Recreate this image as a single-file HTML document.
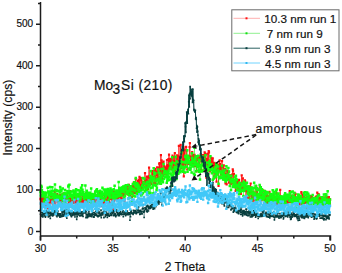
<!DOCTYPE html>
<html><head><meta charset="utf-8"><style>
html,body{margin:0;padding:0;background:#fff;}
svg{display:block;font-family:"Liberation Sans",sans-serif;}
text{stroke:#111;stroke-width:0.18px;}
</style></head><body>
<svg width="342" height="273" viewBox="0 0 342 273">
<rect width="342" height="273" fill="#fff"/>
<polyline fill="none" stroke="#ff1010" stroke-width="0.8" points="40.5,199.2 40.8,198.1 41.1,200.2 41.4,202.4 41.7,200.9 41.9,202.8 42.2,199.0 42.5,194.3 42.8,201.0 43.1,201.5 43.4,197.4 43.7,197.9 44.0,198.8 44.3,202.6 44.6,199.3 44.8,196.7 45.1,204.1 45.4,200.9 45.7,206.2 46.0,203.9 46.3,205.9 46.6,200.1 46.9,203.9 47.2,198.2 47.4,198.6 47.7,199.9 48.0,208.4 48.3,201.2 48.6,199.4 48.9,198.8 49.2,204.8 49.5,201.0 49.8,202.8 50.1,202.2 50.3,195.4 50.6,202.2 50.9,199.4 51.2,196.0 51.5,201.4 51.8,199.6 52.1,198.8 52.4,199.0 52.7,203.7 52.9,199.0 53.2,194.3 53.5,204.9 53.8,196.1 54.1,198.8 54.4,201.6 54.7,191.9 55.0,196.5 55.3,203.6 55.6,199.0 55.8,197.2 56.1,200.0 56.4,196.8 56.7,199.5 57.0,196.8 57.3,194.0 57.6,201.7 57.9,198.5 58.2,201.0 58.4,198.8 58.7,203.6 59.0,201.4 59.3,200.0 59.6,196.0 59.9,195.1 60.2,204.1 60.5,202.2 60.8,196.9 61.1,206.6 61.3,201.0 61.6,199.6 61.9,194.7 62.2,196.8 62.5,200.5 62.8,200.6 63.1,200.2 63.4,193.7 63.7,200.8 63.9,200.4 64.2,198.0 64.5,199.7 64.8,200.0 65.1,203.4 65.4,199.3 65.7,200.9 66.0,195.0 66.3,196.9 66.6,199.4 66.8,196.8 67.1,200.5 67.4,195.4 67.7,199.3 68.0,197.2 68.3,204.0 68.6,198.0 68.9,205.5 69.2,206.7 69.4,200.4 69.7,202.6 70.0,198.7 70.3,191.1 70.6,202.3 70.9,201.6 71.2,198.5 71.5,197.5 71.8,199.9 72.1,200.0 72.3,196.7 72.6,197.4 72.9,203.1 73.2,199.6 73.5,199.2 73.8,203.1 74.1,198.3 74.4,202.4 74.7,195.7 75.0,198.6 75.2,198.9 75.5,201.4 75.8,199.7 76.1,206.6 76.4,203.4 76.7,197.9 77.0,207.0 77.3,196.2 77.6,205.6 77.8,196.5 78.1,202.3 78.4,196.4 78.7,198.8 79.0,204.9 79.3,194.7 79.6,194.0 79.9,199.5 80.2,200.2 80.5,199.8 80.7,202.8 81.0,195.2 81.3,201.2 81.6,199.4 81.9,202.1 82.2,201.5 82.5,203.9 82.8,194.6 83.1,199.7 83.3,195.6 83.6,199.1 83.9,201.7 84.2,200.4 84.5,201.2 84.8,199.1 85.1,200.5 85.4,200.2 85.7,204.2 86.0,202.1 86.2,193.0 86.5,201.6 86.8,203.0 87.1,197.9 87.4,193.9 87.7,204.4 88.0,199.8 88.3,201.4 88.6,205.5 88.8,196.3 89.1,199.1 89.4,198.8 89.7,201.8 90.0,197.3 90.3,201.0 90.6,199.5 90.9,203.0 91.2,203.4 91.5,194.0 91.7,200.8 92.0,197.8 92.3,199.0 92.6,200.5 92.9,200.8 93.2,196.5 93.5,200.0 93.8,199.4 94.1,198.7 94.3,194.5 94.6,196.3 94.9,197.4 95.2,200.8 95.5,203.9 95.8,195.2 96.1,195.1 96.4,199.2 96.7,196.7 97.0,195.7 97.2,195.5 97.5,195.2 97.8,200.3 98.1,192.9 98.4,203.2 98.7,195.3 99.0,196.7 99.3,195.2 99.6,191.5 99.8,192.9 100.1,202.7 100.4,204.7 100.7,195.3 101.0,202.1 101.3,198.3 101.6,195.1 101.9,204.4 102.2,206.1 102.5,197.2 102.7,198.0 103.0,199.1 103.3,198.0 103.6,201.3 103.9,203.7 104.2,198.6 104.5,201.6 104.8,204.1 105.1,196.0 105.3,198.1 105.6,196.3 105.9,201.5 106.2,200.2 106.5,201.5 106.8,201.0 107.1,196.9 107.4,200.6 107.7,196.2 108.0,196.2 108.2,189.8 108.5,202.7 108.8,194.0 109.1,197.7 109.4,197.3 109.7,202.8 110.0,199.0 110.3,194.3 110.6,197.4 110.8,196.7 111.1,198.1 111.4,192.5 111.7,197.0 112.0,205.3 112.3,199.4 112.6,204.3 112.9,209.2 113.2,198.7 113.5,191.4 113.7,196.3 114.0,201.0 114.3,200.0 114.6,191.9 114.9,195.6 115.2,196.0 115.5,196.3 115.8,195.9 116.1,192.8 116.3,193.7 116.6,195.0 116.9,199.9 117.2,193.7 117.5,198.3 117.8,191.2 118.1,200.5 118.4,195.9 118.7,195.3 119.0,200.5 119.2,188.3 119.5,189.2 119.8,196.8 120.1,191.8 120.4,193.3 120.7,205.2 121.0,193.6 121.3,194.8 121.6,194.1 121.8,198.7 122.1,195.3 122.4,194.9 122.7,189.2 123.0,192.6 123.3,193.9 123.6,187.5 123.9,195.9 124.2,195.2 124.5,200.9 124.7,186.9 125.0,189.3 125.3,189.3 125.6,190.3 125.9,192.5 126.2,191.9 126.5,193.7 126.8,193.4 127.1,192.2 127.3,186.0 127.6,189.9 127.9,192.3 128.2,194.4 128.5,194.5 128.8,184.9 129.1,189.4 129.4,191.2 129.7,192.8 130.0,196.0 130.2,191.4 130.5,187.2 130.8,192.5 131.1,191.7 131.4,191.5 131.7,189.9 132.0,197.2 132.3,191.1 132.6,193.7 132.9,185.9 133.1,193.1 133.4,187.0 133.7,182.6 134.0,190.6 134.3,191.7 134.6,188.1 134.9,188.8 135.2,193.0 135.5,186.4 135.7,179.2 136.0,189.3 136.3,188.9 136.6,192.5 136.9,186.2 137.2,193.1 137.5,192.3 137.8,181.2 138.1,191.1 138.4,181.8 138.6,179.5 138.9,185.2 139.2,183.6 139.5,176.9 139.8,186.8 140.1,188.5 140.4,191.9 140.7,185.1 141.0,178.1 141.2,180.4 141.5,189.3 141.8,188.7 142.1,186.8 142.4,182.8 142.7,185.0 143.0,182.7 143.3,182.1 143.6,184.9 143.9,183.4 144.1,182.0 144.4,183.2 144.7,180.1 145.0,173.1 145.3,179.2 145.6,181.7 145.9,190.2 146.2,179.6 146.5,191.2 146.7,188.3 147.0,176.6 147.3,177.1 147.6,181.3 147.9,189.0 148.2,182.0 148.5,183.4 148.8,176.4 149.1,167.7 149.4,178.1 149.6,183.1 149.9,184.9 150.2,178.8 150.5,179.3 150.8,184.2 151.1,177.3 151.4,183.8 151.7,171.5 152.0,171.5 152.2,171.2 152.5,179.3 152.8,173.8 153.1,177.0 153.4,178.2 153.7,177.7 154.0,182.7 154.3,183.3 154.6,170.8 154.9,176.0 155.1,173.5 155.4,168.9 155.7,183.9 156.0,178.4 156.3,172.8 156.6,171.4 156.9,175.5 157.2,167.3 157.5,171.7 157.7,179.6 158.0,177.7 158.3,167.6 158.6,169.3 158.9,182.7 159.2,163.7 159.5,167.8 159.8,163.2 160.1,173.1 160.4,172.3 160.6,177.0 160.9,155.2 161.2,170.9 161.5,160.3 161.8,173.3 162.1,168.2 162.4,179.0 162.7,171.1 163.0,162.6 163.2,175.9 163.5,161.6 163.8,165.8 164.1,174.0 164.4,170.5 164.7,170.0 165.0,167.3 165.3,170.1 165.6,171.7 165.9,168.3 166.1,172.5 166.4,174.0 166.7,166.0 167.0,160.0 167.3,174.9 167.6,165.1 167.9,169.0 168.2,170.9 168.5,159.1 168.7,167.6 169.0,154.6 169.3,168.9 169.6,161.3 169.9,165.0 170.2,168.2 170.5,159.4 170.8,164.0 171.1,158.9 171.4,162.9 171.6,169.5 171.9,162.9 172.2,161.7 172.5,155.6 172.8,167.6 173.1,161.8 173.4,172.7 173.7,156.9 174.0,168.2 174.2,172.8 174.5,161.1 174.8,153.2 175.1,170.5 175.4,167.5 175.7,165.0 176.0,167.5 176.3,157.2 176.6,165.1 176.9,164.3 177.1,155.4 177.4,164.3 177.7,156.2 178.0,165.5 178.3,167.0 178.6,171.1 178.9,145.9 179.2,160.6 179.5,156.7 179.7,158.4 180.0,157.0 180.3,157.7 180.6,144.8 180.9,164.9 181.2,168.4 181.5,164.5 181.8,166.7 182.1,152.3 182.4,151.7 182.6,163.9 182.9,166.7 183.2,159.5 183.5,147.4 183.8,176.4 184.1,153.2 184.4,164.2 184.7,149.5 185.0,164.1 185.2,158.6 185.5,167.0 185.8,163.3 186.1,146.8 186.4,150.7 186.7,159.2 187.0,162.4 187.3,169.5 187.6,159.0 187.9,156.4 188.1,156.8 188.4,156.8 188.7,164.0 189.0,156.6 189.3,156.4 189.6,147.1 189.9,143.1 190.2,157.1 190.5,161.5 190.8,156.6 191.0,160.4 191.3,161.3 191.6,156.6 191.9,163.5 192.2,152.0 192.5,157.0 192.8,154.5 193.1,157.6 193.4,161.4 193.6,163.0 193.9,158.1 194.2,160.3 194.5,154.9 194.8,156.6 195.1,166.1 195.4,156.2 195.7,166.0 196.0,161.1 196.3,158.9 196.5,171.3 196.8,156.4 197.1,156.0 197.4,158.2 197.7,160.2 198.0,159.9 198.3,164.1 198.6,159.4 198.9,161.4 199.1,157.1 199.4,166.1 199.7,156.3 200.0,157.0 200.3,159.1 200.6,161.2 200.9,154.6 201.2,169.8 201.5,155.5 201.8,157.1 202.0,156.9 202.3,156.4 202.6,163.5 202.9,161.0 203.2,155.1 203.5,156.6 203.8,158.3 204.1,169.9 204.4,156.3 204.6,152.3 204.9,153.5 205.2,158.8 205.5,170.9 205.8,154.5 206.1,161.9 206.4,177.8 206.7,158.7 207.0,171.2 207.3,170.1 207.5,165.9 207.8,153.6 208.1,164.5 208.4,160.5 208.7,151.1 209.0,152.3 209.3,163.5 209.6,164.6 209.9,171.3 210.1,167.8 210.4,160.8 210.7,161.2 211.0,163.3 211.3,157.8 211.6,169.3 211.9,164.9 212.2,160.1 212.5,161.3 212.8,158.4 213.0,162.9 213.3,167.5 213.6,163.5 213.9,172.3 214.2,176.4 214.5,162.8 214.8,167.0 215.1,165.0 215.4,177.5 215.6,169.5 215.9,171.2 216.2,173.0 216.5,181.7 216.8,170.2 217.1,163.0 217.4,166.3 217.7,172.5 218.0,169.2 218.3,164.8 218.5,186.0 218.8,170.5 219.1,166.8 219.4,166.2 219.7,160.5 220.0,164.0 220.3,169.1 220.6,169.4 220.9,166.8 221.1,174.7 221.4,172.1 221.7,166.9 222.0,161.1 222.3,173.5 222.6,173.1 222.9,171.9 223.2,165.6 223.5,173.7 223.8,165.4 224.0,179.4 224.3,175.2 224.6,175.5 224.9,170.3 225.2,169.1 225.5,183.5 225.8,180.4 226.1,173.7 226.4,179.4 226.6,184.3 226.9,170.6 227.2,173.8 227.5,174.1 227.8,179.5 228.1,171.7 228.4,178.7 228.7,171.8 229.0,182.7 229.3,182.6 229.5,177.3 229.8,182.3 230.1,175.2 230.4,177.6 230.7,184.0 231.0,179.1 231.3,181.5 231.6,175.2 231.9,183.4 232.1,182.6 232.4,174.4 232.7,169.4 233.0,170.8 233.3,180.9 233.6,180.3 233.9,173.9 234.2,182.5 234.5,186.9 234.8,181.7 235.0,180.2 235.3,186.8 235.6,191.0 235.9,190.2 236.2,180.1 236.5,187.2 236.8,184.4 237.1,182.9 237.4,181.1 237.6,185.9 237.9,182.1 238.2,189.0 238.5,186.6 238.8,190.0 239.1,179.9 239.4,185.6 239.7,189.2 240.0,187.5 240.3,187.1 240.5,183.0 240.8,193.9 241.1,191.4 241.4,188.6 241.7,175.3 242.0,182.8 242.3,187.9 242.6,184.3 242.9,178.3 243.1,188.9 243.4,189.7 243.7,182.7 244.0,186.2 244.3,185.5 244.6,191.0 244.9,180.3 245.2,181.4 245.5,186.7 245.8,186.3 246.0,198.5 246.3,186.9 246.6,190.7 246.9,188.1 247.2,187.2 247.5,191.8 247.8,197.8 248.1,189.0 248.4,194.0 248.7,192.3 248.9,193.7 249.2,192.7 249.5,201.2 249.8,186.3 250.1,190.5 250.4,187.0 250.7,183.5 251.0,191.9 251.3,199.8 251.5,196.1 251.8,197.5 252.1,194.7 252.4,192.4 252.7,201.2 253.0,191.5 253.3,199.3 253.6,191.9 253.9,193.8 254.2,194.7 254.4,193.8 254.7,195.9 255.0,196.3 255.3,200.8 255.6,194.1 255.9,186.6 256.2,186.2 256.5,189.0 256.8,191.6 257.0,197.3 257.3,188.8 257.6,195.0 257.9,195.1 258.2,196.1 258.5,194.7 258.8,196.9 259.1,195.6 259.4,199.6 259.7,196.9 259.9,186.5 260.2,195.9 260.5,196.6 260.8,193.7 261.1,193.1 261.4,200.3 261.7,196.8 262.0,192.5 262.3,195.1 262.5,195.8 262.8,190.3 263.1,199.1 263.4,196.2 263.7,198.6 264.0,190.9 264.3,204.3 264.6,199.4 264.9,198.9 265.2,194.4 265.4,194.7 265.7,191.7 266.0,203.2 266.3,194.4 266.6,198.4 266.9,199.9 267.2,195.4 267.5,201.0 267.8,205.5 268.0,199.0 268.3,203.4 268.6,200.2 268.9,196.4 269.2,196.7 269.5,191.9 269.8,198.7 270.1,203.8 270.4,200.9 270.7,201.6 270.9,202.8 271.2,196.6 271.5,200.7 271.8,205.7 272.1,195.7 272.4,198.8 272.7,197.1 273.0,198.1 273.3,196.2 273.5,198.4 273.8,194.0 274.1,197.1 274.4,197.3 274.7,197.2 275.0,204.2 275.3,199.4 275.6,199.8 275.9,198.1 276.2,204.0 276.4,192.9 276.7,198.6 277.0,203.5 277.3,205.4 277.6,200.2 277.9,199.5 278.2,201.8 278.5,198.9 278.8,201.6 279.0,197.3 279.3,202.0 279.6,199.5 279.9,195.8 280.2,190.0 280.5,203.1 280.8,201.2 281.1,202.6 281.4,196.6 281.7,203.7 281.9,201.3 282.2,199.7 282.5,203.2 282.8,203.1 283.1,201.4 283.4,207.4 283.7,205.0 284.0,201.2 284.3,199.2 284.5,200.5 284.8,206.3 285.1,201.5 285.4,196.9 285.7,197.8 286.0,200.2 286.3,203.1 286.6,197.6 286.9,202.0 287.2,204.2 287.4,202.9 287.7,194.7 288.0,199.2 288.3,195.8 288.6,201.8 288.9,196.7 289.2,202.3 289.5,200.7 289.8,191.1 290.0,197.3 290.3,201.9 290.6,200.5 290.9,199.0 291.2,195.8 291.5,202.0 291.8,206.5 292.1,201.2 292.4,200.2 292.7,199.8 292.9,195.5 293.2,199.1 293.5,197.3 293.8,204.3 294.1,197.2 294.4,192.8 294.7,197.5 295.0,199.4 295.3,199.8 295.5,193.9 295.8,203.7 296.1,200.8 296.4,198.7 296.7,197.7 297.0,202.0 297.3,199.3 297.6,201.4 297.9,200.0 298.2,200.9 298.4,204.5 298.7,200.5 299.0,197.3 299.3,203.9 299.6,201.3 299.9,198.1 300.2,204.3 300.5,199.8 300.8,204.3 301.0,196.4 301.3,192.2 301.6,193.3 301.9,201.3 302.2,197.9 302.5,200.1 302.8,200.2 303.1,195.0 303.4,205.3 303.7,196.8 303.9,200.7 304.2,195.5 304.5,199.9 304.8,203.0 305.1,199.6 305.4,198.0 305.7,200.5 306.0,198.9 306.3,202.5 306.6,208.2 306.8,197.4 307.1,198.1 307.4,200.1 307.7,200.4 308.0,196.9 308.3,202.3 308.6,203.2 308.9,201.3 309.2,196.4 309.4,205.6 309.7,196.4 310.0,202.9 310.3,204.6 310.6,196.2 310.9,201.0 311.2,205.3 311.5,202.0 311.8,197.4 312.1,196.4 312.3,202.2 312.6,199.2 312.9,198.1 313.2,203.0 313.5,199.4 313.8,200.8 314.1,202.6 314.4,202.5 314.7,200.5 314.9,200.6 315.2,202.7 315.5,202.2 315.8,196.7 316.1,200.0 316.4,197.6 316.7,196.4 317.0,198.6 317.3,192.6 317.6,203.7 317.8,197.9 318.1,201.9 318.4,194.1 318.7,194.7 319.0,207.7 319.3,204.2 319.6,198.4 319.9,197.9 320.2,198.1 320.4,201.0 320.7,199.1 321.0,198.4 321.3,201.1 321.6,197.1 321.9,208.8 322.2,198.5 322.5,204.5 322.8,197.4 323.1,201.6 323.3,204.0 323.6,199.5 323.9,204.0 324.2,204.1 324.5,206.4 324.8,200.9 325.1,199.0 325.4,197.2 325.7,201.3 325.9,197.1 326.2,200.7 326.5,201.1 326.8,198.8 327.1,197.0 327.4,202.0 327.7,201.7 328.0,201.4 328.3,200.5 328.6,204.0 328.8,197.2 329.1,202.3 329.4,199.2 329.7,203.8 330.0,199.6"/><path fill="#ff1010" d="M39.40 198.08h2.2v2.2h-2.2zM39.69 196.99h2.2v2.2h-2.2zM39.98 199.09h2.2v2.2h-2.2zM40.27 201.35h2.2v2.2h-2.2zM40.56 199.75h2.2v2.2h-2.2zM40.85 201.72h2.2v2.2h-2.2zM41.14 197.87h2.2v2.2h-2.2zM41.43 193.19h2.2v2.2h-2.2zM41.72 199.90h2.2v2.2h-2.2zM42.01 200.37h2.2v2.2h-2.2zM42.29 196.31h2.2v2.2h-2.2zM42.58 196.79h2.2v2.2h-2.2zM42.87 197.72h2.2v2.2h-2.2zM43.16 201.51h2.2v2.2h-2.2zM43.45 198.21h2.2v2.2h-2.2zM43.74 195.56h2.2v2.2h-2.2zM44.03 203.02h2.2v2.2h-2.2zM44.32 199.78h2.2v2.2h-2.2zM44.61 205.06h2.2v2.2h-2.2zM44.90 202.83h2.2v2.2h-2.2zM45.19 204.85h2.2v2.2h-2.2zM45.48 198.98h2.2v2.2h-2.2zM45.77 202.75h2.2v2.2h-2.2zM46.06 197.13h2.2v2.2h-2.2zM46.35 197.55h2.2v2.2h-2.2zM46.64 198.81h2.2v2.2h-2.2zM46.93 207.33h2.2v2.2h-2.2zM47.22 200.09h2.2v2.2h-2.2zM47.51 198.30h2.2v2.2h-2.2zM47.80 197.71h2.2v2.2h-2.2zM48.08 203.72h2.2v2.2h-2.2zM48.37 199.88h2.2v2.2h-2.2zM48.66 201.71h2.2v2.2h-2.2zM48.95 201.09h2.2v2.2h-2.2zM49.24 194.26h2.2v2.2h-2.2zM49.53 201.09h2.2v2.2h-2.2zM49.82 198.26h2.2v2.2h-2.2zM50.11 194.91h2.2v2.2h-2.2zM50.40 200.27h2.2v2.2h-2.2zM50.69 198.55h2.2v2.2h-2.2zM50.98 197.74h2.2v2.2h-2.2zM51.27 197.91h2.2v2.2h-2.2zM51.56 202.62h2.2v2.2h-2.2zM51.85 197.87h2.2v2.2h-2.2zM52.14 193.18h2.2v2.2h-2.2zM52.43 203.81h2.2v2.2h-2.2zM52.72 195.01h2.2v2.2h-2.2zM53.01 197.72h2.2v2.2h-2.2zM53.30 200.50h2.2v2.2h-2.2zM53.59 190.84h2.2v2.2h-2.2zM53.87 195.37h2.2v2.2h-2.2zM54.16 202.54h2.2v2.2h-2.2zM54.45 197.89h2.2v2.2h-2.2zM54.74 196.05h2.2v2.2h-2.2zM55.03 198.85h2.2v2.2h-2.2zM55.32 195.67h2.2v2.2h-2.2zM55.61 198.41h2.2v2.2h-2.2zM55.90 195.73h2.2v2.2h-2.2zM56.19 192.91h2.2v2.2h-2.2zM56.48 200.64h2.2v2.2h-2.2zM56.77 197.43h2.2v2.2h-2.2zM57.06 199.86h2.2v2.2h-2.2zM57.35 197.71h2.2v2.2h-2.2zM57.64 202.51h2.2v2.2h-2.2zM57.93 200.29h2.2v2.2h-2.2zM58.22 198.89h2.2v2.2h-2.2zM58.51 194.89h2.2v2.2h-2.2zM58.80 193.99h2.2v2.2h-2.2zM59.09 203.01h2.2v2.2h-2.2zM59.38 201.08h2.2v2.2h-2.2zM59.66 195.81h2.2v2.2h-2.2zM59.95 205.46h2.2v2.2h-2.2zM60.24 199.87h2.2v2.2h-2.2zM60.53 198.54h2.2v2.2h-2.2zM60.82 193.59h2.2v2.2h-2.2zM61.11 195.66h2.2v2.2h-2.2zM61.40 199.38h2.2v2.2h-2.2zM61.69 199.53h2.2v2.2h-2.2zM61.98 199.10h2.2v2.2h-2.2zM62.27 192.62h2.2v2.2h-2.2zM62.56 199.75h2.2v2.2h-2.2zM62.85 199.30h2.2v2.2h-2.2zM63.14 196.90h2.2v2.2h-2.2zM63.43 198.63h2.2v2.2h-2.2zM63.72 198.91h2.2v2.2h-2.2zM64.01 202.26h2.2v2.2h-2.2zM64.30 198.23h2.2v2.2h-2.2zM64.59 199.81h2.2v2.2h-2.2zM64.88 193.93h2.2v2.2h-2.2zM65.17 195.80h2.2v2.2h-2.2zM65.45 198.28h2.2v2.2h-2.2zM65.74 195.75h2.2v2.2h-2.2zM66.03 199.43h2.2v2.2h-2.2zM66.32 194.35h2.2v2.2h-2.2zM66.61 198.21h2.2v2.2h-2.2zM66.90 196.06h2.2v2.2h-2.2zM67.19 202.91h2.2v2.2h-2.2zM67.48 196.92h2.2v2.2h-2.2zM67.77 204.36h2.2v2.2h-2.2zM68.06 205.63h2.2v2.2h-2.2zM68.35 199.30h2.2v2.2h-2.2zM68.64 201.48h2.2v2.2h-2.2zM68.93 197.59h2.2v2.2h-2.2zM69.22 189.99h2.2v2.2h-2.2zM69.51 201.23h2.2v2.2h-2.2zM69.80 200.47h2.2v2.2h-2.2zM70.09 197.44h2.2v2.2h-2.2zM70.38 196.38h2.2v2.2h-2.2zM70.67 198.83h2.2v2.2h-2.2zM70.96 198.94h2.2v2.2h-2.2zM71.24 195.62h2.2v2.2h-2.2zM71.53 196.28h2.2v2.2h-2.2zM71.82 201.96h2.2v2.2h-2.2zM72.11 198.47h2.2v2.2h-2.2zM72.40 198.05h2.2v2.2h-2.2zM72.69 202.03h2.2v2.2h-2.2zM72.98 197.23h2.2v2.2h-2.2zM73.27 201.31h2.2v2.2h-2.2zM73.56 194.62h2.2v2.2h-2.2zM73.85 197.47h2.2v2.2h-2.2zM74.14 197.85h2.2v2.2h-2.2zM74.43 200.33h2.2v2.2h-2.2zM74.72 198.60h2.2v2.2h-2.2zM75.01 205.47h2.2v2.2h-2.2zM75.30 202.30h2.2v2.2h-2.2zM75.59 196.83h2.2v2.2h-2.2zM75.88 205.95h2.2v2.2h-2.2zM76.17 195.06h2.2v2.2h-2.2zM76.46 204.54h2.2v2.2h-2.2zM76.75 195.38h2.2v2.2h-2.2zM77.03 201.24h2.2v2.2h-2.2zM77.32 195.30h2.2v2.2h-2.2zM77.61 197.66h2.2v2.2h-2.2zM77.90 203.76h2.2v2.2h-2.2zM78.19 193.57h2.2v2.2h-2.2zM78.48 192.86h2.2v2.2h-2.2zM78.77 198.37h2.2v2.2h-2.2zM79.06 199.13h2.2v2.2h-2.2zM79.35 198.71h2.2v2.2h-2.2zM79.64 201.69h2.2v2.2h-2.2zM79.93 194.09h2.2v2.2h-2.2zM80.22 200.10h2.2v2.2h-2.2zM80.51 198.29h2.2v2.2h-2.2zM80.80 201.01h2.2v2.2h-2.2zM81.09 200.39h2.2v2.2h-2.2zM81.38 202.77h2.2v2.2h-2.2zM81.67 193.48h2.2v2.2h-2.2zM81.96 198.65h2.2v2.2h-2.2zM82.25 194.54h2.2v2.2h-2.2zM82.54 198.02h2.2v2.2h-2.2zM82.82 200.61h2.2v2.2h-2.2zM83.11 199.26h2.2v2.2h-2.2zM83.40 200.11h2.2v2.2h-2.2zM83.69 198.02h2.2v2.2h-2.2zM83.98 199.42h2.2v2.2h-2.2zM84.27 199.14h2.2v2.2h-2.2zM84.56 203.09h2.2v2.2h-2.2zM84.85 200.98h2.2v2.2h-2.2zM85.14 191.94h2.2v2.2h-2.2zM85.43 200.47h2.2v2.2h-2.2zM85.72 201.87h2.2v2.2h-2.2zM86.01 196.75h2.2v2.2h-2.2zM86.30 192.82h2.2v2.2h-2.2zM86.59 203.32h2.2v2.2h-2.2zM86.88 198.73h2.2v2.2h-2.2zM87.17 200.28h2.2v2.2h-2.2zM87.46 204.42h2.2v2.2h-2.2zM87.75 195.24h2.2v2.2h-2.2zM88.04 198.02h2.2v2.2h-2.2zM88.33 197.66h2.2v2.2h-2.2zM88.61 200.68h2.2v2.2h-2.2zM88.90 196.23h2.2v2.2h-2.2zM89.19 199.87h2.2v2.2h-2.2zM89.48 198.40h2.2v2.2h-2.2zM89.77 201.95h2.2v2.2h-2.2zM90.06 202.33h2.2v2.2h-2.2zM90.35 192.92h2.2v2.2h-2.2zM90.64 199.70h2.2v2.2h-2.2zM90.93 196.74h2.2v2.2h-2.2zM91.22 197.93h2.2v2.2h-2.2zM91.51 199.42h2.2v2.2h-2.2zM91.80 199.65h2.2v2.2h-2.2zM92.09 195.44h2.2v2.2h-2.2zM92.38 198.86h2.2v2.2h-2.2zM92.67 198.29h2.2v2.2h-2.2zM92.96 197.64h2.2v2.2h-2.2zM93.25 193.36h2.2v2.2h-2.2zM93.54 195.17h2.2v2.2h-2.2zM93.83 196.26h2.2v2.2h-2.2zM94.12 199.74h2.2v2.2h-2.2zM94.40 202.75h2.2v2.2h-2.2zM94.69 194.11h2.2v2.2h-2.2zM94.98 194.02h2.2v2.2h-2.2zM95.27 198.11h2.2v2.2h-2.2zM95.56 195.56h2.2v2.2h-2.2zM95.85 194.65h2.2v2.2h-2.2zM96.14 194.44h2.2v2.2h-2.2zM96.43 194.09h2.2v2.2h-2.2zM96.72 199.18h2.2v2.2h-2.2zM97.01 191.84h2.2v2.2h-2.2zM97.30 202.08h2.2v2.2h-2.2zM97.59 194.22h2.2v2.2h-2.2zM97.88 195.56h2.2v2.2h-2.2zM98.17 194.13h2.2v2.2h-2.2zM98.46 190.36h2.2v2.2h-2.2zM98.75 191.80h2.2v2.2h-2.2zM99.04 201.57h2.2v2.2h-2.2zM99.33 203.58h2.2v2.2h-2.2zM99.62 194.21h2.2v2.2h-2.2zM99.91 201.02h2.2v2.2h-2.2zM100.19 197.25h2.2v2.2h-2.2zM100.48 194.04h2.2v2.2h-2.2zM100.77 203.29h2.2v2.2h-2.2zM101.06 205.01h2.2v2.2h-2.2zM101.35 196.12h2.2v2.2h-2.2zM101.64 196.89h2.2v2.2h-2.2zM101.93 197.95h2.2v2.2h-2.2zM102.22 196.85h2.2v2.2h-2.2zM102.51 200.20h2.2v2.2h-2.2zM102.80 202.62h2.2v2.2h-2.2zM103.09 197.53h2.2v2.2h-2.2zM103.38 200.52h2.2v2.2h-2.2zM103.67 203.02h2.2v2.2h-2.2zM103.96 194.90h2.2v2.2h-2.2zM104.25 197.00h2.2v2.2h-2.2zM104.54 195.19h2.2v2.2h-2.2zM104.83 200.43h2.2v2.2h-2.2zM105.12 199.14h2.2v2.2h-2.2zM105.41 200.39h2.2v2.2h-2.2zM105.70 199.93h2.2v2.2h-2.2zM105.98 195.80h2.2v2.2h-2.2zM106.27 199.46h2.2v2.2h-2.2zM106.56 195.10h2.2v2.2h-2.2zM106.85 195.12h2.2v2.2h-2.2zM107.14 188.67h2.2v2.2h-2.2zM107.43 201.62h2.2v2.2h-2.2zM107.72 192.90h2.2v2.2h-2.2zM108.01 196.58h2.2v2.2h-2.2zM108.30 196.24h2.2v2.2h-2.2zM108.59 201.68h2.2v2.2h-2.2zM108.88 197.85h2.2v2.2h-2.2zM109.17 193.20h2.2v2.2h-2.2zM109.46 196.31h2.2v2.2h-2.2zM109.75 195.63h2.2v2.2h-2.2zM110.04 197.01h2.2v2.2h-2.2zM110.33 191.41h2.2v2.2h-2.2zM110.62 195.87h2.2v2.2h-2.2zM110.91 204.20h2.2v2.2h-2.2zM111.20 198.34h2.2v2.2h-2.2zM111.49 203.22h2.2v2.2h-2.2zM111.77 208.12h2.2v2.2h-2.2zM112.06 197.56h2.2v2.2h-2.2zM112.35 190.28h2.2v2.2h-2.2zM112.64 195.20h2.2v2.2h-2.2zM112.93 199.88h2.2v2.2h-2.2zM113.22 198.92h2.2v2.2h-2.2zM113.51 190.80h2.2v2.2h-2.2zM113.80 194.52h2.2v2.2h-2.2zM114.09 194.88h2.2v2.2h-2.2zM114.38 195.21h2.2v2.2h-2.2zM114.67 194.79h2.2v2.2h-2.2zM114.96 191.71h2.2v2.2h-2.2zM115.25 192.63h2.2v2.2h-2.2zM115.54 193.88h2.2v2.2h-2.2zM115.83 198.76h2.2v2.2h-2.2zM116.12 192.57h2.2v2.2h-2.2zM116.41 197.21h2.2v2.2h-2.2zM116.70 190.11h2.2v2.2h-2.2zM116.99 199.38h2.2v2.2h-2.2zM117.28 194.82h2.2v2.2h-2.2zM117.56 194.23h2.2v2.2h-2.2zM117.85 199.38h2.2v2.2h-2.2zM118.14 187.18h2.2v2.2h-2.2zM118.43 188.13h2.2v2.2h-2.2zM118.72 195.72h2.2v2.2h-2.2zM119.01 190.70h2.2v2.2h-2.2zM119.30 192.18h2.2v2.2h-2.2zM119.59 204.10h2.2v2.2h-2.2zM119.88 192.52h2.2v2.2h-2.2zM120.17 193.68h2.2v2.2h-2.2zM120.46 193.01h2.2v2.2h-2.2zM120.75 197.60h2.2v2.2h-2.2zM121.04 194.25h2.2v2.2h-2.2zM121.33 193.78h2.2v2.2h-2.2zM121.62 188.14h2.2v2.2h-2.2zM121.91 191.51h2.2v2.2h-2.2zM122.20 192.79h2.2v2.2h-2.2zM122.49 186.42h2.2v2.2h-2.2zM122.78 194.84h2.2v2.2h-2.2zM123.07 194.06h2.2v2.2h-2.2zM123.35 199.83h2.2v2.2h-2.2zM123.64 185.79h2.2v2.2h-2.2zM123.93 188.17h2.2v2.2h-2.2zM124.22 188.25h2.2v2.2h-2.2zM124.51 189.16h2.2v2.2h-2.2zM124.80 191.36h2.2v2.2h-2.2zM125.09 190.81h2.2v2.2h-2.2zM125.38 192.64h2.2v2.2h-2.2zM125.67 192.32h2.2v2.2h-2.2zM125.96 191.13h2.2v2.2h-2.2zM126.25 184.89h2.2v2.2h-2.2zM126.54 188.78h2.2v2.2h-2.2zM126.83 191.24h2.2v2.2h-2.2zM127.12 193.32h2.2v2.2h-2.2zM127.41 193.44h2.2v2.2h-2.2zM127.70 183.82h2.2v2.2h-2.2zM127.99 188.34h2.2v2.2h-2.2zM128.28 190.08h2.2v2.2h-2.2zM128.57 191.72h2.2v2.2h-2.2zM128.86 194.86h2.2v2.2h-2.2zM129.14 190.26h2.2v2.2h-2.2zM129.43 186.08h2.2v2.2h-2.2zM129.72 191.40h2.2v2.2h-2.2zM130.01 190.55h2.2v2.2h-2.2zM130.30 190.39h2.2v2.2h-2.2zM130.59 188.81h2.2v2.2h-2.2zM130.88 196.09h2.2v2.2h-2.2zM131.17 190.03h2.2v2.2h-2.2zM131.46 192.60h2.2v2.2h-2.2zM131.75 184.83h2.2v2.2h-2.2zM132.04 191.96h2.2v2.2h-2.2zM132.33 185.87h2.2v2.2h-2.2zM132.62 181.52h2.2v2.2h-2.2zM132.91 189.50h2.2v2.2h-2.2zM133.20 190.64h2.2v2.2h-2.2zM133.49 186.95h2.2v2.2h-2.2zM133.78 187.66h2.2v2.2h-2.2zM134.07 191.94h2.2v2.2h-2.2zM134.36 185.26h2.2v2.2h-2.2zM134.65 178.08h2.2v2.2h-2.2zM134.93 188.17h2.2v2.2h-2.2zM135.22 187.76h2.2v2.2h-2.2zM135.51 191.43h2.2v2.2h-2.2zM135.80 185.06h2.2v2.2h-2.2zM136.09 192.04h2.2v2.2h-2.2zM136.38 191.25h2.2v2.2h-2.2zM136.67 180.12h2.2v2.2h-2.2zM136.96 190.00h2.2v2.2h-2.2zM137.25 180.66h2.2v2.2h-2.2zM137.54 178.41h2.2v2.2h-2.2zM137.83 184.10h2.2v2.2h-2.2zM138.12 182.54h2.2v2.2h-2.2zM138.41 175.81h2.2v2.2h-2.2zM138.70 185.69h2.2v2.2h-2.2zM138.99 187.37h2.2v2.2h-2.2zM139.28 190.79h2.2v2.2h-2.2zM139.57 184.02h2.2v2.2h-2.2zM139.86 177.00h2.2v2.2h-2.2zM140.15 179.27h2.2v2.2h-2.2zM140.44 188.15h2.2v2.2h-2.2zM140.72 187.56h2.2v2.2h-2.2zM141.01 185.69h2.2v2.2h-2.2zM141.30 181.67h2.2v2.2h-2.2zM141.59 183.88h2.2v2.2h-2.2zM141.88 181.65h2.2v2.2h-2.2zM142.17 181.05h2.2v2.2h-2.2zM142.46 183.75h2.2v2.2h-2.2zM142.75 182.29h2.2v2.2h-2.2zM143.04 180.88h2.2v2.2h-2.2zM143.33 182.11h2.2v2.2h-2.2zM143.62 179.00h2.2v2.2h-2.2zM143.91 172.01h2.2v2.2h-2.2zM144.20 178.14h2.2v2.2h-2.2zM144.49 180.60h2.2v2.2h-2.2zM144.78 189.11h2.2v2.2h-2.2zM145.07 178.51h2.2v2.2h-2.2zM145.36 190.06h2.2v2.2h-2.2zM145.65 187.16h2.2v2.2h-2.2zM145.94 175.50h2.2v2.2h-2.2zM146.23 176.03h2.2v2.2h-2.2zM146.51 180.17h2.2v2.2h-2.2zM146.80 187.94h2.2v2.2h-2.2zM147.09 180.88h2.2v2.2h-2.2zM147.38 182.26h2.2v2.2h-2.2zM147.67 175.25h2.2v2.2h-2.2zM147.96 166.62h2.2v2.2h-2.2zM148.25 176.98h2.2v2.2h-2.2zM148.54 181.95h2.2v2.2h-2.2zM148.83 183.80h2.2v2.2h-2.2zM149.12 177.74h2.2v2.2h-2.2zM149.41 178.16h2.2v2.2h-2.2zM149.70 183.09h2.2v2.2h-2.2zM149.99 176.16h2.2v2.2h-2.2zM150.28 182.68h2.2v2.2h-2.2zM150.57 170.40h2.2v2.2h-2.2zM150.86 170.42h2.2v2.2h-2.2zM151.15 170.06h2.2v2.2h-2.2zM151.44 178.21h2.2v2.2h-2.2zM151.73 172.65h2.2v2.2h-2.2zM152.02 175.92h2.2v2.2h-2.2zM152.30 177.09h2.2v2.2h-2.2zM152.59 176.60h2.2v2.2h-2.2zM152.88 181.64h2.2v2.2h-2.2zM153.17 182.22h2.2v2.2h-2.2zM153.46 169.69h2.2v2.2h-2.2zM153.75 174.89h2.2v2.2h-2.2zM154.04 172.41h2.2v2.2h-2.2zM154.33 167.81h2.2v2.2h-2.2zM154.62 182.82h2.2v2.2h-2.2zM154.91 177.31h2.2v2.2h-2.2zM155.20 171.71h2.2v2.2h-2.2zM155.49 170.25h2.2v2.2h-2.2zM155.78 174.36h2.2v2.2h-2.2zM156.07 166.17h2.2v2.2h-2.2zM156.36 170.57h2.2v2.2h-2.2zM156.65 178.46h2.2v2.2h-2.2zM156.94 176.64h2.2v2.2h-2.2zM157.23 166.46h2.2v2.2h-2.2zM157.52 168.18h2.2v2.2h-2.2zM157.81 181.59h2.2v2.2h-2.2zM158.09 162.59h2.2v2.2h-2.2zM158.38 166.69h2.2v2.2h-2.2zM158.67 162.11h2.2v2.2h-2.2zM158.96 171.95h2.2v2.2h-2.2zM159.25 171.21h2.2v2.2h-2.2zM159.54 175.88h2.2v2.2h-2.2zM159.83 154.07h2.2v2.2h-2.2zM160.12 169.84h2.2v2.2h-2.2zM160.41 159.16h2.2v2.2h-2.2zM160.70 172.20h2.2v2.2h-2.2zM160.99 167.15h2.2v2.2h-2.2zM161.28 177.90h2.2v2.2h-2.2zM161.57 169.97h2.2v2.2h-2.2zM161.86 161.53h2.2v2.2h-2.2zM162.15 174.79h2.2v2.2h-2.2zM162.44 160.52h2.2v2.2h-2.2zM162.73 164.74h2.2v2.2h-2.2zM163.02 172.92h2.2v2.2h-2.2zM163.31 169.41h2.2v2.2h-2.2zM163.60 168.94h2.2v2.2h-2.2zM163.88 166.22h2.2v2.2h-2.2zM164.17 169.00h2.2v2.2h-2.2zM164.46 170.59h2.2v2.2h-2.2zM164.75 167.16h2.2v2.2h-2.2zM165.04 171.43h2.2v2.2h-2.2zM165.33 172.87h2.2v2.2h-2.2zM165.62 164.94h2.2v2.2h-2.2zM165.91 158.92h2.2v2.2h-2.2zM166.20 173.81h2.2v2.2h-2.2zM166.49 164.00h2.2v2.2h-2.2zM166.78 167.91h2.2v2.2h-2.2zM167.07 169.79h2.2v2.2h-2.2zM167.36 158.01h2.2v2.2h-2.2zM167.65 166.50h2.2v2.2h-2.2zM167.94 153.49h2.2v2.2h-2.2zM168.23 167.79h2.2v2.2h-2.2zM168.52 160.16h2.2v2.2h-2.2zM168.81 163.89h2.2v2.2h-2.2zM169.10 167.08h2.2v2.2h-2.2zM169.39 158.27h2.2v2.2h-2.2zM169.67 162.86h2.2v2.2h-2.2zM169.96 157.78h2.2v2.2h-2.2zM170.25 161.80h2.2v2.2h-2.2zM170.54 168.36h2.2v2.2h-2.2zM170.83 161.79h2.2v2.2h-2.2zM171.12 160.61h2.2v2.2h-2.2zM171.41 154.51h2.2v2.2h-2.2zM171.70 166.54h2.2v2.2h-2.2zM171.99 160.69h2.2v2.2h-2.2zM172.28 171.58h2.2v2.2h-2.2zM172.57 155.80h2.2v2.2h-2.2zM172.86 167.06h2.2v2.2h-2.2zM173.15 171.71h2.2v2.2h-2.2zM173.44 159.99h2.2v2.2h-2.2zM173.73 152.10h2.2v2.2h-2.2zM174.02 169.42h2.2v2.2h-2.2zM174.31 166.38h2.2v2.2h-2.2zM174.60 163.94h2.2v2.2h-2.2zM174.89 166.38h2.2v2.2h-2.2zM175.18 156.14h2.2v2.2h-2.2zM175.46 163.96h2.2v2.2h-2.2zM175.75 163.25h2.2v2.2h-2.2zM176.04 154.33h2.2v2.2h-2.2zM176.33 163.21h2.2v2.2h-2.2zM176.62 155.06h2.2v2.2h-2.2zM176.91 164.42h2.2v2.2h-2.2zM177.20 165.94h2.2v2.2h-2.2zM177.49 170.05h2.2v2.2h-2.2zM177.78 144.84h2.2v2.2h-2.2zM178.07 159.53h2.2v2.2h-2.2zM178.36 155.58h2.2v2.2h-2.2zM178.65 157.33h2.2v2.2h-2.2zM178.94 155.92h2.2v2.2h-2.2zM179.23 156.56h2.2v2.2h-2.2zM179.52 143.73h2.2v2.2h-2.2zM179.81 163.81h2.2v2.2h-2.2zM180.10 167.28h2.2v2.2h-2.2zM180.39 163.44h2.2v2.2h-2.2zM180.68 165.58h2.2v2.2h-2.2zM180.97 151.17h2.2v2.2h-2.2zM181.25 150.57h2.2v2.2h-2.2zM181.54 162.76h2.2v2.2h-2.2zM181.83 165.65h2.2v2.2h-2.2zM182.12 158.42h2.2v2.2h-2.2zM182.41 146.27h2.2v2.2h-2.2zM182.70 175.34h2.2v2.2h-2.2zM182.99 152.10h2.2v2.2h-2.2zM183.28 163.14h2.2v2.2h-2.2zM183.57 148.40h2.2v2.2h-2.2zM183.86 163.04h2.2v2.2h-2.2zM184.15 157.49h2.2v2.2h-2.2zM184.44 165.92h2.2v2.2h-2.2zM184.73 162.19h2.2v2.2h-2.2zM185.02 145.71h2.2v2.2h-2.2zM185.31 149.59h2.2v2.2h-2.2zM185.60 158.06h2.2v2.2h-2.2zM185.89 161.29h2.2v2.2h-2.2zM186.18 168.39h2.2v2.2h-2.2zM186.47 157.91h2.2v2.2h-2.2zM186.76 155.35h2.2v2.2h-2.2zM187.04 155.69h2.2v2.2h-2.2zM187.33 155.74h2.2v2.2h-2.2zM187.62 162.90h2.2v2.2h-2.2zM187.91 155.52h2.2v2.2h-2.2zM188.20 155.31h2.2v2.2h-2.2zM188.49 146.02h2.2v2.2h-2.2zM188.78 141.99h2.2v2.2h-2.2zM189.07 155.98h2.2v2.2h-2.2zM189.36 160.38h2.2v2.2h-2.2zM189.65 155.49h2.2v2.2h-2.2zM189.94 159.28h2.2v2.2h-2.2zM190.23 160.24h2.2v2.2h-2.2zM190.52 155.48h2.2v2.2h-2.2zM190.81 162.37h2.2v2.2h-2.2zM191.10 150.88h2.2v2.2h-2.2zM191.39 155.86h2.2v2.2h-2.2zM191.68 153.42h2.2v2.2h-2.2zM191.97 156.47h2.2v2.2h-2.2zM192.26 160.30h2.2v2.2h-2.2zM192.55 161.87h2.2v2.2h-2.2zM192.83 156.96h2.2v2.2h-2.2zM193.12 159.17h2.2v2.2h-2.2zM193.41 153.77h2.2v2.2h-2.2zM193.70 155.48h2.2v2.2h-2.2zM193.99 164.97h2.2v2.2h-2.2zM194.28 155.09h2.2v2.2h-2.2zM194.57 164.94h2.2v2.2h-2.2zM194.86 159.96h2.2v2.2h-2.2zM195.15 157.79h2.2v2.2h-2.2zM195.44 170.19h2.2v2.2h-2.2zM195.73 155.26h2.2v2.2h-2.2zM196.02 154.93h2.2v2.2h-2.2zM196.31 157.14h2.2v2.2h-2.2zM196.60 159.06h2.2v2.2h-2.2zM196.89 158.80h2.2v2.2h-2.2zM197.18 163.03h2.2v2.2h-2.2zM197.47 158.26h2.2v2.2h-2.2zM197.76 160.29h2.2v2.2h-2.2zM198.05 155.97h2.2v2.2h-2.2zM198.34 164.95h2.2v2.2h-2.2zM198.62 155.19h2.2v2.2h-2.2zM198.91 155.93h2.2v2.2h-2.2zM199.20 157.98h2.2v2.2h-2.2zM199.49 160.13h2.2v2.2h-2.2zM199.78 153.48h2.2v2.2h-2.2zM200.07 168.69h2.2v2.2h-2.2zM200.36 154.35h2.2v2.2h-2.2zM200.65 155.96h2.2v2.2h-2.2zM200.94 155.81h2.2v2.2h-2.2zM201.23 155.27h2.2v2.2h-2.2zM201.52 162.41h2.2v2.2h-2.2zM201.81 159.88h2.2v2.2h-2.2zM202.10 153.98h2.2v2.2h-2.2zM202.39 155.51h2.2v2.2h-2.2zM202.68 157.16h2.2v2.2h-2.2zM202.97 168.84h2.2v2.2h-2.2zM203.26 155.25h2.2v2.2h-2.2zM203.55 151.18h2.2v2.2h-2.2zM203.84 152.42h2.2v2.2h-2.2zM204.13 157.75h2.2v2.2h-2.2zM204.41 169.81h2.2v2.2h-2.2zM204.70 153.37h2.2v2.2h-2.2zM204.99 160.76h2.2v2.2h-2.2zM205.28 176.67h2.2v2.2h-2.2zM205.57 157.63h2.2v2.2h-2.2zM205.86 170.10h2.2v2.2h-2.2zM206.15 168.97h2.2v2.2h-2.2zM206.44 164.79h2.2v2.2h-2.2zM206.73 152.48h2.2v2.2h-2.2zM207.02 163.40h2.2v2.2h-2.2zM207.31 159.40h2.2v2.2h-2.2zM207.60 149.98h2.2v2.2h-2.2zM207.89 151.19h2.2v2.2h-2.2zM208.18 162.38h2.2v2.2h-2.2zM208.47 163.46h2.2v2.2h-2.2zM208.76 170.21h2.2v2.2h-2.2zM209.05 166.74h2.2v2.2h-2.2zM209.34 159.75h2.2v2.2h-2.2zM209.63 160.14h2.2v2.2h-2.2zM209.92 162.16h2.2v2.2h-2.2zM210.20 156.73h2.2v2.2h-2.2zM210.49 168.16h2.2v2.2h-2.2zM210.78 163.82h2.2v2.2h-2.2zM211.07 159.05h2.2v2.2h-2.2zM211.36 160.19h2.2v2.2h-2.2zM211.65 157.34h2.2v2.2h-2.2zM211.94 161.79h2.2v2.2h-2.2zM212.23 166.43h2.2v2.2h-2.2zM212.52 162.44h2.2v2.2h-2.2zM212.81 171.15h2.2v2.2h-2.2zM213.10 175.30h2.2v2.2h-2.2zM213.39 161.75h2.2v2.2h-2.2zM213.68 165.90h2.2v2.2h-2.2zM213.97 163.87h2.2v2.2h-2.2zM214.26 176.41h2.2v2.2h-2.2zM214.55 168.44h2.2v2.2h-2.2zM214.84 170.09h2.2v2.2h-2.2zM215.13 171.91h2.2v2.2h-2.2zM215.42 180.56h2.2v2.2h-2.2zM215.71 169.12h2.2v2.2h-2.2zM215.99 161.90h2.2v2.2h-2.2zM216.28 165.25h2.2v2.2h-2.2zM216.57 171.37h2.2v2.2h-2.2zM216.86 168.08h2.2v2.2h-2.2zM217.15 163.70h2.2v2.2h-2.2zM217.44 184.87h2.2v2.2h-2.2zM217.73 169.41h2.2v2.2h-2.2zM218.02 165.69h2.2v2.2h-2.2zM218.31 165.11h2.2v2.2h-2.2zM218.60 159.36h2.2v2.2h-2.2zM218.89 162.94h2.2v2.2h-2.2zM219.18 168.00h2.2v2.2h-2.2zM219.47 168.29h2.2v2.2h-2.2zM219.76 165.71h2.2v2.2h-2.2zM220.05 173.64h2.2v2.2h-2.2zM220.34 170.98h2.2v2.2h-2.2zM220.63 165.77h2.2v2.2h-2.2zM220.92 159.98h2.2v2.2h-2.2zM221.21 172.36h2.2v2.2h-2.2zM221.50 171.96h2.2v2.2h-2.2zM221.78 170.79h2.2v2.2h-2.2zM222.07 164.53h2.2v2.2h-2.2zM222.36 172.55h2.2v2.2h-2.2zM222.65 164.34h2.2v2.2h-2.2zM222.94 178.27h2.2v2.2h-2.2zM223.23 174.12h2.2v2.2h-2.2zM223.52 174.42h2.2v2.2h-2.2zM223.81 169.17h2.2v2.2h-2.2zM224.10 167.99h2.2v2.2h-2.2zM224.39 182.35h2.2v2.2h-2.2zM224.68 179.28h2.2v2.2h-2.2zM224.97 172.63h2.2v2.2h-2.2zM225.26 178.31h2.2v2.2h-2.2zM225.55 183.24h2.2v2.2h-2.2zM225.84 169.52h2.2v2.2h-2.2zM226.13 172.72h2.2v2.2h-2.2zM226.42 172.97h2.2v2.2h-2.2zM226.71 178.42h2.2v2.2h-2.2zM227.00 170.57h2.2v2.2h-2.2zM227.29 177.60h2.2v2.2h-2.2zM227.57 170.70h2.2v2.2h-2.2zM227.86 181.62h2.2v2.2h-2.2zM228.15 181.53h2.2v2.2h-2.2zM228.44 176.15h2.2v2.2h-2.2zM228.73 181.15h2.2v2.2h-2.2zM229.02 174.14h2.2v2.2h-2.2zM229.31 176.55h2.2v2.2h-2.2zM229.60 182.94h2.2v2.2h-2.2zM229.89 177.98h2.2v2.2h-2.2zM230.18 180.40h2.2v2.2h-2.2zM230.47 174.07h2.2v2.2h-2.2zM230.76 182.27h2.2v2.2h-2.2zM231.05 181.49h2.2v2.2h-2.2zM231.34 173.27h2.2v2.2h-2.2zM231.63 168.27h2.2v2.2h-2.2zM231.92 169.75h2.2v2.2h-2.2zM232.21 179.79h2.2v2.2h-2.2zM232.50 179.22h2.2v2.2h-2.2zM232.79 172.83h2.2v2.2h-2.2zM233.08 181.38h2.2v2.2h-2.2zM233.36 185.84h2.2v2.2h-2.2zM233.65 180.60h2.2v2.2h-2.2zM233.94 179.15h2.2v2.2h-2.2zM234.23 185.70h2.2v2.2h-2.2zM234.52 189.92h2.2v2.2h-2.2zM234.81 189.07h2.2v2.2h-2.2zM235.10 178.96h2.2v2.2h-2.2zM235.39 186.13h2.2v2.2h-2.2zM235.68 183.31h2.2v2.2h-2.2zM235.97 181.80h2.2v2.2h-2.2zM236.26 180.03h2.2v2.2h-2.2zM236.55 184.84h2.2v2.2h-2.2zM236.84 181.03h2.2v2.2h-2.2zM237.13 187.89h2.2v2.2h-2.2zM237.42 185.55h2.2v2.2h-2.2zM237.71 188.90h2.2v2.2h-2.2zM238.00 178.84h2.2v2.2h-2.2zM238.29 184.53h2.2v2.2h-2.2zM238.58 188.08h2.2v2.2h-2.2zM238.87 186.44h2.2v2.2h-2.2zM239.15 186.01h2.2v2.2h-2.2zM239.44 181.88h2.2v2.2h-2.2zM239.73 192.78h2.2v2.2h-2.2zM240.02 190.35h2.2v2.2h-2.2zM240.31 187.46h2.2v2.2h-2.2zM240.60 174.19h2.2v2.2h-2.2zM240.89 181.67h2.2v2.2h-2.2zM241.18 186.76h2.2v2.2h-2.2zM241.47 183.17h2.2v2.2h-2.2zM241.76 177.21h2.2v2.2h-2.2zM242.05 187.84h2.2v2.2h-2.2zM242.34 188.61h2.2v2.2h-2.2zM242.63 181.64h2.2v2.2h-2.2zM242.92 185.06h2.2v2.2h-2.2zM243.21 184.44h2.2v2.2h-2.2zM243.50 189.91h2.2v2.2h-2.2zM243.79 179.18h2.2v2.2h-2.2zM244.08 180.33h2.2v2.2h-2.2zM244.37 185.60h2.2v2.2h-2.2zM244.66 185.25h2.2v2.2h-2.2zM244.94 197.42h2.2v2.2h-2.2zM245.23 185.79h2.2v2.2h-2.2zM245.52 189.61h2.2v2.2h-2.2zM245.81 187.01h2.2v2.2h-2.2zM246.10 186.08h2.2v2.2h-2.2zM246.39 190.71h2.2v2.2h-2.2zM246.68 196.73h2.2v2.2h-2.2zM246.97 187.92h2.2v2.2h-2.2zM247.26 192.88h2.2v2.2h-2.2zM247.55 191.24h2.2v2.2h-2.2zM247.84 192.57h2.2v2.2h-2.2zM248.13 191.57h2.2v2.2h-2.2zM248.42 200.15h2.2v2.2h-2.2zM248.71 185.18h2.2v2.2h-2.2zM249.00 189.44h2.2v2.2h-2.2zM249.29 185.93h2.2v2.2h-2.2zM249.58 182.39h2.2v2.2h-2.2zM249.87 190.84h2.2v2.2h-2.2zM250.16 198.68h2.2v2.2h-2.2zM250.45 194.97h2.2v2.2h-2.2zM250.73 196.41h2.2v2.2h-2.2zM251.02 193.56h2.2v2.2h-2.2zM251.31 191.25h2.2v2.2h-2.2zM251.60 200.07h2.2v2.2h-2.2zM251.89 190.41h2.2v2.2h-2.2zM252.18 198.24h2.2v2.2h-2.2zM252.47 190.85h2.2v2.2h-2.2zM252.76 192.65h2.2v2.2h-2.2zM253.05 193.62h2.2v2.2h-2.2zM253.34 192.74h2.2v2.2h-2.2zM253.63 194.77h2.2v2.2h-2.2zM253.92 195.18h2.2v2.2h-2.2zM254.21 199.67h2.2v2.2h-2.2zM254.50 193.01h2.2v2.2h-2.2zM254.79 185.48h2.2v2.2h-2.2zM255.08 185.05h2.2v2.2h-2.2zM255.37 187.85h2.2v2.2h-2.2zM255.66 190.47h2.2v2.2h-2.2zM255.95 196.17h2.2v2.2h-2.2zM256.24 187.71h2.2v2.2h-2.2zM256.52 193.86h2.2v2.2h-2.2zM256.81 194.02h2.2v2.2h-2.2zM257.10 195.01h2.2v2.2h-2.2zM257.39 193.57h2.2v2.2h-2.2zM257.68 195.77h2.2v2.2h-2.2zM257.97 194.46h2.2v2.2h-2.2zM258.26 198.55h2.2v2.2h-2.2zM258.55 195.80h2.2v2.2h-2.2zM258.84 185.36h2.2v2.2h-2.2zM259.13 194.78h2.2v2.2h-2.2zM259.42 195.53h2.2v2.2h-2.2zM259.71 192.58h2.2v2.2h-2.2zM260.00 191.97h2.2v2.2h-2.2zM260.29 199.23h2.2v2.2h-2.2zM260.58 195.75h2.2v2.2h-2.2zM260.87 191.42h2.2v2.2h-2.2zM261.16 194.04h2.2v2.2h-2.2zM261.45 194.71h2.2v2.2h-2.2zM261.74 189.19h2.2v2.2h-2.2zM262.03 197.98h2.2v2.2h-2.2zM262.31 195.10h2.2v2.2h-2.2zM262.60 197.52h2.2v2.2h-2.2zM262.89 189.79h2.2v2.2h-2.2zM263.18 203.21h2.2v2.2h-2.2zM263.47 198.31h2.2v2.2h-2.2zM263.76 197.83h2.2v2.2h-2.2zM264.05 193.30h2.2v2.2h-2.2zM264.34 193.59h2.2v2.2h-2.2zM264.63 190.63h2.2v2.2h-2.2zM264.92 202.11h2.2v2.2h-2.2zM265.21 193.25h2.2v2.2h-2.2zM265.50 197.32h2.2v2.2h-2.2zM265.79 198.81h2.2v2.2h-2.2zM266.08 194.26h2.2v2.2h-2.2zM266.37 199.90h2.2v2.2h-2.2zM266.66 204.37h2.2v2.2h-2.2zM266.95 197.92h2.2v2.2h-2.2zM267.24 202.27h2.2v2.2h-2.2zM267.53 199.09h2.2v2.2h-2.2zM267.82 195.28h2.2v2.2h-2.2zM268.10 195.56h2.2v2.2h-2.2zM268.39 190.79h2.2v2.2h-2.2zM268.68 197.61h2.2v2.2h-2.2zM268.97 202.70h2.2v2.2h-2.2zM269.26 199.81h2.2v2.2h-2.2zM269.55 200.48h2.2v2.2h-2.2zM269.84 201.65h2.2v2.2h-2.2zM270.13 195.48h2.2v2.2h-2.2zM270.42 199.59h2.2v2.2h-2.2zM270.71 204.64h2.2v2.2h-2.2zM271.00 194.65h2.2v2.2h-2.2zM271.29 197.73h2.2v2.2h-2.2zM271.58 196.02h2.2v2.2h-2.2zM271.87 197.00h2.2v2.2h-2.2zM272.16 195.08h2.2v2.2h-2.2zM272.45 197.35h2.2v2.2h-2.2zM272.74 192.92h2.2v2.2h-2.2zM273.03 195.99h2.2v2.2h-2.2zM273.32 196.16h2.2v2.2h-2.2zM273.61 196.13h2.2v2.2h-2.2zM273.89 203.11h2.2v2.2h-2.2zM274.18 198.35h2.2v2.2h-2.2zM274.47 198.74h2.2v2.2h-2.2zM274.76 197.04h2.2v2.2h-2.2zM275.05 202.89h2.2v2.2h-2.2zM275.34 191.84h2.2v2.2h-2.2zM275.63 197.54h2.2v2.2h-2.2zM275.92 202.44h2.2v2.2h-2.2zM276.21 204.31h2.2v2.2h-2.2zM276.50 199.07h2.2v2.2h-2.2zM276.79 198.39h2.2v2.2h-2.2zM277.08 200.74h2.2v2.2h-2.2zM277.37 197.79h2.2v2.2h-2.2zM277.66 200.52h2.2v2.2h-2.2zM277.95 196.16h2.2v2.2h-2.2zM278.24 200.89h2.2v2.2h-2.2zM278.53 198.39h2.2v2.2h-2.2zM278.82 194.69h2.2v2.2h-2.2zM279.11 188.87h2.2v2.2h-2.2zM279.40 202.03h2.2v2.2h-2.2zM279.68 200.07h2.2v2.2h-2.2zM279.97 201.47h2.2v2.2h-2.2zM280.26 195.55h2.2v2.2h-2.2zM280.55 202.65h2.2v2.2h-2.2zM280.84 200.24h2.2v2.2h-2.2zM281.13 198.61h2.2v2.2h-2.2zM281.42 202.10h2.2v2.2h-2.2zM281.71 202.04h2.2v2.2h-2.2zM282.00 200.31h2.2v2.2h-2.2zM282.29 206.26h2.2v2.2h-2.2zM282.58 203.89h2.2v2.2h-2.2zM282.87 200.14h2.2v2.2h-2.2zM283.16 198.12h2.2v2.2h-2.2zM283.45 199.36h2.2v2.2h-2.2zM283.74 205.16h2.2v2.2h-2.2zM284.03 200.41h2.2v2.2h-2.2zM284.32 195.84h2.2v2.2h-2.2zM284.61 196.74h2.2v2.2h-2.2zM284.90 199.07h2.2v2.2h-2.2zM285.19 202.03h2.2v2.2h-2.2zM285.47 196.53h2.2v2.2h-2.2zM285.76 200.94h2.2v2.2h-2.2zM286.05 203.10h2.2v2.2h-2.2zM286.34 201.78h2.2v2.2h-2.2zM286.63 193.64h2.2v2.2h-2.2zM286.92 198.11h2.2v2.2h-2.2zM287.21 194.73h2.2v2.2h-2.2zM287.50 200.68h2.2v2.2h-2.2zM287.79 195.56h2.2v2.2h-2.2zM288.08 201.15h2.2v2.2h-2.2zM288.37 199.56h2.2v2.2h-2.2zM288.66 190.01h2.2v2.2h-2.2zM288.95 196.24h2.2v2.2h-2.2zM289.24 200.84h2.2v2.2h-2.2zM289.53 199.35h2.2v2.2h-2.2zM289.82 197.88h2.2v2.2h-2.2zM290.11 194.70h2.2v2.2h-2.2zM290.40 200.85h2.2v2.2h-2.2zM290.69 205.39h2.2v2.2h-2.2zM290.98 200.12h2.2v2.2h-2.2zM291.26 199.07h2.2v2.2h-2.2zM291.55 198.74h2.2v2.2h-2.2zM291.84 194.40h2.2v2.2h-2.2zM292.13 198.02h2.2v2.2h-2.2zM292.42 196.24h2.2v2.2h-2.2zM292.71 203.15h2.2v2.2h-2.2zM293.00 196.07h2.2v2.2h-2.2zM293.29 191.66h2.2v2.2h-2.2zM293.58 196.43h2.2v2.2h-2.2zM293.87 198.31h2.2v2.2h-2.2zM294.16 198.68h2.2v2.2h-2.2zM294.45 192.82h2.2v2.2h-2.2zM294.74 202.59h2.2v2.2h-2.2zM295.03 199.67h2.2v2.2h-2.2zM295.32 197.62h2.2v2.2h-2.2zM295.61 196.61h2.2v2.2h-2.2zM295.90 200.87h2.2v2.2h-2.2zM296.19 198.20h2.2v2.2h-2.2zM296.48 200.31h2.2v2.2h-2.2zM296.77 198.89h2.2v2.2h-2.2zM297.05 199.80h2.2v2.2h-2.2zM297.34 203.44h2.2v2.2h-2.2zM297.63 199.42h2.2v2.2h-2.2zM297.92 196.20h2.2v2.2h-2.2zM298.21 202.83h2.2v2.2h-2.2zM298.50 200.23h2.2v2.2h-2.2zM298.79 196.99h2.2v2.2h-2.2zM299.08 203.22h2.2v2.2h-2.2zM299.37 198.73h2.2v2.2h-2.2zM299.66 203.20h2.2v2.2h-2.2zM299.95 195.33h2.2v2.2h-2.2zM300.24 191.11h2.2v2.2h-2.2zM300.53 192.16h2.2v2.2h-2.2zM300.82 200.21h2.2v2.2h-2.2zM301.11 196.77h2.2v2.2h-2.2zM301.40 199.00h2.2v2.2h-2.2zM301.69 199.07h2.2v2.2h-2.2zM301.98 193.90h2.2v2.2h-2.2zM302.27 204.18h2.2v2.2h-2.2zM302.56 195.68h2.2v2.2h-2.2zM302.84 199.64h2.2v2.2h-2.2zM303.13 194.42h2.2v2.2h-2.2zM303.42 198.80h2.2v2.2h-2.2zM303.71 201.89h2.2v2.2h-2.2zM304.00 198.49h2.2v2.2h-2.2zM304.29 196.85h2.2v2.2h-2.2zM304.58 199.37h2.2v2.2h-2.2zM304.87 197.75h2.2v2.2h-2.2zM305.16 201.37h2.2v2.2h-2.2zM305.45 207.15h2.2v2.2h-2.2zM305.74 196.29h2.2v2.2h-2.2zM306.03 197.02h2.2v2.2h-2.2zM306.32 198.99h2.2v2.2h-2.2zM306.61 199.28h2.2v2.2h-2.2zM306.90 195.82h2.2v2.2h-2.2zM307.19 201.17h2.2v2.2h-2.2zM307.48 202.07h2.2v2.2h-2.2zM307.77 200.22h2.2v2.2h-2.2zM308.06 195.29h2.2v2.2h-2.2zM308.35 204.51h2.2v2.2h-2.2zM308.63 195.29h2.2v2.2h-2.2zM308.92 201.84h2.2v2.2h-2.2zM309.21 203.50h2.2v2.2h-2.2zM309.50 195.06h2.2v2.2h-2.2zM309.79 199.92h2.2v2.2h-2.2zM310.08 204.22h2.2v2.2h-2.2zM310.37 200.86h2.2v2.2h-2.2zM310.66 196.25h2.2v2.2h-2.2zM310.95 195.32h2.2v2.2h-2.2zM311.24 201.11h2.2v2.2h-2.2zM311.53 198.14h2.2v2.2h-2.2zM311.82 197.04h2.2v2.2h-2.2zM312.11 201.90h2.2v2.2h-2.2zM312.40 198.33h2.2v2.2h-2.2zM312.69 199.72h2.2v2.2h-2.2zM312.98 201.52h2.2v2.2h-2.2zM313.27 201.37h2.2v2.2h-2.2zM313.56 199.37h2.2v2.2h-2.2zM313.85 199.51h2.2v2.2h-2.2zM314.14 201.64h2.2v2.2h-2.2zM314.42 201.14h2.2v2.2h-2.2zM314.71 195.65h2.2v2.2h-2.2zM315.00 198.86h2.2v2.2h-2.2zM315.29 196.47h2.2v2.2h-2.2zM315.58 195.34h2.2v2.2h-2.2zM315.87 197.53h2.2v2.2h-2.2zM316.16 191.53h2.2v2.2h-2.2zM316.45 202.59h2.2v2.2h-2.2zM316.74 196.76h2.2v2.2h-2.2zM317.03 200.78h2.2v2.2h-2.2zM317.32 193.02h2.2v2.2h-2.2zM317.61 193.58h2.2v2.2h-2.2zM317.90 206.63h2.2v2.2h-2.2zM318.19 203.11h2.2v2.2h-2.2zM318.48 197.29h2.2v2.2h-2.2zM318.77 196.84h2.2v2.2h-2.2zM319.06 197.03h2.2v2.2h-2.2zM319.35 199.92h2.2v2.2h-2.2zM319.64 198.04h2.2v2.2h-2.2zM319.93 197.34h2.2v2.2h-2.2zM320.21 199.95h2.2v2.2h-2.2zM320.50 196.01h2.2v2.2h-2.2zM320.79 207.74h2.2v2.2h-2.2zM321.08 197.42h2.2v2.2h-2.2zM321.37 203.37h2.2v2.2h-2.2zM321.66 196.26h2.2v2.2h-2.2zM321.95 200.50h2.2v2.2h-2.2zM322.24 202.86h2.2v2.2h-2.2zM322.53 198.36h2.2v2.2h-2.2zM322.82 202.94h2.2v2.2h-2.2zM323.11 202.95h2.2v2.2h-2.2zM323.40 205.29h2.2v2.2h-2.2zM323.69 199.79h2.2v2.2h-2.2zM323.98 197.93h2.2v2.2h-2.2zM324.27 196.06h2.2v2.2h-2.2zM324.56 200.21h2.2v2.2h-2.2zM324.85 195.97h2.2v2.2h-2.2zM325.14 199.65h2.2v2.2h-2.2zM325.43 200.04h2.2v2.2h-2.2zM325.72 197.67h2.2v2.2h-2.2zM326.00 195.94h2.2v2.2h-2.2zM326.29 200.94h2.2v2.2h-2.2zM326.58 200.59h2.2v2.2h-2.2zM326.87 200.30h2.2v2.2h-2.2zM327.16 199.43h2.2v2.2h-2.2zM327.45 202.94h2.2v2.2h-2.2zM327.74 196.06h2.2v2.2h-2.2zM328.03 201.16h2.2v2.2h-2.2zM328.32 198.08h2.2v2.2h-2.2zM328.61 202.68h2.2v2.2h-2.2zM328.90 198.46h2.2v2.2h-2.2z"/>
<polyline fill="none" stroke="#10ff10" stroke-width="0.4" points="40.5,192.3 40.8,195.5 41.1,185.8 41.4,192.4 41.7,186.8 41.9,190.0 42.2,196.5 42.5,195.4 42.8,192.1 43.1,193.6 43.4,193.7 43.7,195.0 44.0,201.0 44.3,194.8 44.6,202.7 44.8,192.4 45.1,196.8 45.4,196.7 45.7,194.8 46.0,192.9 46.3,199.6 46.6,200.8 46.9,198.2 47.2,202.0 47.4,197.8 47.7,187.7 48.0,198.1 48.3,191.4 48.6,199.4 48.9,192.8 49.2,195.3 49.5,194.3 49.8,191.8 50.1,187.1 50.3,193.3 50.6,193.6 50.9,197.9 51.2,191.8 51.5,195.0 51.8,190.8 52.1,194.2 52.4,187.2 52.7,201.9 52.9,195.3 53.2,190.6 53.5,195.5 53.8,197.2 54.1,195.2 54.4,199.6 54.7,193.7 55.0,184.5 55.3,189.6 55.6,198.5 55.8,197.6 56.1,195.8 56.4,190.2 56.7,197.4 57.0,196.9 57.3,190.7 57.6,190.8 57.9,195.7 58.2,198.6 58.4,200.3 58.7,197.0 59.0,203.0 59.3,191.3 59.6,196.7 59.9,192.4 60.2,186.9 60.5,189.7 60.8,198.8 61.1,190.9 61.3,189.7 61.6,197.2 61.9,198.1 62.2,194.7 62.5,200.6 62.8,188.6 63.1,203.8 63.4,198.7 63.7,195.4 63.9,195.2 64.2,193.7 64.5,193.3 64.8,195.2 65.1,189.9 65.4,202.8 65.7,194.4 66.0,197.2 66.3,193.9 66.6,193.5 66.8,198.0 67.1,196.9 67.4,191.3 67.7,193.1 68.0,197.1 68.3,186.5 68.6,185.4 68.9,200.2 69.2,193.3 69.4,184.7 69.7,191.4 70.0,193.6 70.3,195.3 70.6,196.6 70.9,195.3 71.2,196.7 71.5,191.6 71.8,196.1 72.1,196.3 72.3,199.2 72.6,194.7 72.9,198.0 73.2,195.3 73.5,190.5 73.8,193.1 74.1,192.6 74.4,193.2 74.7,194.4 75.0,195.1 75.2,195.8 75.5,191.6 75.8,198.8 76.1,189.4 76.4,194.5 76.7,197.5 77.0,196.5 77.3,197.3 77.6,194.0 77.8,197.4 78.1,190.2 78.4,197.7 78.7,203.5 79.0,197.5 79.3,202.5 79.6,194.8 79.9,190.5 80.2,192.2 80.5,199.9 80.7,197.7 81.0,187.7 81.3,193.5 81.6,194.7 81.9,190.6 82.2,185.1 82.5,189.7 82.8,194.2 83.1,193.3 83.3,192.3 83.6,197.1 83.9,198.9 84.2,194.5 84.5,198.4 84.8,195.0 85.1,194.4 85.4,185.6 85.7,198.1 86.0,195.2 86.2,195.4 86.5,193.1 86.8,190.7 87.1,196.7 87.4,198.0 87.7,201.2 88.0,198.4 88.3,192.7 88.6,194.6 88.8,198.7 89.1,196.2 89.4,194.7 89.7,192.8 90.0,197.1 90.3,195.8 90.6,201.9 90.9,199.3 91.2,188.5 91.5,203.3 91.7,196.1 92.0,193.9 92.3,196.2 92.6,197.9 92.9,195.0 93.2,194.8 93.5,195.1 93.8,202.1 94.1,195.4 94.3,198.1 94.6,196.9 94.9,193.9 95.2,192.3 95.5,191.3 95.8,196.7 96.1,191.2 96.4,190.2 96.7,190.3 97.0,189.3 97.2,195.3 97.5,195.4 97.8,191.5 98.1,200.1 98.4,193.9 98.7,196.8 99.0,196.2 99.3,201.5 99.6,198.2 99.8,194.8 100.1,191.2 100.4,190.8 100.7,195.0 101.0,195.4 101.3,197.9 101.6,193.1 101.9,195.6 102.2,192.3 102.5,187.8 102.7,194.7 103.0,200.5 103.3,198.0 103.6,200.3 103.9,199.3 104.2,189.5 104.5,193.7 104.8,200.5 105.1,192.0 105.3,189.6 105.6,195.9 105.9,197.1 106.2,195.8 106.5,193.3 106.8,191.9 107.1,189.8 107.4,189.7 107.7,189.7 108.0,189.0 108.2,191.8 108.5,200.4 108.8,194.8 109.1,193.1 109.4,195.8 109.7,190.7 110.0,195.7 110.3,197.9 110.6,188.5 110.8,191.6 111.1,193.3 111.4,190.5 111.7,189.9 112.0,192.8 112.3,203.8 112.6,196.7 112.9,195.8 113.2,197.9 113.5,193.2 113.7,189.2 114.0,195.8 114.3,198.4 114.6,185.8 114.9,195.6 115.2,198.7 115.5,192.8 115.8,192.0 116.1,196.5 116.3,190.5 116.6,195.6 116.9,197.3 117.2,192.8 117.5,190.5 117.8,196.0 118.1,192.1 118.4,193.8 118.7,182.1 119.0,196.2 119.2,187.8 119.5,193.5 119.8,193.7 120.1,190.3 120.4,189.5 120.7,188.0 121.0,191.7 121.3,195.4 121.6,195.1 121.8,190.8 122.1,190.5 122.4,187.2 122.7,191.1 123.0,188.4 123.3,186.5 123.6,191.9 123.9,198.5 124.2,197.2 124.5,198.2 124.7,185.9 125.0,195.7 125.3,187.2 125.6,189.8 125.9,185.2 126.2,188.0 126.5,192.4 126.8,192.7 127.1,191.5 127.3,191.1 127.6,193.9 127.9,191.8 128.2,185.0 128.5,198.5 128.8,190.4 129.1,195.1 129.4,190.5 129.7,187.8 130.0,191.4 130.2,187.9 130.5,197.6 130.8,186.4 131.1,193.4 131.4,188.2 131.7,189.9 132.0,201.3 132.3,193.7 132.6,189.5 132.9,183.9 133.1,189.1 133.4,189.1 133.7,196.0 134.0,184.0 134.3,182.4 134.6,189.7 134.9,190.7 135.2,196.5 135.5,185.8 135.7,178.1 136.0,186.3 136.3,183.9 136.6,186.9 136.9,193.2 137.2,183.3 137.5,194.1 137.8,189.6 138.1,187.5 138.4,184.8 138.6,186.7 138.9,186.7 139.2,191.5 139.5,193.6 139.8,187.7 140.1,190.9 140.4,193.4 140.7,193.1 141.0,189.7 141.2,195.4 141.5,193.1 141.8,194.3 142.1,186.3 142.4,185.2 142.7,178.1 143.0,193.2 143.3,189.5 143.6,182.4 143.9,187.3 144.1,187.6 144.4,178.5 144.7,187.4 145.0,190.9 145.3,191.5 145.6,184.0 145.9,184.0 146.2,191.4 146.5,189.5 146.7,182.6 147.0,182.3 147.3,187.6 147.6,181.8 147.9,181.9 148.2,192.3 148.5,185.5 148.8,182.1 149.1,186.4 149.4,193.4 149.6,184.8 149.9,180.0 150.2,176.1 150.5,193.1 150.8,171.0 151.1,188.0 151.4,178.3 151.7,176.8 152.0,177.8 152.2,181.5 152.5,187.4 152.8,179.0 153.1,185.1 153.4,193.3 153.7,168.2 154.0,178.0 154.3,172.6 154.6,185.2 154.9,173.9 155.1,173.1 155.4,173.1 155.7,180.4 156.0,185.8 156.3,180.8 156.6,190.3 156.9,187.7 157.2,179.0 157.5,184.1 157.7,179.9 158.0,179.5 158.3,169.6 158.6,172.4 158.9,178.7 159.2,172.5 159.5,181.9 159.8,179.6 160.1,173.4 160.4,183.7 160.6,178.9 160.9,183.8 161.2,176.6 161.5,169.0 161.8,180.5 162.1,175.5 162.4,180.9 162.7,182.0 163.0,182.3 163.2,168.8 163.5,164.1 163.8,173.3 164.1,179.0 164.4,171.8 164.7,176.8 165.0,171.0 165.3,173.4 165.6,173.2 165.9,171.4 166.1,177.2 166.4,176.2 166.7,182.7 167.0,176.1 167.3,180.9 167.6,174.2 167.9,178.2 168.2,172.7 168.5,170.7 168.7,180.1 169.0,176.9 169.3,177.4 169.6,168.5 169.9,163.4 170.2,167.7 170.5,173.7 170.8,164.2 171.1,179.4 171.4,163.7 171.6,174.7 171.9,185.6 172.2,157.2 172.5,162.6 172.8,176.1 173.1,169.7 173.4,171.5 173.7,169.7 174.0,177.9 174.2,173.5 174.5,167.4 174.8,168.5 175.1,163.2 175.4,169.0 175.7,156.8 176.0,172.9 176.3,167.6 176.6,179.0 176.9,175.4 177.1,161.5 177.4,173.5 177.7,165.5 178.0,168.5 178.3,173.7 178.6,169.8 178.9,170.6 179.2,170.4 179.5,163.6 179.7,164.0 180.0,170.5 180.3,172.2 180.6,165.6 180.9,167.6 181.2,161.4 181.5,152.5 181.8,162.2 182.1,166.8 182.4,167.5 182.6,171.1 182.9,171.3 183.2,171.7 183.5,168.3 183.8,168.4 184.1,161.9 184.4,168.1 184.7,166.9 185.0,172.4 185.2,156.7 185.5,162.8 185.8,155.7 186.1,161.1 186.4,157.2 186.7,166.7 187.0,161.3 187.3,150.3 187.6,171.9 187.9,158.6 188.1,155.7 188.4,162.6 188.7,160.7 189.0,157.8 189.3,168.5 189.6,162.5 189.9,169.6 190.2,168.5 190.5,168.2 190.8,165.4 191.0,163.8 191.3,162.0 191.6,172.6 191.9,153.3 192.2,158.0 192.5,160.4 192.8,166.5 193.1,165.0 193.4,161.3 193.6,162.1 193.9,173.9 194.2,160.2 194.5,147.9 194.8,174.9 195.1,158.8 195.4,162.3 195.7,165.1 196.0,156.7 196.3,171.2 196.5,163.5 196.8,156.2 197.1,165.6 197.4,166.9 197.7,163.9 198.0,167.1 198.3,155.8 198.6,169.8 198.9,159.7 199.1,171.8 199.4,161.0 199.7,165.4 200.0,179.5 200.3,164.9 200.6,171.0 200.9,167.5 201.2,156.4 201.5,171.4 201.8,171.2 202.0,157.1 202.3,164.7 202.6,156.7 202.9,163.6 203.2,170.5 203.5,166.0 203.8,158.7 204.1,160.4 204.4,165.8 204.6,165.6 204.9,166.6 205.2,169.3 205.5,155.3 205.8,166.2 206.1,172.7 206.4,169.1 206.7,162.5 207.0,163.1 207.3,167.5 207.5,170.6 207.8,166.8 208.1,176.4 208.4,174.4 208.7,162.9 209.0,170.1 209.3,165.5 209.6,160.9 209.9,164.2 210.1,167.8 210.4,156.3 210.7,164.5 211.0,170.2 211.3,164.4 211.6,166.3 211.9,173.3 212.2,168.4 212.5,169.8 212.8,179.8 213.0,170.1 213.3,170.9 213.6,171.9 213.9,178.6 214.2,171.7 214.5,170.1 214.8,169.5 215.1,176.3 215.4,167.0 215.6,177.1 215.9,171.9 216.2,163.8 216.5,174.7 216.8,173.9 217.1,165.6 217.4,173.5 217.7,173.2 218.0,170.6 218.3,166.4 218.5,183.8 218.8,176.7 219.1,177.8 219.4,178.3 219.7,177.3 220.0,177.3 220.3,171.5 220.6,177.9 220.9,172.8 221.1,171.5 221.4,177.6 221.7,173.3 222.0,165.7 222.3,172.7 222.6,177.8 222.9,175.0 223.2,179.6 223.5,173.6 223.8,170.8 224.0,179.6 224.3,176.6 224.6,170.1 224.9,178.4 225.2,175.1 225.5,181.4 225.8,180.6 226.1,179.2 226.4,166.1 226.6,179.0 226.9,179.8 227.2,180.1 227.5,178.4 227.8,174.5 228.1,177.0 228.4,168.1 228.7,177.2 229.0,171.5 229.3,177.3 229.5,175.9 229.8,185.9 230.1,179.8 230.4,179.7 230.7,180.7 231.0,190.0 231.3,175.7 231.6,181.9 231.9,182.3 232.1,181.7 232.4,181.7 232.7,178.9 233.0,187.0 233.3,185.5 233.6,180.0 233.9,180.8 234.2,183.5 234.5,184.5 234.8,185.9 235.0,182.5 235.3,177.0 235.6,187.5 235.9,175.7 236.2,179.1 236.5,185.2 236.8,179.7 237.1,190.1 237.4,191.5 237.6,189.7 237.9,185.8 238.2,185.6 238.5,186.6 238.8,184.0 239.1,194.2 239.4,182.6 239.7,191.3 240.0,188.1 240.3,187.1 240.5,190.6 240.8,191.7 241.1,190.2 241.4,186.0 241.7,183.5 242.0,183.8 242.3,190.8 242.6,190.1 242.9,190.8 243.1,184.9 243.4,195.9 243.7,181.8 244.0,189.5 244.3,190.9 244.6,186.2 244.9,183.3 245.2,186.5 245.5,183.6 245.8,187.7 246.0,183.1 246.3,183.2 246.6,189.1 246.9,182.7 247.2,188.3 247.5,188.7 247.8,193.1 248.1,190.6 248.4,186.2 248.7,195.2 248.9,187.0 249.2,188.4 249.5,188.9 249.8,199.4 250.1,190.7 250.4,187.7 250.7,193.7 251.0,190.3 251.3,200.7 251.5,188.2 251.8,193.8 252.1,187.6 252.4,198.9 252.7,188.6 253.0,192.5 253.3,188.4 253.6,195.6 253.9,194.4 254.2,182.9 254.4,195.5 254.7,195.1 255.0,193.5 255.3,196.6 255.6,187.7 255.9,185.7 256.2,195.6 256.5,199.9 256.8,188.3 257.0,188.6 257.3,189.9 257.6,188.7 257.9,196.9 258.2,194.2 258.5,199.1 258.8,199.4 259.1,189.9 259.4,196.6 259.7,184.9 259.9,193.8 260.2,196.7 260.5,191.1 260.8,187.2 261.1,192.5 261.4,199.3 261.7,193.2 262.0,189.3 262.3,196.7 262.5,197.9 262.8,191.0 263.1,194.5 263.4,199.4 263.7,196.7 264.0,198.2 264.3,194.2 264.6,195.0 264.9,191.0 265.2,192.8 265.4,201.7 265.7,194.1 266.0,192.3 266.3,194.1 266.6,192.0 266.9,198.1 267.2,199.7 267.5,192.6 267.8,200.3 268.0,204.6 268.3,192.4 268.6,199.2 268.9,197.6 269.2,201.9 269.5,201.7 269.8,201.1 270.1,198.1 270.4,195.4 270.7,205.6 270.9,194.0 271.2,201.4 271.5,201.0 271.8,194.5 272.1,197.4 272.4,203.0 272.7,190.2 273.0,200.5 273.3,196.4 273.5,196.6 273.8,192.1 274.1,199.2 274.4,193.7 274.7,200.3 275.0,193.4 275.3,200.5 275.6,199.1 275.9,190.6 276.2,196.6 276.4,197.4 276.7,189.5 277.0,196.6 277.3,201.0 277.6,195.3 277.9,202.4 278.2,193.9 278.5,193.6 278.8,200.3 279.0,200.5 279.3,197.6 279.6,198.2 279.9,201.9 280.2,196.2 280.5,206.0 280.8,200.0 281.1,199.9 281.4,199.5 281.7,197.4 281.9,203.1 282.2,196.4 282.5,199.3 282.8,201.0 283.1,203.7 283.4,203.1 283.7,197.4 284.0,202.3 284.3,198.6 284.5,194.9 284.8,195.0 285.1,193.1 285.4,200.0 285.7,202.9 286.0,195.2 286.3,197.8 286.6,194.9 286.9,199.0 287.2,194.7 287.4,196.0 287.7,196.5 288.0,197.3 288.3,197.7 288.6,198.3 288.9,198.4 289.2,195.6 289.5,201.1 289.8,192.9 290.0,199.7 290.3,195.7 290.6,199.7 290.9,200.3 291.2,192.0 291.5,200.5 291.8,204.1 292.1,202.0 292.4,200.6 292.7,191.6 292.9,198.7 293.2,196.1 293.5,203.2 293.8,198.3 294.1,197.1 294.4,193.0 294.7,202.1 295.0,197.4 295.3,198.5 295.5,203.4 295.8,199.7 296.1,200.6 296.4,208.1 296.7,197.5 297.0,197.8 297.3,201.3 297.6,204.6 297.9,194.4 298.2,198.8 298.4,196.1 298.7,194.7 299.0,201.7 299.3,196.9 299.6,200.7 299.9,200.1 300.2,200.2 300.5,199.9 300.8,195.9 301.0,199.5 301.3,200.5 301.6,200.9 301.9,198.7 302.2,203.2 302.5,201.8 302.8,200.2 303.1,202.1 303.4,200.4 303.7,202.2 303.9,192.8 304.2,195.3 304.5,198.4 304.8,200.3 305.1,192.2 305.4,198.9 305.7,200.4 306.0,199.0 306.3,199.0 306.6,195.1 306.8,200.2 307.1,192.6 307.4,203.4 307.7,197.7 308.0,203.8 308.3,193.7 308.6,201.4 308.9,200.4 309.2,196.9 309.4,195.7 309.7,204.3 310.0,201.5 310.3,205.3 310.6,199.8 310.9,200.7 311.2,201.6 311.5,202.8 311.8,201.7 312.1,203.0 312.3,198.4 312.6,194.9 312.9,207.3 313.2,200.8 313.5,201.9 313.8,198.6 314.1,203.8 314.4,200.9 314.7,204.1 314.9,197.9 315.2,200.1 315.5,201.0 315.8,199.1 316.1,201.3 316.4,206.0 316.7,198.3 317.0,199.4 317.3,201.0 317.6,197.0 317.8,196.1 318.1,204.4 318.4,203.3 318.7,195.0 319.0,195.5 319.3,203.2 319.6,204.8 319.9,202.8 320.2,202.4 320.4,206.3 320.7,200.5 321.0,205.2 321.3,204.9 321.6,197.3 321.9,203.1 322.2,200.9 322.5,198.4 322.8,197.7 323.1,201.9 323.3,200.5 323.6,203.6 323.9,194.4 324.2,198.4 324.5,204.6 324.8,200.7 325.1,198.2 325.4,199.0 325.7,194.2 325.9,195.8 326.2,202.7 326.5,201.1 326.8,205.3 327.1,199.9 327.4,200.2 327.7,191.1 328.0,200.4 328.3,208.3 328.6,203.2 328.8,200.4 329.1,205.3 329.4,203.9 329.7,202.1 330.0,199.6"/><path fill="#10ff10" d="M39.25 191.00h2.5v2.5h-2.5zM39.54 194.22h2.5v2.5h-2.5zM39.83 184.58h2.5v2.5h-2.5zM40.12 191.10h2.5v2.5h-2.5zM40.41 185.56h2.5v2.5h-2.5zM40.70 188.79h2.5v2.5h-2.5zM40.99 195.21h2.5v2.5h-2.5zM41.28 194.11h2.5v2.5h-2.5zM41.57 190.88h2.5v2.5h-2.5zM41.86 192.37h2.5v2.5h-2.5zM42.14 192.42h2.5v2.5h-2.5zM42.43 193.76h2.5v2.5h-2.5zM42.72 199.77h2.5v2.5h-2.5zM43.01 193.53h2.5v2.5h-2.5zM43.30 201.40h2.5v2.5h-2.5zM43.59 191.19h2.5v2.5h-2.5zM43.88 195.53h2.5v2.5h-2.5zM44.17 195.49h2.5v2.5h-2.5zM44.46 193.54h2.5v2.5h-2.5zM44.75 191.61h2.5v2.5h-2.5zM45.04 198.34h2.5v2.5h-2.5zM45.33 199.59h2.5v2.5h-2.5zM45.62 196.91h2.5v2.5h-2.5zM45.91 200.76h2.5v2.5h-2.5zM46.20 196.53h2.5v2.5h-2.5zM46.49 186.45h2.5v2.5h-2.5zM46.78 196.90h2.5v2.5h-2.5zM47.07 190.17h2.5v2.5h-2.5zM47.36 198.15h2.5v2.5h-2.5zM47.65 191.57h2.5v2.5h-2.5zM47.93 194.02h2.5v2.5h-2.5zM48.22 193.00h2.5v2.5h-2.5zM48.51 190.53h2.5v2.5h-2.5zM48.80 185.86h2.5v2.5h-2.5zM49.09 192.02h2.5v2.5h-2.5zM49.38 192.30h2.5v2.5h-2.5zM49.67 196.63h2.5v2.5h-2.5zM49.96 190.51h2.5v2.5h-2.5zM50.25 193.78h2.5v2.5h-2.5zM50.54 189.54h2.5v2.5h-2.5zM50.83 193.00h2.5v2.5h-2.5zM51.12 185.98h2.5v2.5h-2.5zM51.41 200.65h2.5v2.5h-2.5zM51.70 194.02h2.5v2.5h-2.5zM51.99 189.39h2.5v2.5h-2.5zM52.28 194.24h2.5v2.5h-2.5zM52.57 195.99h2.5v2.5h-2.5zM52.86 193.92h2.5v2.5h-2.5zM53.15 198.31h2.5v2.5h-2.5zM53.44 192.42h2.5v2.5h-2.5zM53.72 183.30h2.5v2.5h-2.5zM54.01 188.40h2.5v2.5h-2.5zM54.30 197.27h2.5v2.5h-2.5zM54.59 196.35h2.5v2.5h-2.5zM54.88 194.52h2.5v2.5h-2.5zM55.17 188.98h2.5v2.5h-2.5zM55.46 196.17h2.5v2.5h-2.5zM55.75 195.66h2.5v2.5h-2.5zM56.04 189.47h2.5v2.5h-2.5zM56.33 189.56h2.5v2.5h-2.5zM56.62 194.43h2.5v2.5h-2.5zM56.91 197.36h2.5v2.5h-2.5zM57.20 199.07h2.5v2.5h-2.5zM57.49 195.73h2.5v2.5h-2.5zM57.78 201.76h2.5v2.5h-2.5zM58.07 190.05h2.5v2.5h-2.5zM58.36 195.48h2.5v2.5h-2.5zM58.65 191.12h2.5v2.5h-2.5zM58.94 185.68h2.5v2.5h-2.5zM59.23 188.42h2.5v2.5h-2.5zM59.51 197.55h2.5v2.5h-2.5zM59.80 189.63h2.5v2.5h-2.5zM60.09 188.50h2.5v2.5h-2.5zM60.38 195.98h2.5v2.5h-2.5zM60.67 196.80h2.5v2.5h-2.5zM60.96 193.50h2.5v2.5h-2.5zM61.25 199.36h2.5v2.5h-2.5zM61.54 187.31h2.5v2.5h-2.5zM61.83 202.52h2.5v2.5h-2.5zM62.12 197.44h2.5v2.5h-2.5zM62.41 194.16h2.5v2.5h-2.5zM62.70 194.00h2.5v2.5h-2.5zM62.99 192.46h2.5v2.5h-2.5zM63.28 192.05h2.5v2.5h-2.5zM63.57 193.96h2.5v2.5h-2.5zM63.86 188.67h2.5v2.5h-2.5zM64.15 201.53h2.5v2.5h-2.5zM64.44 193.15h2.5v2.5h-2.5zM64.73 195.95h2.5v2.5h-2.5zM65.02 192.64h2.5v2.5h-2.5zM65.30 192.30h2.5v2.5h-2.5zM65.59 196.74h2.5v2.5h-2.5zM65.88 195.69h2.5v2.5h-2.5zM66.17 190.08h2.5v2.5h-2.5zM66.46 191.82h2.5v2.5h-2.5zM66.75 195.86h2.5v2.5h-2.5zM67.04 185.21h2.5v2.5h-2.5zM67.33 184.16h2.5v2.5h-2.5zM67.62 198.94h2.5v2.5h-2.5zM67.91 192.04h2.5v2.5h-2.5zM68.20 183.40h2.5v2.5h-2.5zM68.49 190.16h2.5v2.5h-2.5zM68.78 192.37h2.5v2.5h-2.5zM69.07 194.06h2.5v2.5h-2.5zM69.36 195.37h2.5v2.5h-2.5zM69.65 194.09h2.5v2.5h-2.5zM69.94 195.42h2.5v2.5h-2.5zM70.23 190.35h2.5v2.5h-2.5zM70.52 194.83h2.5v2.5h-2.5zM70.81 195.01h2.5v2.5h-2.5zM71.09 197.99h2.5v2.5h-2.5zM71.38 193.49h2.5v2.5h-2.5zM71.67 196.80h2.5v2.5h-2.5zM71.96 194.01h2.5v2.5h-2.5zM72.25 189.24h2.5v2.5h-2.5zM72.54 191.89h2.5v2.5h-2.5zM72.83 191.35h2.5v2.5h-2.5zM73.12 191.94h2.5v2.5h-2.5zM73.41 193.10h2.5v2.5h-2.5zM73.70 193.84h2.5v2.5h-2.5zM73.99 194.55h2.5v2.5h-2.5zM74.28 190.38h2.5v2.5h-2.5zM74.57 197.59h2.5v2.5h-2.5zM74.86 188.12h2.5v2.5h-2.5zM75.15 193.23h2.5v2.5h-2.5zM75.44 196.30h2.5v2.5h-2.5zM75.73 195.29h2.5v2.5h-2.5zM76.02 196.03h2.5v2.5h-2.5zM76.31 192.76h2.5v2.5h-2.5zM76.60 196.20h2.5v2.5h-2.5zM76.88 188.93h2.5v2.5h-2.5zM77.17 196.46h2.5v2.5h-2.5zM77.46 202.29h2.5v2.5h-2.5zM77.75 196.27h2.5v2.5h-2.5zM78.04 201.26h2.5v2.5h-2.5zM78.33 193.58h2.5v2.5h-2.5zM78.62 189.29h2.5v2.5h-2.5zM78.91 190.90h2.5v2.5h-2.5zM79.20 198.66h2.5v2.5h-2.5zM79.49 196.42h2.5v2.5h-2.5zM79.78 186.50h2.5v2.5h-2.5zM80.07 192.20h2.5v2.5h-2.5zM80.36 193.44h2.5v2.5h-2.5zM80.65 189.33h2.5v2.5h-2.5zM80.94 183.88h2.5v2.5h-2.5zM81.23 188.40h2.5v2.5h-2.5zM81.52 192.92h2.5v2.5h-2.5zM81.81 192.09h2.5v2.5h-2.5zM82.10 191.07h2.5v2.5h-2.5zM82.39 195.87h2.5v2.5h-2.5zM82.67 197.62h2.5v2.5h-2.5zM82.96 193.28h2.5v2.5h-2.5zM83.25 197.19h2.5v2.5h-2.5zM83.54 193.73h2.5v2.5h-2.5zM83.83 193.12h2.5v2.5h-2.5zM84.12 184.36h2.5v2.5h-2.5zM84.41 196.82h2.5v2.5h-2.5zM84.70 193.98h2.5v2.5h-2.5zM84.99 194.15h2.5v2.5h-2.5zM85.28 191.80h2.5v2.5h-2.5zM85.57 189.43h2.5v2.5h-2.5zM85.86 195.43h2.5v2.5h-2.5zM86.15 196.72h2.5v2.5h-2.5zM86.44 199.92h2.5v2.5h-2.5zM86.73 197.14h2.5v2.5h-2.5zM87.02 191.43h2.5v2.5h-2.5zM87.31 193.35h2.5v2.5h-2.5zM87.60 197.49h2.5v2.5h-2.5zM87.89 194.98h2.5v2.5h-2.5zM88.18 193.41h2.5v2.5h-2.5zM88.46 191.57h2.5v2.5h-2.5zM88.75 195.85h2.5v2.5h-2.5zM89.04 194.51h2.5v2.5h-2.5zM89.33 200.63h2.5v2.5h-2.5zM89.62 198.03h2.5v2.5h-2.5zM89.91 187.22h2.5v2.5h-2.5zM90.20 202.07h2.5v2.5h-2.5zM90.49 194.85h2.5v2.5h-2.5zM90.78 192.68h2.5v2.5h-2.5zM91.07 194.99h2.5v2.5h-2.5zM91.36 196.69h2.5v2.5h-2.5zM91.65 193.77h2.5v2.5h-2.5zM91.94 193.55h2.5v2.5h-2.5zM92.23 193.85h2.5v2.5h-2.5zM92.52 200.86h2.5v2.5h-2.5zM92.81 194.10h2.5v2.5h-2.5zM93.10 196.86h2.5v2.5h-2.5zM93.39 195.66h2.5v2.5h-2.5zM93.68 192.64h2.5v2.5h-2.5zM93.97 191.02h2.5v2.5h-2.5zM94.25 190.02h2.5v2.5h-2.5zM94.54 195.45h2.5v2.5h-2.5zM94.83 189.91h2.5v2.5h-2.5zM95.12 188.93h2.5v2.5h-2.5zM95.41 189.07h2.5v2.5h-2.5zM95.70 188.08h2.5v2.5h-2.5zM95.99 194.07h2.5v2.5h-2.5zM96.28 194.18h2.5v2.5h-2.5zM96.57 190.27h2.5v2.5h-2.5zM96.86 198.82h2.5v2.5h-2.5zM97.15 192.66h2.5v2.5h-2.5zM97.44 195.55h2.5v2.5h-2.5zM97.73 194.91h2.5v2.5h-2.5zM98.02 200.27h2.5v2.5h-2.5zM98.31 196.94h2.5v2.5h-2.5zM98.60 193.53h2.5v2.5h-2.5zM98.89 189.97h2.5v2.5h-2.5zM99.18 189.57h2.5v2.5h-2.5zM99.47 193.75h2.5v2.5h-2.5zM99.76 194.16h2.5v2.5h-2.5zM100.04 196.66h2.5v2.5h-2.5zM100.33 191.84h2.5v2.5h-2.5zM100.62 194.37h2.5v2.5h-2.5zM100.91 191.02h2.5v2.5h-2.5zM101.20 186.53h2.5v2.5h-2.5zM101.49 193.50h2.5v2.5h-2.5zM101.78 199.22h2.5v2.5h-2.5zM102.07 196.72h2.5v2.5h-2.5zM102.36 199.05h2.5v2.5h-2.5zM102.65 198.02h2.5v2.5h-2.5zM102.94 188.21h2.5v2.5h-2.5zM103.23 192.42h2.5v2.5h-2.5zM103.52 199.25h2.5v2.5h-2.5zM103.81 190.72h2.5v2.5h-2.5zM104.10 188.33h2.5v2.5h-2.5zM104.39 194.67h2.5v2.5h-2.5zM104.68 195.89h2.5v2.5h-2.5zM104.97 194.55h2.5v2.5h-2.5zM105.26 192.10h2.5v2.5h-2.5zM105.55 190.69h2.5v2.5h-2.5zM105.83 188.55h2.5v2.5h-2.5zM106.12 188.41h2.5v2.5h-2.5zM106.41 188.50h2.5v2.5h-2.5zM106.70 187.79h2.5v2.5h-2.5zM106.99 190.52h2.5v2.5h-2.5zM107.28 199.12h2.5v2.5h-2.5zM107.57 193.60h2.5v2.5h-2.5zM107.86 191.83h2.5v2.5h-2.5zM108.15 194.55h2.5v2.5h-2.5zM108.44 189.44h2.5v2.5h-2.5zM108.73 194.42h2.5v2.5h-2.5zM109.02 196.63h2.5v2.5h-2.5zM109.31 187.27h2.5v2.5h-2.5zM109.60 190.32h2.5v2.5h-2.5zM109.89 192.05h2.5v2.5h-2.5zM110.18 189.24h2.5v2.5h-2.5zM110.47 188.68h2.5v2.5h-2.5zM110.76 191.50h2.5v2.5h-2.5zM111.05 202.52h2.5v2.5h-2.5zM111.34 195.47h2.5v2.5h-2.5zM111.62 194.58h2.5v2.5h-2.5zM111.91 196.63h2.5v2.5h-2.5zM112.20 191.93h2.5v2.5h-2.5zM112.49 187.98h2.5v2.5h-2.5zM112.78 194.58h2.5v2.5h-2.5zM113.07 197.13h2.5v2.5h-2.5zM113.36 184.57h2.5v2.5h-2.5zM113.65 194.36h2.5v2.5h-2.5zM113.94 197.43h2.5v2.5h-2.5zM114.23 191.57h2.5v2.5h-2.5zM114.52 190.79h2.5v2.5h-2.5zM114.81 195.25h2.5v2.5h-2.5zM115.10 189.27h2.5v2.5h-2.5zM115.39 194.32h2.5v2.5h-2.5zM115.68 196.01h2.5v2.5h-2.5zM115.97 191.60h2.5v2.5h-2.5zM116.26 189.21h2.5v2.5h-2.5zM116.55 194.76h2.5v2.5h-2.5zM116.84 190.88h2.5v2.5h-2.5zM117.13 192.53h2.5v2.5h-2.5zM117.41 180.86h2.5v2.5h-2.5zM117.70 194.91h2.5v2.5h-2.5zM117.99 186.51h2.5v2.5h-2.5zM118.28 192.21h2.5v2.5h-2.5zM118.57 192.46h2.5v2.5h-2.5zM118.86 189.03h2.5v2.5h-2.5zM119.15 188.29h2.5v2.5h-2.5zM119.44 186.75h2.5v2.5h-2.5zM119.73 190.46h2.5v2.5h-2.5zM120.02 194.14h2.5v2.5h-2.5zM120.31 193.84h2.5v2.5h-2.5zM120.60 189.59h2.5v2.5h-2.5zM120.89 189.25h2.5v2.5h-2.5zM121.18 185.91h2.5v2.5h-2.5zM121.47 189.80h2.5v2.5h-2.5zM121.76 187.16h2.5v2.5h-2.5zM122.05 185.27h2.5v2.5h-2.5zM122.34 190.67h2.5v2.5h-2.5zM122.63 197.28h2.5v2.5h-2.5zM122.92 195.99h2.5v2.5h-2.5zM123.20 196.98h2.5v2.5h-2.5zM123.49 184.66h2.5v2.5h-2.5zM123.78 194.48h2.5v2.5h-2.5zM124.07 186.00h2.5v2.5h-2.5zM124.36 188.55h2.5v2.5h-2.5zM124.65 183.90h2.5v2.5h-2.5zM124.94 186.73h2.5v2.5h-2.5zM125.23 191.16h2.5v2.5h-2.5zM125.52 191.50h2.5v2.5h-2.5zM125.81 190.27h2.5v2.5h-2.5zM126.10 189.84h2.5v2.5h-2.5zM126.39 192.65h2.5v2.5h-2.5zM126.68 190.55h2.5v2.5h-2.5zM126.97 183.77h2.5v2.5h-2.5zM127.26 197.25h2.5v2.5h-2.5zM127.55 189.15h2.5v2.5h-2.5zM127.84 193.86h2.5v2.5h-2.5zM128.13 189.30h2.5v2.5h-2.5zM128.42 186.54h2.5v2.5h-2.5zM128.71 190.16h2.5v2.5h-2.5zM128.99 186.66h2.5v2.5h-2.5zM129.28 196.33h2.5v2.5h-2.5zM129.57 185.12h2.5v2.5h-2.5zM129.86 192.10h2.5v2.5h-2.5zM130.15 186.95h2.5v2.5h-2.5zM130.44 188.69h2.5v2.5h-2.5zM130.73 200.10h2.5v2.5h-2.5zM131.02 192.43h2.5v2.5h-2.5zM131.31 188.28h2.5v2.5h-2.5zM131.60 182.65h2.5v2.5h-2.5zM131.89 187.83h2.5v2.5h-2.5zM132.18 187.87h2.5v2.5h-2.5zM132.47 194.76h2.5v2.5h-2.5zM132.76 182.78h2.5v2.5h-2.5zM133.05 181.10h2.5v2.5h-2.5zM133.34 188.46h2.5v2.5h-2.5zM133.63 189.41h2.5v2.5h-2.5zM133.92 195.20h2.5v2.5h-2.5zM134.21 184.58h2.5v2.5h-2.5zM134.50 176.81h2.5v2.5h-2.5zM134.78 185.08h2.5v2.5h-2.5zM135.07 182.67h2.5v2.5h-2.5zM135.36 185.61h2.5v2.5h-2.5zM135.65 191.98h2.5v2.5h-2.5zM135.94 182.03h2.5v2.5h-2.5zM136.23 192.85h2.5v2.5h-2.5zM136.52 188.40h2.5v2.5h-2.5zM136.81 186.21h2.5v2.5h-2.5zM137.10 183.52h2.5v2.5h-2.5zM137.39 185.40h2.5v2.5h-2.5zM137.68 185.42h2.5v2.5h-2.5zM137.97 190.23h2.5v2.5h-2.5zM138.26 192.39h2.5v2.5h-2.5zM138.55 186.48h2.5v2.5h-2.5zM138.84 189.68h2.5v2.5h-2.5zM139.13 192.15h2.5v2.5h-2.5zM139.42 191.86h2.5v2.5h-2.5zM139.71 188.40h2.5v2.5h-2.5zM140.00 194.19h2.5v2.5h-2.5zM140.29 191.89h2.5v2.5h-2.5zM140.57 193.03h2.5v2.5h-2.5zM140.86 185.01h2.5v2.5h-2.5zM141.15 183.91h2.5v2.5h-2.5zM141.44 176.80h2.5v2.5h-2.5zM141.73 191.98h2.5v2.5h-2.5zM142.02 188.29h2.5v2.5h-2.5zM142.31 181.18h2.5v2.5h-2.5zM142.60 186.01h2.5v2.5h-2.5zM142.89 186.37h2.5v2.5h-2.5zM143.18 177.27h2.5v2.5h-2.5zM143.47 186.17h2.5v2.5h-2.5zM143.76 189.65h2.5v2.5h-2.5zM144.05 190.24h2.5v2.5h-2.5zM144.34 182.79h2.5v2.5h-2.5zM144.63 182.78h2.5v2.5h-2.5zM144.92 190.11h2.5v2.5h-2.5zM145.21 188.26h2.5v2.5h-2.5zM145.50 181.34h2.5v2.5h-2.5zM145.79 181.01h2.5v2.5h-2.5zM146.08 186.34h2.5v2.5h-2.5zM146.36 180.52h2.5v2.5h-2.5zM146.65 180.60h2.5v2.5h-2.5zM146.94 191.06h2.5v2.5h-2.5zM147.23 184.30h2.5v2.5h-2.5zM147.52 180.87h2.5v2.5h-2.5zM147.81 185.19h2.5v2.5h-2.5zM148.10 192.15h2.5v2.5h-2.5zM148.39 183.59h2.5v2.5h-2.5zM148.68 178.74h2.5v2.5h-2.5zM148.97 174.80h2.5v2.5h-2.5zM149.26 191.87h2.5v2.5h-2.5zM149.55 169.75h2.5v2.5h-2.5zM149.84 186.73h2.5v2.5h-2.5zM150.13 177.01h2.5v2.5h-2.5zM150.42 175.58h2.5v2.5h-2.5zM150.71 176.57h2.5v2.5h-2.5zM151.00 180.26h2.5v2.5h-2.5zM151.29 186.17h2.5v2.5h-2.5zM151.58 177.74h2.5v2.5h-2.5zM151.87 183.80h2.5v2.5h-2.5zM152.15 192.06h2.5v2.5h-2.5zM152.44 166.99h2.5v2.5h-2.5zM152.73 176.71h2.5v2.5h-2.5zM153.02 171.35h2.5v2.5h-2.5zM153.31 183.96h2.5v2.5h-2.5zM153.60 172.65h2.5v2.5h-2.5zM153.89 171.90h2.5v2.5h-2.5zM154.18 171.89h2.5v2.5h-2.5zM154.47 179.15h2.5v2.5h-2.5zM154.76 184.57h2.5v2.5h-2.5zM155.05 179.57h2.5v2.5h-2.5zM155.34 189.01h2.5v2.5h-2.5zM155.63 186.49h2.5v2.5h-2.5zM155.92 177.80h2.5v2.5h-2.5zM156.21 182.80h2.5v2.5h-2.5zM156.50 178.69h2.5v2.5h-2.5zM156.79 178.26h2.5v2.5h-2.5zM157.08 168.31h2.5v2.5h-2.5zM157.37 171.17h2.5v2.5h-2.5zM157.66 177.46h2.5v2.5h-2.5zM157.94 171.25h2.5v2.5h-2.5zM158.23 180.68h2.5v2.5h-2.5zM158.52 178.37h2.5v2.5h-2.5zM158.81 172.16h2.5v2.5h-2.5zM159.10 182.44h2.5v2.5h-2.5zM159.39 177.60h2.5v2.5h-2.5zM159.68 182.52h2.5v2.5h-2.5zM159.97 175.33h2.5v2.5h-2.5zM160.26 167.75h2.5v2.5h-2.5zM160.55 179.26h2.5v2.5h-2.5zM160.84 174.29h2.5v2.5h-2.5zM161.13 179.65h2.5v2.5h-2.5zM161.42 180.73h2.5v2.5h-2.5zM161.71 181.00h2.5v2.5h-2.5zM162.00 167.54h2.5v2.5h-2.5zM162.29 162.86h2.5v2.5h-2.5zM162.58 172.00h2.5v2.5h-2.5zM162.87 177.79h2.5v2.5h-2.5zM163.16 170.55h2.5v2.5h-2.5zM163.45 175.57h2.5v2.5h-2.5zM163.73 169.73h2.5v2.5h-2.5zM164.02 172.11h2.5v2.5h-2.5zM164.31 172.00h2.5v2.5h-2.5zM164.60 170.18h2.5v2.5h-2.5zM164.89 175.98h2.5v2.5h-2.5zM165.18 174.94h2.5v2.5h-2.5zM165.47 181.43h2.5v2.5h-2.5zM165.76 174.81h2.5v2.5h-2.5zM166.05 179.62h2.5v2.5h-2.5zM166.34 172.98h2.5v2.5h-2.5zM166.63 176.95h2.5v2.5h-2.5zM166.92 171.41h2.5v2.5h-2.5zM167.21 169.45h2.5v2.5h-2.5zM167.50 178.86h2.5v2.5h-2.5zM167.79 175.60h2.5v2.5h-2.5zM168.08 176.12h2.5v2.5h-2.5zM168.37 167.29h2.5v2.5h-2.5zM168.66 162.19h2.5v2.5h-2.5zM168.95 166.42h2.5v2.5h-2.5zM169.24 172.45h2.5v2.5h-2.5zM169.52 162.93h2.5v2.5h-2.5zM169.81 178.17h2.5v2.5h-2.5zM170.10 162.42h2.5v2.5h-2.5zM170.39 173.44h2.5v2.5h-2.5zM170.68 184.33h2.5v2.5h-2.5zM170.97 155.94h2.5v2.5h-2.5zM171.26 161.36h2.5v2.5h-2.5zM171.55 174.82h2.5v2.5h-2.5zM171.84 168.40h2.5v2.5h-2.5zM172.13 170.26h2.5v2.5h-2.5zM172.42 168.46h2.5v2.5h-2.5zM172.71 176.63h2.5v2.5h-2.5zM173.00 172.29h2.5v2.5h-2.5zM173.29 166.10h2.5v2.5h-2.5zM173.58 167.25h2.5v2.5h-2.5zM173.87 161.96h2.5v2.5h-2.5zM174.16 167.73h2.5v2.5h-2.5zM174.45 155.58h2.5v2.5h-2.5zM174.74 171.67h2.5v2.5h-2.5zM175.03 166.36h2.5v2.5h-2.5zM175.31 177.79h2.5v2.5h-2.5zM175.60 174.14h2.5v2.5h-2.5zM175.89 160.27h2.5v2.5h-2.5zM176.18 172.25h2.5v2.5h-2.5zM176.47 164.26h2.5v2.5h-2.5zM176.76 167.30h2.5v2.5h-2.5zM177.05 172.43h2.5v2.5h-2.5zM177.34 168.59h2.5v2.5h-2.5zM177.63 169.36h2.5v2.5h-2.5zM177.92 169.10h2.5v2.5h-2.5zM178.21 162.32h2.5v2.5h-2.5zM178.50 162.74h2.5v2.5h-2.5zM178.79 169.25h2.5v2.5h-2.5zM179.08 170.92h2.5v2.5h-2.5zM179.37 164.39h2.5v2.5h-2.5zM179.66 166.35h2.5v2.5h-2.5zM179.95 160.14h2.5v2.5h-2.5zM180.24 151.23h2.5v2.5h-2.5zM180.53 160.93h2.5v2.5h-2.5zM180.82 165.59h2.5v2.5h-2.5zM181.10 166.23h2.5v2.5h-2.5zM181.39 169.86h2.5v2.5h-2.5zM181.68 170.04h2.5v2.5h-2.5zM181.97 170.48h2.5v2.5h-2.5zM182.26 167.08h2.5v2.5h-2.5zM182.55 167.16h2.5v2.5h-2.5zM182.84 160.69h2.5v2.5h-2.5zM183.13 166.84h2.5v2.5h-2.5zM183.42 165.66h2.5v2.5h-2.5zM183.71 171.17h2.5v2.5h-2.5zM184.00 155.43h2.5v2.5h-2.5zM184.29 161.57h2.5v2.5h-2.5zM184.58 154.48h2.5v2.5h-2.5zM184.87 159.84h2.5v2.5h-2.5zM185.16 155.96h2.5v2.5h-2.5zM185.45 165.43h2.5v2.5h-2.5zM185.74 160.07h2.5v2.5h-2.5zM186.03 149.07h2.5v2.5h-2.5zM186.32 170.61h2.5v2.5h-2.5zM186.61 157.35h2.5v2.5h-2.5zM186.89 154.42h2.5v2.5h-2.5zM187.18 161.40h2.5v2.5h-2.5zM187.47 159.45h2.5v2.5h-2.5zM187.76 156.57h2.5v2.5h-2.5zM188.05 167.27h2.5v2.5h-2.5zM188.34 161.23h2.5v2.5h-2.5zM188.63 168.39h2.5v2.5h-2.5zM188.92 167.27h2.5v2.5h-2.5zM189.21 166.90h2.5v2.5h-2.5zM189.50 164.19h2.5v2.5h-2.5zM189.79 162.52h2.5v2.5h-2.5zM190.08 160.76h2.5v2.5h-2.5zM190.37 171.31h2.5v2.5h-2.5zM190.66 152.06h2.5v2.5h-2.5zM190.95 156.70h2.5v2.5h-2.5zM191.24 159.11h2.5v2.5h-2.5zM191.53 165.24h2.5v2.5h-2.5zM191.82 163.70h2.5v2.5h-2.5zM192.11 160.08h2.5v2.5h-2.5zM192.40 160.84h2.5v2.5h-2.5zM192.68 172.70h2.5v2.5h-2.5zM192.97 158.96h2.5v2.5h-2.5zM193.26 146.62h2.5v2.5h-2.5zM193.55 173.64h2.5v2.5h-2.5zM193.84 157.52h2.5v2.5h-2.5zM194.13 161.08h2.5v2.5h-2.5zM194.42 163.81h2.5v2.5h-2.5zM194.71 155.40h2.5v2.5h-2.5zM195.00 169.92h2.5v2.5h-2.5zM195.29 162.30h2.5v2.5h-2.5zM195.58 154.93h2.5v2.5h-2.5zM195.87 164.38h2.5v2.5h-2.5zM196.16 165.66h2.5v2.5h-2.5zM196.45 162.66h2.5v2.5h-2.5zM196.74 165.86h2.5v2.5h-2.5zM197.03 154.59h2.5v2.5h-2.5zM197.32 168.55h2.5v2.5h-2.5zM197.61 158.48h2.5v2.5h-2.5zM197.90 170.58h2.5v2.5h-2.5zM198.19 159.72h2.5v2.5h-2.5zM198.47 164.15h2.5v2.5h-2.5zM198.76 178.25h2.5v2.5h-2.5zM199.05 163.69h2.5v2.5h-2.5zM199.34 169.75h2.5v2.5h-2.5zM199.63 166.27h2.5v2.5h-2.5zM199.92 155.10h2.5v2.5h-2.5zM200.21 170.19h2.5v2.5h-2.5zM200.50 169.92h2.5v2.5h-2.5zM200.79 155.85h2.5v2.5h-2.5zM201.08 163.40h2.5v2.5h-2.5zM201.37 155.42h2.5v2.5h-2.5zM201.66 162.37h2.5v2.5h-2.5zM201.95 169.24h2.5v2.5h-2.5zM202.24 164.71h2.5v2.5h-2.5zM202.53 157.49h2.5v2.5h-2.5zM202.82 159.20h2.5v2.5h-2.5zM203.11 164.57h2.5v2.5h-2.5zM203.40 164.38h2.5v2.5h-2.5zM203.69 165.37h2.5v2.5h-2.5zM203.98 168.07h2.5v2.5h-2.5zM204.26 154.09h2.5v2.5h-2.5zM204.55 164.97h2.5v2.5h-2.5zM204.84 171.43h2.5v2.5h-2.5zM205.13 167.87h2.5v2.5h-2.5zM205.42 161.24h2.5v2.5h-2.5zM205.71 161.82h2.5v2.5h-2.5zM206.00 166.27h2.5v2.5h-2.5zM206.29 169.33h2.5v2.5h-2.5zM206.58 165.58h2.5v2.5h-2.5zM206.87 175.12h2.5v2.5h-2.5zM207.16 173.16h2.5v2.5h-2.5zM207.45 161.61h2.5v2.5h-2.5zM207.74 168.82h2.5v2.5h-2.5zM208.03 164.20h2.5v2.5h-2.5zM208.32 159.66h2.5v2.5h-2.5zM208.61 162.93h2.5v2.5h-2.5zM208.90 166.52h2.5v2.5h-2.5zM209.19 155.03h2.5v2.5h-2.5zM209.48 163.21h2.5v2.5h-2.5zM209.77 168.96h2.5v2.5h-2.5zM210.05 163.12h2.5v2.5h-2.5zM210.34 165.04h2.5v2.5h-2.5zM210.63 172.09h2.5v2.5h-2.5zM210.92 167.14h2.5v2.5h-2.5zM211.21 168.58h2.5v2.5h-2.5zM211.50 178.54h2.5v2.5h-2.5zM211.79 168.89h2.5v2.5h-2.5zM212.08 169.63h2.5v2.5h-2.5zM212.37 170.62h2.5v2.5h-2.5zM212.66 177.31h2.5v2.5h-2.5zM212.95 170.45h2.5v2.5h-2.5zM213.24 168.89h2.5v2.5h-2.5zM213.53 168.27h2.5v2.5h-2.5zM213.82 175.10h2.5v2.5h-2.5zM214.11 165.71h2.5v2.5h-2.5zM214.40 175.81h2.5v2.5h-2.5zM214.69 170.63h2.5v2.5h-2.5zM214.98 162.58h2.5v2.5h-2.5zM215.27 173.44h2.5v2.5h-2.5zM215.56 172.62h2.5v2.5h-2.5zM215.84 164.32h2.5v2.5h-2.5zM216.13 172.26h2.5v2.5h-2.5zM216.42 171.95h2.5v2.5h-2.5zM216.71 169.36h2.5v2.5h-2.5zM217.00 165.13h2.5v2.5h-2.5zM217.29 182.53h2.5v2.5h-2.5zM217.58 175.41h2.5v2.5h-2.5zM217.87 176.51h2.5v2.5h-2.5zM218.16 177.07h2.5v2.5h-2.5zM218.45 176.02h2.5v2.5h-2.5zM218.74 176.10h2.5v2.5h-2.5zM219.03 170.28h2.5v2.5h-2.5zM219.32 176.68h2.5v2.5h-2.5zM219.61 171.57h2.5v2.5h-2.5zM219.90 170.29h2.5v2.5h-2.5zM220.19 176.34h2.5v2.5h-2.5zM220.48 172.05h2.5v2.5h-2.5zM220.77 164.42h2.5v2.5h-2.5zM221.06 171.41h2.5v2.5h-2.5zM221.35 176.53h2.5v2.5h-2.5zM221.63 173.76h2.5v2.5h-2.5zM221.92 178.30h2.5v2.5h-2.5zM222.21 172.39h2.5v2.5h-2.5zM222.50 169.54h2.5v2.5h-2.5zM222.79 178.31h2.5v2.5h-2.5zM223.08 175.38h2.5v2.5h-2.5zM223.37 168.84h2.5v2.5h-2.5zM223.66 177.19h2.5v2.5h-2.5zM223.95 173.90h2.5v2.5h-2.5zM224.24 180.20h2.5v2.5h-2.5zM224.53 179.34h2.5v2.5h-2.5zM224.82 177.97h2.5v2.5h-2.5zM225.11 164.88h2.5v2.5h-2.5zM225.40 177.76h2.5v2.5h-2.5zM225.69 178.53h2.5v2.5h-2.5zM225.98 178.87h2.5v2.5h-2.5zM226.27 177.10h2.5v2.5h-2.5zM226.56 173.29h2.5v2.5h-2.5zM226.85 175.74h2.5v2.5h-2.5zM227.14 166.87h2.5v2.5h-2.5zM227.42 175.99h2.5v2.5h-2.5zM227.71 170.22h2.5v2.5h-2.5zM228.00 176.05h2.5v2.5h-2.5zM228.29 174.66h2.5v2.5h-2.5zM228.58 184.68h2.5v2.5h-2.5zM228.87 178.54h2.5v2.5h-2.5zM229.16 178.44h2.5v2.5h-2.5zM229.45 179.45h2.5v2.5h-2.5zM229.74 188.73h2.5v2.5h-2.5zM230.03 174.47h2.5v2.5h-2.5zM230.32 180.67h2.5v2.5h-2.5zM230.61 181.09h2.5v2.5h-2.5zM230.90 180.40h2.5v2.5h-2.5zM231.19 180.45h2.5v2.5h-2.5zM231.48 177.64h2.5v2.5h-2.5zM231.77 185.71h2.5v2.5h-2.5zM232.06 184.28h2.5v2.5h-2.5zM232.35 178.74h2.5v2.5h-2.5zM232.64 179.59h2.5v2.5h-2.5zM232.93 182.20h2.5v2.5h-2.5zM233.21 183.29h2.5v2.5h-2.5zM233.50 184.67h2.5v2.5h-2.5zM233.79 181.25h2.5v2.5h-2.5zM234.08 175.70h2.5v2.5h-2.5zM234.37 186.21h2.5v2.5h-2.5zM234.66 174.50h2.5v2.5h-2.5zM234.95 177.80h2.5v2.5h-2.5zM235.24 183.93h2.5v2.5h-2.5zM235.53 178.44h2.5v2.5h-2.5zM235.82 188.89h2.5v2.5h-2.5zM236.11 190.26h2.5v2.5h-2.5zM236.40 188.40h2.5v2.5h-2.5zM236.69 184.57h2.5v2.5h-2.5zM236.98 184.35h2.5v2.5h-2.5zM237.27 185.38h2.5v2.5h-2.5zM237.56 182.77h2.5v2.5h-2.5zM237.85 192.99h2.5v2.5h-2.5zM238.14 181.33h2.5v2.5h-2.5zM238.43 190.08h2.5v2.5h-2.5zM238.72 186.84h2.5v2.5h-2.5zM239.00 185.89h2.5v2.5h-2.5zM239.29 189.36h2.5v2.5h-2.5zM239.58 190.47h2.5v2.5h-2.5zM239.87 189.00h2.5v2.5h-2.5zM240.16 184.75h2.5v2.5h-2.5zM240.45 182.25h2.5v2.5h-2.5zM240.74 182.52h2.5v2.5h-2.5zM241.03 189.55h2.5v2.5h-2.5zM241.32 188.80h2.5v2.5h-2.5zM241.61 189.52h2.5v2.5h-2.5zM241.90 183.67h2.5v2.5h-2.5zM242.19 194.69h2.5v2.5h-2.5zM242.48 180.55h2.5v2.5h-2.5zM242.77 188.21h2.5v2.5h-2.5zM243.06 189.65h2.5v2.5h-2.5zM243.35 184.93h2.5v2.5h-2.5zM243.64 182.08h2.5v2.5h-2.5zM243.93 185.22h2.5v2.5h-2.5zM244.22 182.31h2.5v2.5h-2.5zM244.51 186.41h2.5v2.5h-2.5zM244.79 181.86h2.5v2.5h-2.5zM245.08 181.95h2.5v2.5h-2.5zM245.37 187.85h2.5v2.5h-2.5zM245.66 181.42h2.5v2.5h-2.5zM245.95 187.01h2.5v2.5h-2.5zM246.24 187.48h2.5v2.5h-2.5zM246.53 191.90h2.5v2.5h-2.5zM246.82 189.35h2.5v2.5h-2.5zM247.11 184.97h2.5v2.5h-2.5zM247.40 193.94h2.5v2.5h-2.5zM247.69 185.79h2.5v2.5h-2.5zM247.98 187.20h2.5v2.5h-2.5zM248.27 187.63h2.5v2.5h-2.5zM248.56 198.18h2.5v2.5h-2.5zM248.85 189.49h2.5v2.5h-2.5zM249.14 186.48h2.5v2.5h-2.5zM249.43 192.50h2.5v2.5h-2.5zM249.72 189.07h2.5v2.5h-2.5zM250.01 199.45h2.5v2.5h-2.5zM250.30 186.91h2.5v2.5h-2.5zM250.58 192.56h2.5v2.5h-2.5zM250.87 186.34h2.5v2.5h-2.5zM251.16 197.67h2.5v2.5h-2.5zM251.45 187.33h2.5v2.5h-2.5zM251.74 191.28h2.5v2.5h-2.5zM252.03 187.10h2.5v2.5h-2.5zM252.32 194.33h2.5v2.5h-2.5zM252.61 193.18h2.5v2.5h-2.5zM252.90 181.60h2.5v2.5h-2.5zM253.19 194.27h2.5v2.5h-2.5zM253.48 193.87h2.5v2.5h-2.5zM253.77 192.23h2.5v2.5h-2.5zM254.06 195.37h2.5v2.5h-2.5zM254.35 186.50h2.5v2.5h-2.5zM254.64 184.45h2.5v2.5h-2.5zM254.93 194.39h2.5v2.5h-2.5zM255.22 198.61h2.5v2.5h-2.5zM255.51 187.03h2.5v2.5h-2.5zM255.80 187.39h2.5v2.5h-2.5zM256.09 188.65h2.5v2.5h-2.5zM256.37 187.42h2.5v2.5h-2.5zM256.66 195.63h2.5v2.5h-2.5zM256.95 192.93h2.5v2.5h-2.5zM257.24 197.89h2.5v2.5h-2.5zM257.53 198.11h2.5v2.5h-2.5zM257.82 188.64h2.5v2.5h-2.5zM258.11 195.32h2.5v2.5h-2.5zM258.40 183.68h2.5v2.5h-2.5zM258.69 192.54h2.5v2.5h-2.5zM258.98 195.46h2.5v2.5h-2.5zM259.27 189.86h2.5v2.5h-2.5zM259.56 185.99h2.5v2.5h-2.5zM259.85 191.27h2.5v2.5h-2.5zM260.14 198.08h2.5v2.5h-2.5zM260.43 191.91h2.5v2.5h-2.5zM260.72 188.04h2.5v2.5h-2.5zM261.01 195.47h2.5v2.5h-2.5zM261.30 196.65h2.5v2.5h-2.5zM261.59 189.72h2.5v2.5h-2.5zM261.88 193.24h2.5v2.5h-2.5zM262.16 198.17h2.5v2.5h-2.5zM262.45 195.43h2.5v2.5h-2.5zM262.74 196.97h2.5v2.5h-2.5zM263.03 192.95h2.5v2.5h-2.5zM263.32 193.75h2.5v2.5h-2.5zM263.61 189.78h2.5v2.5h-2.5zM263.90 191.57h2.5v2.5h-2.5zM264.19 200.46h2.5v2.5h-2.5zM264.48 192.90h2.5v2.5h-2.5zM264.77 191.08h2.5v2.5h-2.5zM265.06 192.86h2.5v2.5h-2.5zM265.35 190.71h2.5v2.5h-2.5zM265.64 196.87h2.5v2.5h-2.5zM265.93 198.48h2.5v2.5h-2.5zM266.22 191.31h2.5v2.5h-2.5zM266.51 199.05h2.5v2.5h-2.5zM266.80 203.31h2.5v2.5h-2.5zM267.09 191.16h2.5v2.5h-2.5zM267.38 197.93h2.5v2.5h-2.5zM267.67 196.39h2.5v2.5h-2.5zM267.95 200.62h2.5v2.5h-2.5zM268.24 200.40h2.5v2.5h-2.5zM268.53 199.81h2.5v2.5h-2.5zM268.82 196.83h2.5v2.5h-2.5zM269.11 194.11h2.5v2.5h-2.5zM269.40 204.32h2.5v2.5h-2.5zM269.69 192.77h2.5v2.5h-2.5zM269.98 200.18h2.5v2.5h-2.5zM270.27 199.79h2.5v2.5h-2.5zM270.56 193.23h2.5v2.5h-2.5zM270.85 196.14h2.5v2.5h-2.5zM271.14 201.72h2.5v2.5h-2.5zM271.43 188.98h2.5v2.5h-2.5zM271.72 199.26h2.5v2.5h-2.5zM272.01 195.13h2.5v2.5h-2.5zM272.30 195.36h2.5v2.5h-2.5zM272.59 190.84h2.5v2.5h-2.5zM272.88 197.93h2.5v2.5h-2.5zM273.17 192.47h2.5v2.5h-2.5zM273.46 199.10h2.5v2.5h-2.5zM273.74 192.14h2.5v2.5h-2.5zM274.03 199.27h2.5v2.5h-2.5zM274.32 197.80h2.5v2.5h-2.5zM274.61 189.38h2.5v2.5h-2.5zM274.90 195.35h2.5v2.5h-2.5zM275.19 196.17h2.5v2.5h-2.5zM275.48 188.23h2.5v2.5h-2.5zM275.77 195.31h2.5v2.5h-2.5zM276.06 199.76h2.5v2.5h-2.5zM276.35 194.00h2.5v2.5h-2.5zM276.64 201.20h2.5v2.5h-2.5zM276.93 192.62h2.5v2.5h-2.5zM277.22 192.37h2.5v2.5h-2.5zM277.51 199.04h2.5v2.5h-2.5zM277.80 199.28h2.5v2.5h-2.5zM278.09 196.32h2.5v2.5h-2.5zM278.38 196.96h2.5v2.5h-2.5zM278.67 200.69h2.5v2.5h-2.5zM278.96 194.98h2.5v2.5h-2.5zM279.25 204.70h2.5v2.5h-2.5zM279.53 198.77h2.5v2.5h-2.5zM279.82 198.69h2.5v2.5h-2.5zM280.11 198.24h2.5v2.5h-2.5zM280.40 196.12h2.5v2.5h-2.5zM280.69 201.84h2.5v2.5h-2.5zM280.98 195.15h2.5v2.5h-2.5zM281.27 198.02h2.5v2.5h-2.5zM281.56 199.79h2.5v2.5h-2.5zM281.85 202.47h2.5v2.5h-2.5zM282.14 201.82h2.5v2.5h-2.5zM282.43 196.15h2.5v2.5h-2.5zM282.72 201.07h2.5v2.5h-2.5zM283.01 197.30h2.5v2.5h-2.5zM283.30 193.65h2.5v2.5h-2.5zM283.59 193.79h2.5v2.5h-2.5zM283.88 191.88h2.5v2.5h-2.5zM284.17 198.74h2.5v2.5h-2.5zM284.46 201.67h2.5v2.5h-2.5zM284.75 193.95h2.5v2.5h-2.5zM285.04 196.59h2.5v2.5h-2.5zM285.32 193.63h2.5v2.5h-2.5zM285.61 197.74h2.5v2.5h-2.5zM285.90 193.42h2.5v2.5h-2.5zM286.19 194.73h2.5v2.5h-2.5zM286.48 195.23h2.5v2.5h-2.5zM286.77 196.03h2.5v2.5h-2.5zM287.06 196.45h2.5v2.5h-2.5zM287.35 197.07h2.5v2.5h-2.5zM287.64 197.12h2.5v2.5h-2.5zM287.93 194.35h2.5v2.5h-2.5zM288.22 199.87h2.5v2.5h-2.5zM288.51 191.67h2.5v2.5h-2.5zM288.80 198.43h2.5v2.5h-2.5zM289.09 194.46h2.5v2.5h-2.5zM289.38 198.41h2.5v2.5h-2.5zM289.67 199.00h2.5v2.5h-2.5zM289.96 190.70h2.5v2.5h-2.5zM290.25 199.27h2.5v2.5h-2.5zM290.54 202.82h2.5v2.5h-2.5zM290.83 200.79h2.5v2.5h-2.5zM291.11 199.36h2.5v2.5h-2.5zM291.40 190.36h2.5v2.5h-2.5zM291.69 197.48h2.5v2.5h-2.5zM291.98 194.85h2.5v2.5h-2.5zM292.27 201.92h2.5v2.5h-2.5zM292.56 197.01h2.5v2.5h-2.5zM292.85 195.87h2.5v2.5h-2.5zM293.14 191.77h2.5v2.5h-2.5zM293.43 200.88h2.5v2.5h-2.5zM293.72 196.17h2.5v2.5h-2.5zM294.01 197.28h2.5v2.5h-2.5zM294.30 202.11h2.5v2.5h-2.5zM294.59 198.48h2.5v2.5h-2.5zM294.88 199.38h2.5v2.5h-2.5zM295.17 206.89h2.5v2.5h-2.5zM295.46 196.29h2.5v2.5h-2.5zM295.75 196.51h2.5v2.5h-2.5zM296.04 200.08h2.5v2.5h-2.5zM296.33 203.36h2.5v2.5h-2.5zM296.62 193.15h2.5v2.5h-2.5zM296.90 197.57h2.5v2.5h-2.5zM297.19 194.86h2.5v2.5h-2.5zM297.48 193.45h2.5v2.5h-2.5zM297.77 200.47h2.5v2.5h-2.5zM298.06 195.65h2.5v2.5h-2.5zM298.35 199.48h2.5v2.5h-2.5zM298.64 198.85h2.5v2.5h-2.5zM298.93 198.94h2.5v2.5h-2.5zM299.22 198.65h2.5v2.5h-2.5zM299.51 194.63h2.5v2.5h-2.5zM299.80 198.22h2.5v2.5h-2.5zM300.09 199.24h2.5v2.5h-2.5zM300.38 199.70h2.5v2.5h-2.5zM300.67 197.48h2.5v2.5h-2.5zM300.96 201.96h2.5v2.5h-2.5zM301.25 200.55h2.5v2.5h-2.5zM301.54 198.94h2.5v2.5h-2.5zM301.83 200.80h2.5v2.5h-2.5zM302.12 199.20h2.5v2.5h-2.5zM302.41 200.99h2.5v2.5h-2.5zM302.69 191.56h2.5v2.5h-2.5zM302.98 194.01h2.5v2.5h-2.5zM303.27 197.19h2.5v2.5h-2.5zM303.56 199.02h2.5v2.5h-2.5zM303.85 190.94h2.5v2.5h-2.5zM304.14 197.69h2.5v2.5h-2.5zM304.43 199.18h2.5v2.5h-2.5zM304.72 197.78h2.5v2.5h-2.5zM305.01 197.78h2.5v2.5h-2.5zM305.30 193.81h2.5v2.5h-2.5zM305.59 198.97h2.5v2.5h-2.5zM305.88 191.35h2.5v2.5h-2.5zM306.17 202.11h2.5v2.5h-2.5zM306.46 196.44h2.5v2.5h-2.5zM306.75 202.56h2.5v2.5h-2.5zM307.04 192.41h2.5v2.5h-2.5zM307.33 200.16h2.5v2.5h-2.5zM307.62 199.19h2.5v2.5h-2.5zM307.91 195.66h2.5v2.5h-2.5zM308.20 194.48h2.5v2.5h-2.5zM308.48 203.01h2.5v2.5h-2.5zM308.77 200.26h2.5v2.5h-2.5zM309.06 204.04h2.5v2.5h-2.5zM309.35 198.54h2.5v2.5h-2.5zM309.64 199.41h2.5v2.5h-2.5zM309.93 200.31h2.5v2.5h-2.5zM310.22 201.53h2.5v2.5h-2.5zM310.51 200.46h2.5v2.5h-2.5zM310.80 201.77h2.5v2.5h-2.5zM311.09 197.19h2.5v2.5h-2.5zM311.38 193.66h2.5v2.5h-2.5zM311.67 206.05h2.5v2.5h-2.5zM311.96 199.54h2.5v2.5h-2.5zM312.25 200.63h2.5v2.5h-2.5zM312.54 197.37h2.5v2.5h-2.5zM312.83 202.56h2.5v2.5h-2.5zM313.12 199.68h2.5v2.5h-2.5zM313.41 202.90h2.5v2.5h-2.5zM313.70 196.67h2.5v2.5h-2.5zM313.99 198.83h2.5v2.5h-2.5zM314.27 199.77h2.5v2.5h-2.5zM314.56 197.87h2.5v2.5h-2.5zM314.85 200.09h2.5v2.5h-2.5zM315.14 204.79h2.5v2.5h-2.5zM315.43 197.09h2.5v2.5h-2.5zM315.72 198.20h2.5v2.5h-2.5zM316.01 199.79h2.5v2.5h-2.5zM316.30 195.72h2.5v2.5h-2.5zM316.59 194.89h2.5v2.5h-2.5zM316.88 203.18h2.5v2.5h-2.5zM317.17 202.07h2.5v2.5h-2.5zM317.46 193.74h2.5v2.5h-2.5zM317.75 194.21h2.5v2.5h-2.5zM318.04 201.94h2.5v2.5h-2.5zM318.33 203.53h2.5v2.5h-2.5zM318.62 201.60h2.5v2.5h-2.5zM318.91 201.11h2.5v2.5h-2.5zM319.20 205.00h2.5v2.5h-2.5zM319.49 199.23h2.5v2.5h-2.5zM319.78 203.93h2.5v2.5h-2.5zM320.06 203.69h2.5v2.5h-2.5zM320.35 196.09h2.5v2.5h-2.5zM320.64 201.81h2.5v2.5h-2.5zM320.93 199.63h2.5v2.5h-2.5zM321.22 197.14h2.5v2.5h-2.5zM321.51 196.49h2.5v2.5h-2.5zM321.80 200.61h2.5v2.5h-2.5zM322.09 199.25h2.5v2.5h-2.5zM322.38 202.37h2.5v2.5h-2.5zM322.67 193.18h2.5v2.5h-2.5zM322.96 197.11h2.5v2.5h-2.5zM323.25 203.38h2.5v2.5h-2.5zM323.54 199.43h2.5v2.5h-2.5zM323.83 196.91h2.5v2.5h-2.5zM324.12 197.75h2.5v2.5h-2.5zM324.41 192.94h2.5v2.5h-2.5zM324.70 194.58h2.5v2.5h-2.5zM324.99 201.41h2.5v2.5h-2.5zM325.28 199.81h2.5v2.5h-2.5zM325.57 204.07h2.5v2.5h-2.5zM325.85 198.62h2.5v2.5h-2.5zM326.14 198.98h2.5v2.5h-2.5zM326.43 189.88h2.5v2.5h-2.5zM326.72 199.18h2.5v2.5h-2.5zM327.01 207.00h2.5v2.5h-2.5zM327.30 201.94h2.5v2.5h-2.5zM327.59 199.15h2.5v2.5h-2.5zM327.88 204.04h2.5v2.5h-2.5zM328.17 202.66h2.5v2.5h-2.5zM328.46 200.88h2.5v2.5h-2.5zM328.75 198.36h2.5v2.5h-2.5z"/>
<polyline fill="none" stroke="#073e3e" stroke-width="0.4" points="40.5,214.2 40.8,215.6 41.1,212.3 41.4,214.9 41.7,214.8 41.9,216.6 42.2,215.4 42.5,212.6 42.8,217.0 43.1,214.0 43.4,212.5 43.7,214.6 44.0,213.4 44.3,216.1 44.6,211.3 44.8,211.7 45.1,213.4 45.4,217.3 45.7,215.9 46.0,212.0 46.3,210.6 46.6,213.3 46.9,211.5 47.2,215.1 47.4,214.3 47.7,213.9 48.0,213.1 48.3,216.9 48.6,212.1 48.9,211.3 49.2,216.1 49.5,216.5 49.8,213.2 50.1,215.2 50.3,218.5 50.6,212.3 50.9,213.6 51.2,214.8 51.5,209.8 51.8,213.6 52.1,215.4 52.4,213.7 52.7,215.9 52.9,215.4 53.2,213.2 53.5,215.0 53.8,214.8 54.1,210.7 54.4,212.3 54.7,212.4 55.0,212.9 55.3,213.0 55.6,211.1 55.8,214.0 56.1,210.3 56.4,215.8 56.7,214.4 57.0,216.6 57.3,214.6 57.6,212.9 57.9,211.1 58.2,215.2 58.4,213.9 58.7,214.6 59.0,215.4 59.3,216.2 59.6,213.8 59.9,217.3 60.2,213.7 60.5,213.9 60.8,215.2 61.1,215.9 61.3,216.6 61.6,210.3 61.9,216.5 62.2,210.9 62.5,212.8 62.8,214.7 63.1,216.2 63.4,211.9 63.7,210.6 63.9,215.8 64.2,214.5 64.5,211.9 64.8,213.3 65.1,210.1 65.4,215.1 65.7,212.9 66.0,216.4 66.3,209.9 66.6,215.4 66.8,218.2 67.1,214.2 67.4,214.2 67.7,210.2 68.0,214.6 68.3,214.0 68.6,212.8 68.9,210.9 69.2,214.1 69.4,211.9 69.7,213.0 70.0,214.5 70.3,213.8 70.6,213.9 70.9,215.7 71.2,211.6 71.5,216.6 71.8,211.7 72.1,212.1 72.3,214.1 72.6,215.4 72.9,214.4 73.2,213.0 73.5,212.5 73.8,213.4 74.1,212.0 74.4,215.0 74.7,213.5 75.0,217.0 75.2,212.5 75.5,213.7 75.8,214.8 76.1,211.7 76.4,212.6 76.7,219.4 77.0,213.9 77.3,216.8 77.6,211.9 77.8,209.1 78.1,215.0 78.4,213.8 78.7,214.5 79.0,213.3 79.3,212.7 79.6,211.5 79.9,215.9 80.2,210.9 80.5,215.8 80.7,213.4 81.0,211.7 81.3,212.6 81.6,215.8 81.9,215.3 82.2,214.9 82.5,214.1 82.8,211.7 83.1,216.5 83.3,213.1 83.6,212.8 83.9,212.9 84.2,213.1 84.5,211.0 84.8,213.0 85.1,212.3 85.4,212.9 85.7,210.5 86.0,217.6 86.2,211.5 86.5,214.5 86.8,214.5 87.1,215.8 87.4,217.6 87.7,214.7 88.0,215.3 88.3,213.0 88.6,216.8 88.8,211.2 89.1,213.4 89.4,214.4 89.7,215.3 90.0,215.5 90.3,216.1 90.6,215.0 90.9,213.9 91.2,214.3 91.5,216.7 91.7,214.5 92.0,215.7 92.3,213.6 92.6,210.3 92.9,212.7 93.2,214.5 93.5,217.1 93.8,216.7 94.1,217.2 94.3,212.5 94.6,215.4 94.9,213.8 95.2,215.1 95.5,213.8 95.8,211.2 96.1,215.3 96.4,214.6 96.7,215.5 97.0,212.2 97.2,215.9 97.5,216.1 97.8,216.6 98.1,216.6 98.4,213.0 98.7,208.9 99.0,215.8 99.3,212.1 99.6,213.4 99.8,216.0 100.1,214.4 100.4,214.4 100.7,215.2 101.0,210.1 101.3,217.6 101.6,213.2 101.9,213.2 102.2,215.0 102.5,213.6 102.7,212.2 103.0,213.6 103.3,213.1 103.6,212.5 103.9,217.8 104.2,211.0 104.5,209.4 104.8,212.0 105.1,211.9 105.3,216.6 105.6,214.1 105.9,215.4 106.2,215.0 106.5,212.0 106.8,215.4 107.1,214.1 107.4,217.5 107.7,214.1 108.0,213.7 108.2,215.2 108.5,215.2 108.8,210.1 109.1,216.2 109.4,215.9 109.7,215.4 110.0,211.5 110.3,209.7 110.6,213.1 110.8,215.2 111.1,214.6 111.4,211.7 111.7,215.5 112.0,210.9 112.3,211.0 112.6,213.6 112.9,212.5 113.2,212.3 113.5,210.7 113.7,215.8 114.0,211.4 114.3,214.5 114.6,215.2 114.9,213.5 115.2,214.1 115.5,215.6 115.8,216.8 116.1,215.5 116.3,210.8 116.6,209.8 116.9,212.4 117.2,211.3 117.5,214.7 117.8,213.8 118.1,213.1 118.4,215.7 118.7,215.5 119.0,213.4 119.2,214.2 119.5,215.7 119.8,212.8 120.1,214.1 120.4,211.5 120.7,213.5 121.0,214.1 121.3,213.3 121.6,213.8 121.8,214.8 122.1,214.3 122.4,212.0 122.7,212.2 123.0,210.9 123.3,216.7 123.6,214.2 123.9,214.2 124.2,213.0 124.5,214.3 124.7,214.4 125.0,211.8 125.3,213.0 125.6,215.6 125.9,210.6 126.2,211.3 126.5,214.4 126.8,211.6 127.1,214.7 127.3,211.0 127.6,213.6 127.9,214.7 128.2,213.9 128.5,214.6 128.8,212.7 129.1,212.7 129.4,212.9 129.7,214.1 130.0,220.2 130.2,212.7 130.5,216.7 130.8,212.4 131.1,210.6 131.4,212.3 131.7,213.6 132.0,213.1 132.3,213.0 132.6,213.8 132.9,213.8 133.1,214.5 133.4,210.2 133.7,212.6 134.0,210.6 134.3,213.0 134.6,212.3 134.9,212.7 135.2,211.4 135.5,210.6 135.7,211.7 136.0,213.5 136.3,213.7 136.6,208.7 136.9,212.6 137.2,212.6 137.5,208.9 137.8,209.6 138.1,210.7 138.4,212.6 138.6,206.9 138.9,210.8 139.2,210.4 139.5,211.8 139.8,214.3 140.1,214.1 140.4,210.4 140.7,210.4 141.0,211.6 141.2,213.5 141.5,214.0 141.8,211.6 142.1,213.9 142.4,208.8 142.7,208.2 143.0,204.6 143.3,208.6 143.6,211.6 143.9,212.1 144.1,217.5 144.4,211.3 144.7,210.4 145.0,207.8 145.3,208.4 145.6,208.4 145.9,209.1 146.2,208.0 146.5,206.2 146.7,211.5 147.0,210.1 147.3,212.0 147.6,205.3 147.9,205.8 148.2,206.9 148.5,211.1 148.8,207.9 149.1,208.6 149.4,207.8 149.6,208.2 149.9,206.5 150.2,208.4 150.5,205.4 150.8,206.7 151.1,207.7 151.4,207.1 151.7,207.7 152.0,204.7 152.2,207.0 152.5,205.5 152.8,206.9 153.1,209.2 153.4,203.5 153.7,207.9 154.0,203.6 154.3,204.0 154.6,208.7 154.9,206.8 155.1,205.6 155.4,206.1 155.7,206.8 156.0,201.9 156.3,204.0 156.6,202.3 156.9,204.0 157.2,202.0 157.5,204.3 157.7,202.3 158.0,200.5 158.3,201.6 158.6,202.6 158.9,203.9 159.2,200.5 159.5,199.8 159.8,201.0 160.1,202.0 160.4,198.4 160.6,193.1 160.9,200.0 161.2,198.0 161.5,197.6 161.8,205.0 162.1,197.6 162.4,199.5 162.7,193.6 163.0,197.6 163.2,198.7 163.5,196.9 163.8,195.5 164.1,197.1 164.4,195.4 164.7,198.6 165.0,195.1 165.3,192.0 165.6,188.2 165.9,191.4 166.1,192.2 166.4,189.2 166.7,189.2 167.0,187.0 167.3,188.2 167.6,191.2 167.9,189.7 168.2,189.5 168.5,188.7 168.7,188.5 169.0,190.9 169.3,194.4 169.6,189.7 169.9,193.2 170.2,186.5 170.5,186.2 170.8,190.8 171.1,183.1 171.4,182.0 171.6,183.8 171.9,178.4 172.2,177.2 172.5,186.2 172.8,178.6 173.1,179.8 173.4,179.3 173.7,177.0 174.0,181.6 174.2,180.6 174.5,180.7 174.8,179.8 175.1,176.9 175.4,180.6 175.7,178.6 176.0,172.5 176.3,173.8 176.6,171.5 176.9,178.3 177.1,173.8 177.4,172.1 177.7,169.2 178.0,170.4 178.3,164.3 178.6,166.7 178.9,165.4 179.2,164.3 179.5,160.8 179.7,163.8 180.0,157.0 180.3,158.1 180.6,158.0 180.9,157.1 181.2,154.0 181.5,150.8 181.8,149.6 182.1,150.1 182.4,146.7 182.6,147.8 182.9,142.0 183.2,144.9 183.5,150.8 183.8,136.2 184.1,138.8 184.4,141.6 184.7,135.9 185.0,136.4 185.2,122.9 185.5,126.7 185.8,132.4 186.1,122.0 186.4,123.2 186.7,112.0 187.0,121.0 187.3,123.2 187.6,112.0 187.9,111.2 188.1,109.3 188.4,113.7 188.7,101.8 189.0,95.1 189.3,107.0 189.6,93.6 189.9,98.9 190.2,86.6 190.5,92.9 190.8,94.6 191.0,89.3 191.3,91.4 191.6,95.8 191.9,91.2 192.2,96.6 192.5,102.4 192.8,89.0 193.1,99.5 193.4,102.1 193.6,100.2 193.9,109.5 194.2,110.7 194.5,109.6 194.8,112.0 195.1,112.0 195.4,110.3 195.7,118.8 196.0,117.5 196.3,119.5 196.5,128.3 196.8,125.6 197.1,132.3 197.4,126.9 197.7,131.4 198.0,135.2 198.3,142.4 198.6,138.9 198.9,144.1 199.1,140.5 199.4,145.4 199.7,149.7 200.0,145.0 200.3,147.4 200.6,153.8 200.9,148.9 201.2,155.7 201.5,157.1 201.8,156.9 202.0,161.3 202.3,161.5 202.6,161.7 202.9,157.0 203.2,158.2 203.5,165.5 203.8,160.1 204.1,166.8 204.4,166.3 204.6,165.6 204.9,168.6 205.2,162.3 205.5,170.5 205.8,176.2 206.1,168.7 206.4,175.2 206.7,175.6 207.0,185.2 207.3,172.9 207.5,174.2 207.8,175.0 208.1,175.1 208.4,173.5 208.7,179.7 209.0,177.3 209.3,183.2 209.6,182.6 209.9,178.8 210.1,181.5 210.4,187.4 210.7,182.7 211.0,184.9 211.3,187.4 211.6,184.1 211.9,187.2 212.2,191.2 212.5,190.3 212.8,182.2 213.0,192.5 213.3,187.8 213.6,187.2 213.9,187.6 214.2,193.4 214.5,191.3 214.8,190.4 215.1,188.9 215.4,193.5 215.6,195.4 215.9,189.7 216.2,189.8 216.5,192.3 216.8,195.4 217.1,193.0 217.4,194.2 217.7,192.6 218.0,198.6 218.3,195.3 218.5,196.4 218.8,199.3 219.1,196.1 219.4,196.9 219.7,198.5 220.0,196.7 220.3,201.8 220.6,198.5 220.9,197.6 221.1,198.3 221.4,196.5 221.7,202.7 222.0,203.8 222.3,199.6 222.6,199.4 222.9,195.5 223.2,199.6 223.5,203.6 223.8,199.7 224.0,204.0 224.3,205.9 224.6,196.0 224.9,201.9 225.2,201.2 225.5,201.9 225.8,199.1 226.1,203.0 226.4,201.0 226.6,206.7 226.9,207.7 227.2,201.3 227.5,201.4 227.8,203.9 228.1,204.8 228.4,205.1 228.7,207.3 229.0,202.4 229.3,204.6 229.5,205.2 229.8,205.7 230.1,204.3 230.4,205.8 230.7,205.4 231.0,209.9 231.3,206.3 231.6,202.7 231.9,208.9 232.1,208.2 232.4,206.1 232.7,206.1 233.0,207.0 233.3,212.1 233.6,207.6 233.9,211.5 234.2,210.8 234.5,208.0 234.8,209.9 235.0,207.7 235.3,202.8 235.6,208.0 235.9,208.3 236.2,211.9 236.5,211.4 236.8,212.4 237.1,211.4 237.4,212.7 237.6,211.9 237.9,211.1 238.2,212.8 238.5,213.8 238.8,213.8 239.1,210.1 239.4,211.0 239.7,209.1 240.0,209.2 240.3,212.1 240.5,210.1 240.8,214.6 241.1,207.0 241.4,209.3 241.7,212.3 242.0,214.3 242.3,211.2 242.6,215.9 242.9,213.7 243.1,210.7 243.4,212.2 243.7,213.4 244.0,210.5 244.3,214.6 244.6,212.0 244.9,213.6 245.2,214.4 245.5,211.8 245.8,214.8 246.0,209.1 246.3,214.1 246.6,209.0 246.9,215.2 247.2,211.9 247.5,215.5 247.8,215.8 248.1,212.9 248.4,211.9 248.7,215.8 248.9,211.0 249.2,215.0 249.5,213.2 249.8,212.7 250.1,212.4 250.4,217.1 250.7,210.4 251.0,212.5 251.3,214.5 251.5,215.7 251.8,217.0 252.1,216.4 252.4,212.8 252.7,214.5 253.0,216.1 253.3,214.9 253.6,210.9 253.9,214.6 254.2,215.1 254.4,211.4 254.7,213.2 255.0,214.0 255.3,215.3 255.6,217.1 255.9,216.4 256.2,215.1 256.5,214.6 256.8,213.5 257.0,213.2 257.3,213.8 257.6,213.9 257.9,216.2 258.2,218.4 258.5,215.3 258.8,216.2 259.1,215.6 259.4,214.9 259.7,216.8 259.9,216.6 260.2,214.6 260.5,214.2 260.8,215.7 261.1,213.6 261.4,214.9 261.7,216.5 262.0,214.5 262.3,211.0 262.5,215.9 262.8,212.4 263.1,212.0 263.4,211.8 263.7,216.2 264.0,210.8 264.3,214.4 264.6,215.2 264.9,215.1 265.2,213.6 265.4,214.6 265.7,215.1 266.0,212.3 266.3,216.1 266.6,216.7 266.9,213.3 267.2,213.5 267.5,212.7 267.8,216.8 268.0,212.8 268.3,213.9 268.6,211.5 268.9,217.2 269.2,214.4 269.5,215.4 269.8,217.9 270.1,216.2 270.4,212.8 270.7,215.8 270.9,216.3 271.2,213.3 271.5,213.1 271.8,213.1 272.1,216.4 272.4,215.1 272.7,213.0 273.0,216.2 273.3,216.4 273.5,213.4 273.8,212.1 274.1,217.2 274.4,219.9 274.7,217.7 275.0,216.9 275.3,215.3 275.6,213.9 275.9,215.3 276.2,216.4 276.4,214.8 276.7,216.9 277.0,215.2 277.3,216.3 277.6,210.1 277.9,213.6 278.2,216.7 278.5,217.0 278.8,215.9 279.0,218.2 279.3,216.5 279.6,216.5 279.9,213.5 280.2,216.0 280.5,216.6 280.8,217.7 281.1,217.4 281.4,215.3 281.7,215.6 281.9,213.1 282.2,216.4 282.5,213.2 282.8,214.7 283.1,215.2 283.4,219.0 283.7,217.6 284.0,213.9 284.3,212.6 284.5,214.9 284.8,213.8 285.1,216.0 285.4,216.0 285.7,216.5 286.0,213.5 286.3,214.6 286.6,215.7 286.9,215.9 287.2,214.3 287.4,214.7 287.7,216.9 288.0,212.1 288.3,214.8 288.6,215.3 288.9,212.6 289.2,213.4 289.5,215.5 289.8,214.4 290.0,217.3 290.3,216.5 290.6,219.6 290.9,213.1 291.2,218.9 291.5,214.1 291.8,216.9 292.1,217.2 292.4,215.8 292.7,214.9 292.9,214.3 293.2,212.1 293.5,214.7 293.8,213.8 294.1,216.5 294.4,214.1 294.7,215.1 295.0,216.3 295.3,215.6 295.5,215.6 295.8,215.1 296.1,214.7 296.4,216.4 296.7,216.8 297.0,214.1 297.3,218.6 297.6,216.6 297.9,212.6 298.2,220.5 298.4,216.8 298.7,214.2 299.0,218.6 299.3,210.7 299.6,220.3 299.9,212.9 300.2,212.6 300.5,213.8 300.8,215.9 301.0,214.9 301.3,217.2 301.6,214.0 301.9,217.6 302.2,216.1 302.5,213.7 302.8,217.6 303.1,216.2 303.4,215.3 303.7,218.0 303.9,213.4 304.2,215.0 304.5,218.4 304.8,215.7 305.1,217.0 305.4,216.8 305.7,215.5 306.0,216.9 306.3,213.8 306.6,216.9 306.8,213.8 307.1,215.7 307.4,214.0 307.7,216.6 308.0,216.6 308.3,217.8 308.6,214.6 308.9,213.9 309.2,211.7 309.4,213.3 309.7,215.2 310.0,216.0 310.3,214.9 310.6,215.7 310.9,213.0 311.2,213.9 311.5,217.2 311.8,216.9 312.1,213.2 312.3,215.1 312.6,216.1 312.9,213.5 313.2,216.4 313.5,216.2 313.8,216.6 314.1,219.3 314.4,214.1 314.7,217.9 314.9,216.8 315.2,217.1 315.5,214.4 315.8,215.9 316.1,215.7 316.4,218.8 316.7,215.9 317.0,218.5 317.3,215.2 317.6,215.1 317.8,215.8 318.1,212.0 318.4,214.8 318.7,214.7 319.0,215.5 319.3,216.1 319.6,214.0 319.9,213.8 320.2,218.2 320.4,213.9 320.7,214.9 321.0,214.0 321.3,214.9 321.6,218.1 321.9,218.0 322.2,212.5 322.5,215.4 322.8,218.4 323.1,215.2 323.3,216.5 323.6,219.2 323.9,220.0 324.2,218.8 324.5,215.3 324.8,215.9 325.1,216.3 325.4,215.3 325.7,214.8 325.9,219.7 326.2,216.4 326.5,217.4 326.8,218.1 327.1,216.9 327.4,216.1 327.7,216.4 328.0,218.5 328.3,216.8 328.6,212.2 328.8,217.8 329.1,219.0 329.4,215.4 329.7,214.8 330.0,215.1"/><polyline fill="none" stroke="#073e3e" stroke-width="0.95" points="165.3,192.0 165.6,188.2 165.9,191.4 166.1,192.2 166.4,189.2 166.7,189.2 167.0,187.0 167.3,188.2 167.6,191.2 167.9,189.7 168.2,189.5 168.5,188.7 168.7,188.5 169.0,190.9 169.3,194.4 169.6,189.7 169.9,193.2 170.2,186.5 170.5,186.2 170.8,190.8 171.1,183.1 171.4,182.0 171.6,183.8 171.9,178.4 172.2,177.2 172.5,186.2 172.8,178.6 173.1,179.8 173.4,179.3 173.7,177.0 174.0,181.6 174.2,180.6 174.5,180.7 174.8,179.8 175.1,176.9 175.4,180.6 175.7,178.6 176.0,172.5 176.3,173.8 176.6,171.5 176.9,178.3 177.1,173.8 177.4,172.1 177.7,169.2 178.0,170.4 178.3,164.3 178.6,166.7 178.9,165.4 179.2,164.3 179.5,160.8 179.7,163.8 180.0,157.0 180.3,158.1 180.6,158.0 180.9,157.1 181.2,154.0 181.5,150.8 181.8,149.6 182.1,150.1 182.4,146.7 182.6,147.8 182.9,142.0 183.2,144.9 183.5,150.8 183.8,136.2 184.1,138.8 184.4,141.6 184.7,135.9 185.0,136.4 185.2,122.9 185.5,126.7 185.8,132.4 186.1,122.0 186.4,123.2 186.7,112.0 187.0,121.0 187.3,123.2 187.6,112.0 187.9,111.2 188.1,109.3 188.4,113.7 188.7,101.8 189.0,95.1 189.3,107.0 189.6,93.6 189.9,98.9 190.2,86.6 190.5,92.9 190.8,94.6 191.0,89.3 191.3,91.4 191.6,95.8 191.9,91.2 192.2,96.6 192.5,102.4 192.8,89.0 193.1,99.5 193.4,102.1 193.6,100.2 193.9,109.5 194.2,110.7 194.5,109.6 194.8,112.0 195.1,112.0 195.4,110.3 195.7,118.8 196.0,117.5 196.3,119.5 196.5,128.3 196.8,125.6 197.1,132.3 197.4,126.9 197.7,131.4 198.0,135.2 198.3,142.4 198.6,138.9 198.9,144.1 199.1,140.5 199.4,145.4 199.7,149.7 200.0,145.0 200.3,147.4 200.6,153.8 200.9,148.9 201.2,155.7 201.5,157.1 201.8,156.9 202.0,161.3 202.3,161.5 202.6,161.7 202.9,157.0 203.2,158.2 203.5,165.5 203.8,160.1 204.1,166.8 204.4,166.3 204.6,165.6 204.9,168.6 205.2,162.3 205.5,170.5 205.8,176.2 206.1,168.7 206.4,175.2 206.7,175.6 207.0,185.2 207.3,172.9 207.5,174.2 207.8,175.0 208.1,175.1 208.4,173.5 208.7,179.7 209.0,177.3 209.3,183.2 209.6,182.6 209.9,178.8 210.1,181.5 210.4,187.4 210.7,182.7 211.0,184.9 211.3,187.4 211.6,184.1 211.9,187.2 212.2,191.2 212.5,190.3 212.8,182.2 213.0,192.5 213.3,187.8 213.6,187.2 213.9,187.6 214.2,193.4 214.5,191.3 214.8,190.4 215.1,188.9 215.4,193.5 215.6,195.4 215.9,189.7 216.2,189.8 216.5,192.3 216.8,195.4 217.1,193.0 217.4,194.2 217.7,192.6 218.0,198.6 218.3,195.3 218.5,196.4"/><path fill="#073e3e" d="M39.70 213.39h1.6v1.6h-1.6zM39.99 214.80h1.6v1.6h-1.6zM40.28 211.54h1.6v1.6h-1.6zM40.57 214.12h1.6v1.6h-1.6zM40.86 214.05h1.6v1.6h-1.6zM41.15 215.76h1.6v1.6h-1.6zM41.44 214.61h1.6v1.6h-1.6zM41.73 211.81h1.6v1.6h-1.6zM42.02 216.22h1.6v1.6h-1.6zM42.31 213.22h1.6v1.6h-1.6zM42.59 211.69h1.6v1.6h-1.6zM42.88 213.82h1.6v1.6h-1.6zM43.17 212.62h1.6v1.6h-1.6zM43.46 215.26h1.6v1.6h-1.6zM43.75 210.54h1.6v1.6h-1.6zM44.04 210.95h1.6v1.6h-1.6zM44.33 212.63h1.6v1.6h-1.6zM44.62 216.50h1.6v1.6h-1.6zM44.91 215.12h1.6v1.6h-1.6zM45.20 211.19h1.6v1.6h-1.6zM45.49 209.77h1.6v1.6h-1.6zM45.78 212.52h1.6v1.6h-1.6zM46.07 210.67h1.6v1.6h-1.6zM46.36 214.28h1.6v1.6h-1.6zM46.65 213.47h1.6v1.6h-1.6zM46.94 213.10h1.6v1.6h-1.6zM47.23 212.28h1.6v1.6h-1.6zM47.52 216.07h1.6v1.6h-1.6zM47.81 211.28h1.6v1.6h-1.6zM48.10 210.53h1.6v1.6h-1.6zM48.38 215.34h1.6v1.6h-1.6zM48.67 215.74h1.6v1.6h-1.6zM48.96 212.43h1.6v1.6h-1.6zM49.25 214.38h1.6v1.6h-1.6zM49.54 217.71h1.6v1.6h-1.6zM49.83 211.54h1.6v1.6h-1.6zM50.12 212.81h1.6v1.6h-1.6zM50.41 214.04h1.6v1.6h-1.6zM50.70 209.01h1.6v1.6h-1.6zM50.99 212.84h1.6v1.6h-1.6zM51.28 214.58h1.6v1.6h-1.6zM51.57 212.92h1.6v1.6h-1.6zM51.86 215.14h1.6v1.6h-1.6zM52.15 214.60h1.6v1.6h-1.6zM52.44 212.37h1.6v1.6h-1.6zM52.73 214.19h1.6v1.6h-1.6zM53.02 214.00h1.6v1.6h-1.6zM53.31 209.88h1.6v1.6h-1.6zM53.60 211.45h1.6v1.6h-1.6zM53.89 211.56h1.6v1.6h-1.6zM54.17 212.10h1.6v1.6h-1.6zM54.46 212.18h1.6v1.6h-1.6zM54.75 210.30h1.6v1.6h-1.6zM55.04 213.16h1.6v1.6h-1.6zM55.33 209.53h1.6v1.6h-1.6zM55.62 214.97h1.6v1.6h-1.6zM55.91 213.62h1.6v1.6h-1.6zM56.20 215.81h1.6v1.6h-1.6zM56.49 213.80h1.6v1.6h-1.6zM56.78 212.13h1.6v1.6h-1.6zM57.07 210.32h1.6v1.6h-1.6zM57.36 214.42h1.6v1.6h-1.6zM57.65 213.12h1.6v1.6h-1.6zM57.94 213.83h1.6v1.6h-1.6zM58.23 214.57h1.6v1.6h-1.6zM58.52 215.44h1.6v1.6h-1.6zM58.81 213.02h1.6v1.6h-1.6zM59.10 216.50h1.6v1.6h-1.6zM59.39 212.92h1.6v1.6h-1.6zM59.68 213.10h1.6v1.6h-1.6zM59.96 214.42h1.6v1.6h-1.6zM60.25 215.10h1.6v1.6h-1.6zM60.54 215.83h1.6v1.6h-1.6zM60.83 209.51h1.6v1.6h-1.6zM61.12 215.75h1.6v1.6h-1.6zM61.41 210.12h1.6v1.6h-1.6zM61.70 211.98h1.6v1.6h-1.6zM61.99 213.85h1.6v1.6h-1.6zM62.28 215.39h1.6v1.6h-1.6zM62.57 211.12h1.6v1.6h-1.6zM62.86 209.79h1.6v1.6h-1.6zM63.15 214.96h1.6v1.6h-1.6zM63.44 213.73h1.6v1.6h-1.6zM63.73 211.11h1.6v1.6h-1.6zM64.02 212.50h1.6v1.6h-1.6zM64.31 209.27h1.6v1.6h-1.6zM64.60 214.26h1.6v1.6h-1.6zM64.89 212.10h1.6v1.6h-1.6zM65.18 215.58h1.6v1.6h-1.6zM65.47 209.09h1.6v1.6h-1.6zM65.75 214.57h1.6v1.6h-1.6zM66.04 217.43h1.6v1.6h-1.6zM66.33 213.40h1.6v1.6h-1.6zM66.62 213.42h1.6v1.6h-1.6zM66.91 209.44h1.6v1.6h-1.6zM67.20 213.81h1.6v1.6h-1.6zM67.49 213.18h1.6v1.6h-1.6zM67.78 212.01h1.6v1.6h-1.6zM68.07 210.08h1.6v1.6h-1.6zM68.36 213.28h1.6v1.6h-1.6zM68.65 211.14h1.6v1.6h-1.6zM68.94 212.15h1.6v1.6h-1.6zM69.23 213.73h1.6v1.6h-1.6zM69.52 213.01h1.6v1.6h-1.6zM69.81 213.10h1.6v1.6h-1.6zM70.10 214.93h1.6v1.6h-1.6zM70.39 210.81h1.6v1.6h-1.6zM70.68 215.85h1.6v1.6h-1.6zM70.97 210.89h1.6v1.6h-1.6zM71.26 211.31h1.6v1.6h-1.6zM71.54 213.34h1.6v1.6h-1.6zM71.83 214.64h1.6v1.6h-1.6zM72.12 213.60h1.6v1.6h-1.6zM72.41 212.25h1.6v1.6h-1.6zM72.70 211.72h1.6v1.6h-1.6zM72.99 212.61h1.6v1.6h-1.6zM73.28 211.24h1.6v1.6h-1.6zM73.57 214.24h1.6v1.6h-1.6zM73.86 212.71h1.6v1.6h-1.6zM74.15 216.20h1.6v1.6h-1.6zM74.44 211.68h1.6v1.6h-1.6zM74.73 212.87h1.6v1.6h-1.6zM75.02 213.97h1.6v1.6h-1.6zM75.31 210.91h1.6v1.6h-1.6zM75.60 211.82h1.6v1.6h-1.6zM75.89 218.62h1.6v1.6h-1.6zM76.18 213.09h1.6v1.6h-1.6zM76.47 215.98h1.6v1.6h-1.6zM76.76 211.10h1.6v1.6h-1.6zM77.05 208.34h1.6v1.6h-1.6zM77.33 214.17h1.6v1.6h-1.6zM77.62 213.02h1.6v1.6h-1.6zM77.91 213.65h1.6v1.6h-1.6zM78.20 212.48h1.6v1.6h-1.6zM78.49 211.91h1.6v1.6h-1.6zM78.78 210.67h1.6v1.6h-1.6zM79.07 215.08h1.6v1.6h-1.6zM79.36 210.12h1.6v1.6h-1.6zM79.65 214.97h1.6v1.6h-1.6zM79.94 212.63h1.6v1.6h-1.6zM80.23 210.92h1.6v1.6h-1.6zM80.52 211.78h1.6v1.6h-1.6zM80.81 214.98h1.6v1.6h-1.6zM81.10 214.52h1.6v1.6h-1.6zM81.39 214.06h1.6v1.6h-1.6zM81.68 213.26h1.6v1.6h-1.6zM81.97 210.94h1.6v1.6h-1.6zM82.26 215.67h1.6v1.6h-1.6zM82.55 212.26h1.6v1.6h-1.6zM82.84 211.98h1.6v1.6h-1.6zM83.12 212.08h1.6v1.6h-1.6zM83.41 212.26h1.6v1.6h-1.6zM83.70 210.22h1.6v1.6h-1.6zM83.99 212.21h1.6v1.6h-1.6zM84.28 211.50h1.6v1.6h-1.6zM84.57 212.07h1.6v1.6h-1.6zM84.86 209.68h1.6v1.6h-1.6zM85.15 216.84h1.6v1.6h-1.6zM85.44 210.67h1.6v1.6h-1.6zM85.73 213.66h1.6v1.6h-1.6zM86.02 213.70h1.6v1.6h-1.6zM86.31 215.03h1.6v1.6h-1.6zM86.60 216.78h1.6v1.6h-1.6zM86.89 213.89h1.6v1.6h-1.6zM87.18 214.49h1.6v1.6h-1.6zM87.47 212.20h1.6v1.6h-1.6zM87.76 216.01h1.6v1.6h-1.6zM88.05 210.38h1.6v1.6h-1.6zM88.34 212.62h1.6v1.6h-1.6zM88.63 213.63h1.6v1.6h-1.6zM88.91 214.52h1.6v1.6h-1.6zM89.20 214.67h1.6v1.6h-1.6zM89.49 215.34h1.6v1.6h-1.6zM89.78 214.20h1.6v1.6h-1.6zM90.07 213.13h1.6v1.6h-1.6zM90.36 213.49h1.6v1.6h-1.6zM90.65 215.89h1.6v1.6h-1.6zM90.94 213.66h1.6v1.6h-1.6zM91.23 214.87h1.6v1.6h-1.6zM91.52 212.83h1.6v1.6h-1.6zM91.81 209.53h1.6v1.6h-1.6zM92.10 211.93h1.6v1.6h-1.6zM92.39 213.75h1.6v1.6h-1.6zM92.68 216.29h1.6v1.6h-1.6zM92.97 215.88h1.6v1.6h-1.6zM93.26 216.40h1.6v1.6h-1.6zM93.55 211.73h1.6v1.6h-1.6zM93.84 214.62h1.6v1.6h-1.6zM94.13 213.01h1.6v1.6h-1.6zM94.42 214.34h1.6v1.6h-1.6zM94.70 212.95h1.6v1.6h-1.6zM94.99 210.41h1.6v1.6h-1.6zM95.28 214.45h1.6v1.6h-1.6zM95.57 213.79h1.6v1.6h-1.6zM95.86 214.69h1.6v1.6h-1.6zM96.15 211.42h1.6v1.6h-1.6zM96.44 215.11h1.6v1.6h-1.6zM96.73 215.32h1.6v1.6h-1.6zM97.02 215.81h1.6v1.6h-1.6zM97.31 215.85h1.6v1.6h-1.6zM97.60 212.20h1.6v1.6h-1.6zM97.89 208.13h1.6v1.6h-1.6zM98.18 215.04h1.6v1.6h-1.6zM98.47 211.26h1.6v1.6h-1.6zM98.76 212.62h1.6v1.6h-1.6zM99.05 215.24h1.6v1.6h-1.6zM99.34 213.64h1.6v1.6h-1.6zM99.63 213.55h1.6v1.6h-1.6zM99.92 214.44h1.6v1.6h-1.6zM100.21 209.35h1.6v1.6h-1.6zM100.49 216.79h1.6v1.6h-1.6zM100.78 212.35h1.6v1.6h-1.6zM101.07 212.45h1.6v1.6h-1.6zM101.36 214.21h1.6v1.6h-1.6zM101.65 212.79h1.6v1.6h-1.6zM101.94 211.38h1.6v1.6h-1.6zM102.23 212.78h1.6v1.6h-1.6zM102.52 212.27h1.6v1.6h-1.6zM102.81 211.73h1.6v1.6h-1.6zM103.10 217.02h1.6v1.6h-1.6zM103.39 210.20h1.6v1.6h-1.6zM103.68 208.64h1.6v1.6h-1.6zM103.97 211.16h1.6v1.6h-1.6zM104.26 211.09h1.6v1.6h-1.6zM104.55 215.79h1.6v1.6h-1.6zM104.84 213.28h1.6v1.6h-1.6zM105.13 214.63h1.6v1.6h-1.6zM105.42 214.19h1.6v1.6h-1.6zM105.71 211.17h1.6v1.6h-1.6zM106.00 214.60h1.6v1.6h-1.6zM106.28 213.29h1.6v1.6h-1.6zM106.57 216.74h1.6v1.6h-1.6zM106.86 213.34h1.6v1.6h-1.6zM107.15 212.85h1.6v1.6h-1.6zM107.44 214.39h1.6v1.6h-1.6zM107.73 214.42h1.6v1.6h-1.6zM108.02 209.35h1.6v1.6h-1.6zM108.31 215.36h1.6v1.6h-1.6zM108.60 215.05h1.6v1.6h-1.6zM108.89 214.58h1.6v1.6h-1.6zM109.18 210.67h1.6v1.6h-1.6zM109.47 208.91h1.6v1.6h-1.6zM109.76 212.34h1.6v1.6h-1.6zM110.05 214.38h1.6v1.6h-1.6zM110.34 213.81h1.6v1.6h-1.6zM110.63 210.90h1.6v1.6h-1.6zM110.92 214.74h1.6v1.6h-1.6zM111.21 210.14h1.6v1.6h-1.6zM111.50 210.20h1.6v1.6h-1.6zM111.79 212.82h1.6v1.6h-1.6zM112.07 211.69h1.6v1.6h-1.6zM112.36 211.49h1.6v1.6h-1.6zM112.65 209.91h1.6v1.6h-1.6zM112.94 214.98h1.6v1.6h-1.6zM113.23 210.63h1.6v1.6h-1.6zM113.52 213.65h1.6v1.6h-1.6zM113.81 214.41h1.6v1.6h-1.6zM114.10 212.71h1.6v1.6h-1.6zM114.39 213.32h1.6v1.6h-1.6zM114.68 214.82h1.6v1.6h-1.6zM114.97 216.00h1.6v1.6h-1.6zM115.26 214.72h1.6v1.6h-1.6zM115.55 210.04h1.6v1.6h-1.6zM115.84 209.04h1.6v1.6h-1.6zM116.13 211.59h1.6v1.6h-1.6zM116.42 210.54h1.6v1.6h-1.6zM116.71 213.85h1.6v1.6h-1.6zM117.00 212.98h1.6v1.6h-1.6zM117.29 212.27h1.6v1.6h-1.6zM117.58 214.93h1.6v1.6h-1.6zM117.86 214.74h1.6v1.6h-1.6zM118.15 212.61h1.6v1.6h-1.6zM118.44 213.42h1.6v1.6h-1.6zM118.73 214.86h1.6v1.6h-1.6zM119.02 212.01h1.6v1.6h-1.6zM119.31 213.27h1.6v1.6h-1.6zM119.60 210.75h1.6v1.6h-1.6zM119.89 212.75h1.6v1.6h-1.6zM120.18 213.31h1.6v1.6h-1.6zM120.47 212.46h1.6v1.6h-1.6zM120.76 213.04h1.6v1.6h-1.6zM121.05 214.00h1.6v1.6h-1.6zM121.34 213.47h1.6v1.6h-1.6zM121.63 211.19h1.6v1.6h-1.6zM121.92 211.38h1.6v1.6h-1.6zM122.21 210.11h1.6v1.6h-1.6zM122.50 215.95h1.6v1.6h-1.6zM122.79 213.38h1.6v1.6h-1.6zM123.08 213.41h1.6v1.6h-1.6zM123.37 212.24h1.6v1.6h-1.6zM123.65 213.45h1.6v1.6h-1.6zM123.94 213.56h1.6v1.6h-1.6zM124.23 210.99h1.6v1.6h-1.6zM124.52 212.16h1.6v1.6h-1.6zM124.81 214.79h1.6v1.6h-1.6zM125.10 209.85h1.6v1.6h-1.6zM125.39 210.49h1.6v1.6h-1.6zM125.68 213.57h1.6v1.6h-1.6zM125.97 210.78h1.6v1.6h-1.6zM126.26 213.85h1.6v1.6h-1.6zM126.55 210.16h1.6v1.6h-1.6zM126.84 212.79h1.6v1.6h-1.6zM127.13 213.92h1.6v1.6h-1.6zM127.42 213.05h1.6v1.6h-1.6zM127.71 213.81h1.6v1.6h-1.6zM128.00 211.88h1.6v1.6h-1.6zM128.29 211.89h1.6v1.6h-1.6zM128.58 212.14h1.6v1.6h-1.6zM128.87 213.29h1.6v1.6h-1.6zM129.16 219.43h1.6v1.6h-1.6zM129.44 211.95h1.6v1.6h-1.6zM129.73 215.88h1.6v1.6h-1.6zM130.02 211.59h1.6v1.6h-1.6zM130.31 209.79h1.6v1.6h-1.6zM130.60 211.47h1.6v1.6h-1.6zM130.89 212.76h1.6v1.6h-1.6zM131.18 212.31h1.6v1.6h-1.6zM131.47 212.18h1.6v1.6h-1.6zM131.76 212.98h1.6v1.6h-1.6zM132.05 213.02h1.6v1.6h-1.6zM132.34 213.66h1.6v1.6h-1.6zM132.63 209.39h1.6v1.6h-1.6zM132.92 211.76h1.6v1.6h-1.6zM133.21 209.77h1.6v1.6h-1.6zM133.50 212.16h1.6v1.6h-1.6zM133.79 211.46h1.6v1.6h-1.6zM134.08 211.91h1.6v1.6h-1.6zM134.37 210.59h1.6v1.6h-1.6zM134.66 209.81h1.6v1.6h-1.6zM134.95 210.94h1.6v1.6h-1.6zM135.23 212.75h1.6v1.6h-1.6zM135.52 212.91h1.6v1.6h-1.6zM135.81 207.91h1.6v1.6h-1.6zM136.10 211.80h1.6v1.6h-1.6zM136.39 211.77h1.6v1.6h-1.6zM136.68 208.13h1.6v1.6h-1.6zM136.97 208.84h1.6v1.6h-1.6zM137.26 209.91h1.6v1.6h-1.6zM137.55 211.76h1.6v1.6h-1.6zM137.84 206.06h1.6v1.6h-1.6zM138.13 210.02h1.6v1.6h-1.6zM138.42 209.63h1.6v1.6h-1.6zM138.71 211.04h1.6v1.6h-1.6zM139.00 213.54h1.6v1.6h-1.6zM139.29 213.31h1.6v1.6h-1.6zM139.58 209.64h1.6v1.6h-1.6zM139.87 209.60h1.6v1.6h-1.6zM140.16 210.83h1.6v1.6h-1.6zM140.45 212.70h1.6v1.6h-1.6zM140.74 213.19h1.6v1.6h-1.6zM141.02 210.78h1.6v1.6h-1.6zM141.31 213.06h1.6v1.6h-1.6zM141.60 208.05h1.6v1.6h-1.6zM141.89 207.42h1.6v1.6h-1.6zM142.18 203.80h1.6v1.6h-1.6zM142.47 207.81h1.6v1.6h-1.6zM142.76 210.82h1.6v1.6h-1.6zM143.05 211.32h1.6v1.6h-1.6zM143.34 216.71h1.6v1.6h-1.6zM143.63 210.54h1.6v1.6h-1.6zM143.92 209.55h1.6v1.6h-1.6zM144.21 207.00h1.6v1.6h-1.6zM144.50 207.65h1.6v1.6h-1.6zM144.79 207.59h1.6v1.6h-1.6zM145.08 208.28h1.6v1.6h-1.6zM145.37 207.20h1.6v1.6h-1.6zM145.66 205.37h1.6v1.6h-1.6zM145.95 210.70h1.6v1.6h-1.6zM146.24 209.26h1.6v1.6h-1.6zM146.53 211.17h1.6v1.6h-1.6zM146.81 204.47h1.6v1.6h-1.6zM147.10 205.03h1.6v1.6h-1.6zM147.39 206.09h1.6v1.6h-1.6zM147.68 210.25h1.6v1.6h-1.6zM147.97 207.08h1.6v1.6h-1.6zM148.26 207.84h1.6v1.6h-1.6zM148.55 207.00h1.6v1.6h-1.6zM148.84 207.45h1.6v1.6h-1.6zM149.13 205.71h1.6v1.6h-1.6zM149.42 207.61h1.6v1.6h-1.6zM149.71 204.63h1.6v1.6h-1.6zM150.00 205.85h1.6v1.6h-1.6zM150.29 206.90h1.6v1.6h-1.6zM150.58 206.32h1.6v1.6h-1.6zM150.87 206.90h1.6v1.6h-1.6zM151.16 203.85h1.6v1.6h-1.6zM151.45 206.16h1.6v1.6h-1.6zM151.74 204.68h1.6v1.6h-1.6zM152.03 206.08h1.6v1.6h-1.6zM152.32 208.44h1.6v1.6h-1.6zM152.60 202.68h1.6v1.6h-1.6zM152.89 207.07h1.6v1.6h-1.6zM153.18 202.80h1.6v1.6h-1.6zM153.47 203.20h1.6v1.6h-1.6zM153.76 207.90h1.6v1.6h-1.6zM154.05 206.02h1.6v1.6h-1.6zM154.34 204.78h1.6v1.6h-1.6zM154.63 205.30h1.6v1.6h-1.6zM154.92 205.96h1.6v1.6h-1.6zM155.21 201.10h1.6v1.6h-1.6zM155.50 203.24h1.6v1.6h-1.6zM155.79 201.49h1.6v1.6h-1.6zM156.08 203.24h1.6v1.6h-1.6zM156.37 201.19h1.6v1.6h-1.6zM156.66 203.54h1.6v1.6h-1.6zM156.95 201.51h1.6v1.6h-1.6zM157.24 199.75h1.6v1.6h-1.6zM157.53 200.82h1.6v1.6h-1.6zM157.82 201.81h1.6v1.6h-1.6zM158.11 203.13h1.6v1.6h-1.6zM158.39 199.70h1.6v1.6h-1.6zM158.68 198.97h1.6v1.6h-1.6zM158.97 200.22h1.6v1.6h-1.6zM159.26 201.25h1.6v1.6h-1.6zM159.55 197.60h1.6v1.6h-1.6zM159.84 192.30h1.6v1.6h-1.6zM160.13 199.18h1.6v1.6h-1.6zM160.42 197.22h1.6v1.6h-1.6zM160.71 196.80h1.6v1.6h-1.6zM161.00 204.20h1.6v1.6h-1.6zM161.29 196.82h1.6v1.6h-1.6zM161.58 198.70h1.6v1.6h-1.6zM161.87 192.82h1.6v1.6h-1.6zM162.16 196.84h1.6v1.6h-1.6zM162.45 197.91h1.6v1.6h-1.6zM162.74 196.07h1.6v1.6h-1.6zM163.03 194.68h1.6v1.6h-1.6zM163.32 196.30h1.6v1.6h-1.6zM163.61 194.56h1.6v1.6h-1.6zM163.90 197.77h1.6v1.6h-1.6zM164.18 194.30h1.6v1.6h-1.6zM164.47 191.16h1.6v1.6h-1.6zM164.76 187.44h1.6v1.6h-1.6zM165.05 190.56h1.6v1.6h-1.6zM165.34 191.37h1.6v1.6h-1.6zM165.63 188.40h1.6v1.6h-1.6zM165.92 188.44h1.6v1.6h-1.6zM166.21 186.18h1.6v1.6h-1.6zM166.50 187.40h1.6v1.6h-1.6zM166.79 190.41h1.6v1.6h-1.6zM167.08 188.89h1.6v1.6h-1.6zM167.37 188.68h1.6v1.6h-1.6zM167.66 187.87h1.6v1.6h-1.6zM167.95 187.71h1.6v1.6h-1.6zM168.24 190.14h1.6v1.6h-1.6zM168.53 193.58h1.6v1.6h-1.6zM168.82 188.88h1.6v1.6h-1.6zM169.11 192.44h1.6v1.6h-1.6zM169.40 185.70h1.6v1.6h-1.6zM169.69 185.39h1.6v1.6h-1.6zM169.97 189.96h1.6v1.6h-1.6zM170.26 182.28h1.6v1.6h-1.6zM170.55 181.19h1.6v1.6h-1.6zM170.84 183.00h1.6v1.6h-1.6zM171.13 177.60h1.6v1.6h-1.6zM171.42 176.38h1.6v1.6h-1.6zM171.71 185.35h1.6v1.6h-1.6zM172.00 177.77h1.6v1.6h-1.6zM172.29 179.03h1.6v1.6h-1.6zM172.58 178.48h1.6v1.6h-1.6zM172.87 176.21h1.6v1.6h-1.6zM173.16 180.83h1.6v1.6h-1.6zM173.45 179.78h1.6v1.6h-1.6zM173.74 179.87h1.6v1.6h-1.6zM174.03 178.96h1.6v1.6h-1.6zM174.32 176.14h1.6v1.6h-1.6zM174.61 179.84h1.6v1.6h-1.6zM174.90 177.79h1.6v1.6h-1.6zM175.19 171.69h1.6v1.6h-1.6zM175.48 173.05h1.6v1.6h-1.6zM175.76 170.73h1.6v1.6h-1.6zM176.05 177.51h1.6v1.6h-1.6zM176.34 172.97h1.6v1.6h-1.6zM176.63 171.33h1.6v1.6h-1.6zM176.92 168.44h1.6v1.6h-1.6zM177.21 169.62h1.6v1.6h-1.6zM177.50 163.46h1.6v1.6h-1.6zM177.79 165.87h1.6v1.6h-1.6zM178.08 164.59h1.6v1.6h-1.6zM178.37 163.54h1.6v1.6h-1.6zM178.66 160.02h1.6v1.6h-1.6zM178.95 163.02h1.6v1.6h-1.6zM179.24 156.22h1.6v1.6h-1.6zM179.53 157.34h1.6v1.6h-1.6zM179.82 157.16h1.6v1.6h-1.6zM180.11 156.26h1.6v1.6h-1.6zM180.40 153.18h1.6v1.6h-1.6zM180.69 149.97h1.6v1.6h-1.6zM180.98 148.75h1.6v1.6h-1.6zM181.27 149.31h1.6v1.6h-1.6zM181.55 145.89h1.6v1.6h-1.6zM181.84 147.05h1.6v1.6h-1.6zM182.13 141.16h1.6v1.6h-1.6zM182.42 144.15h1.6v1.6h-1.6zM182.71 149.98h1.6v1.6h-1.6zM183.00 135.36h1.6v1.6h-1.6zM183.29 138.02h1.6v1.6h-1.6zM183.58 140.85h1.6v1.6h-1.6zM183.87 135.12h1.6v1.6h-1.6zM184.16 135.60h1.6v1.6h-1.6zM184.45 122.08h1.6v1.6h-1.6zM184.74 125.94h1.6v1.6h-1.6zM185.03 131.56h1.6v1.6h-1.6zM185.32 121.15h1.6v1.6h-1.6zM185.61 122.42h1.6v1.6h-1.6zM185.90 111.16h1.6v1.6h-1.6zM186.19 120.19h1.6v1.6h-1.6zM186.48 122.41h1.6v1.6h-1.6zM186.77 111.16h1.6v1.6h-1.6zM187.06 110.45h1.6v1.6h-1.6zM187.34 108.46h1.6v1.6h-1.6zM187.63 112.92h1.6v1.6h-1.6zM187.92 100.99h1.6v1.6h-1.6zM188.21 94.27h1.6v1.6h-1.6zM188.50 106.23h1.6v1.6h-1.6zM188.79 92.83h1.6v1.6h-1.6zM189.08 98.09h1.6v1.6h-1.6zM189.37 85.76h1.6v1.6h-1.6zM189.66 92.14h1.6v1.6h-1.6zM189.95 93.84h1.6v1.6h-1.6zM190.24 88.50h1.6v1.6h-1.6zM190.53 90.57h1.6v1.6h-1.6zM190.82 94.97h1.6v1.6h-1.6zM191.11 90.42h1.6v1.6h-1.6zM191.40 95.76h1.6v1.6h-1.6zM191.69 101.59h1.6v1.6h-1.6zM191.98 88.17h1.6v1.6h-1.6zM192.27 98.68h1.6v1.6h-1.6zM192.56 101.28h1.6v1.6h-1.6zM192.85 99.43h1.6v1.6h-1.6zM193.13 108.65h1.6v1.6h-1.6zM193.42 109.93h1.6v1.6h-1.6zM193.71 108.82h1.6v1.6h-1.6zM194.00 111.16h1.6v1.6h-1.6zM194.29 111.20h1.6v1.6h-1.6zM194.58 109.51h1.6v1.6h-1.6zM194.87 118.03h1.6v1.6h-1.6zM195.16 116.70h1.6v1.6h-1.6zM195.45 118.66h1.6v1.6h-1.6zM195.74 127.47h1.6v1.6h-1.6zM196.03 124.77h1.6v1.6h-1.6zM196.32 131.52h1.6v1.6h-1.6zM196.61 126.11h1.6v1.6h-1.6zM196.90 130.61h1.6v1.6h-1.6zM197.19 134.40h1.6v1.6h-1.6zM197.48 141.58h1.6v1.6h-1.6zM197.77 138.10h1.6v1.6h-1.6zM198.06 143.34h1.6v1.6h-1.6zM198.35 139.72h1.6v1.6h-1.6zM198.64 144.61h1.6v1.6h-1.6zM198.92 148.92h1.6v1.6h-1.6zM199.21 144.20h1.6v1.6h-1.6zM199.50 146.59h1.6v1.6h-1.6zM199.79 152.97h1.6v1.6h-1.6zM200.08 148.11h1.6v1.6h-1.6zM200.37 154.87h1.6v1.6h-1.6zM200.66 156.31h1.6v1.6h-1.6zM200.95 156.11h1.6v1.6h-1.6zM201.24 160.55h1.6v1.6h-1.6zM201.53 160.69h1.6v1.6h-1.6zM201.82 160.91h1.6v1.6h-1.6zM202.11 156.15h1.6v1.6h-1.6zM202.40 157.42h1.6v1.6h-1.6zM202.69 164.66h1.6v1.6h-1.6zM202.98 159.25h1.6v1.6h-1.6zM203.27 166.00h1.6v1.6h-1.6zM203.56 165.55h1.6v1.6h-1.6zM203.85 164.80h1.6v1.6h-1.6zM204.14 167.76h1.6v1.6h-1.6zM204.43 161.51h1.6v1.6h-1.6zM204.71 169.72h1.6v1.6h-1.6zM205.00 175.39h1.6v1.6h-1.6zM205.29 167.88h1.6v1.6h-1.6zM205.58 174.39h1.6v1.6h-1.6zM205.87 174.81h1.6v1.6h-1.6zM206.16 184.38h1.6v1.6h-1.6zM206.45 172.06h1.6v1.6h-1.6zM206.74 173.39h1.6v1.6h-1.6zM207.03 174.18h1.6v1.6h-1.6zM207.32 174.31h1.6v1.6h-1.6zM207.61 172.72h1.6v1.6h-1.6zM207.90 178.93h1.6v1.6h-1.6zM208.19 176.46h1.6v1.6h-1.6zM208.48 182.40h1.6v1.6h-1.6zM208.77 181.78h1.6v1.6h-1.6zM209.06 177.98h1.6v1.6h-1.6zM209.35 180.66h1.6v1.6h-1.6zM209.64 186.57h1.6v1.6h-1.6zM209.93 181.91h1.6v1.6h-1.6zM210.22 184.13h1.6v1.6h-1.6zM210.50 186.61h1.6v1.6h-1.6zM210.79 183.34h1.6v1.6h-1.6zM211.08 186.40h1.6v1.6h-1.6zM211.37 190.41h1.6v1.6h-1.6zM211.66 189.53h1.6v1.6h-1.6zM211.95 181.45h1.6v1.6h-1.6zM212.24 191.68h1.6v1.6h-1.6zM212.53 187.02h1.6v1.6h-1.6zM212.82 186.37h1.6v1.6h-1.6zM213.11 186.76h1.6v1.6h-1.6zM213.40 192.64h1.6v1.6h-1.6zM213.69 190.46h1.6v1.6h-1.6zM213.98 189.57h1.6v1.6h-1.6zM214.27 188.12h1.6v1.6h-1.6zM214.56 192.68h1.6v1.6h-1.6zM214.85 194.56h1.6v1.6h-1.6zM215.14 188.86h1.6v1.6h-1.6zM215.43 188.99h1.6v1.6h-1.6zM215.72 191.46h1.6v1.6h-1.6zM216.01 194.59h1.6v1.6h-1.6zM216.29 192.16h1.6v1.6h-1.6zM216.58 193.37h1.6v1.6h-1.6zM216.87 191.76h1.6v1.6h-1.6zM217.16 197.84h1.6v1.6h-1.6zM217.45 194.49h1.6v1.6h-1.6zM217.74 195.60h1.6v1.6h-1.6zM218.03 198.51h1.6v1.6h-1.6zM218.32 195.30h1.6v1.6h-1.6zM218.61 196.13h1.6v1.6h-1.6zM218.90 197.66h1.6v1.6h-1.6zM219.19 195.86h1.6v1.6h-1.6zM219.48 200.97h1.6v1.6h-1.6zM219.77 197.71h1.6v1.6h-1.6zM220.06 196.77h1.6v1.6h-1.6zM220.35 197.47h1.6v1.6h-1.6zM220.64 195.74h1.6v1.6h-1.6zM220.93 201.92h1.6v1.6h-1.6zM221.22 202.99h1.6v1.6h-1.6zM221.51 198.82h1.6v1.6h-1.6zM221.80 198.57h1.6v1.6h-1.6zM222.08 194.67h1.6v1.6h-1.6zM222.37 198.75h1.6v1.6h-1.6zM222.66 202.77h1.6v1.6h-1.6zM222.95 198.85h1.6v1.6h-1.6zM223.24 203.23h1.6v1.6h-1.6zM223.53 205.07h1.6v1.6h-1.6zM223.82 195.25h1.6v1.6h-1.6zM224.11 201.13h1.6v1.6h-1.6zM224.40 200.44h1.6v1.6h-1.6zM224.69 201.06h1.6v1.6h-1.6zM224.98 198.29h1.6v1.6h-1.6zM225.27 202.24h1.6v1.6h-1.6zM225.56 200.24h1.6v1.6h-1.6zM225.85 205.85h1.6v1.6h-1.6zM226.14 206.94h1.6v1.6h-1.6zM226.43 200.47h1.6v1.6h-1.6zM226.72 200.59h1.6v1.6h-1.6zM227.01 203.09h1.6v1.6h-1.6zM227.30 203.98h1.6v1.6h-1.6zM227.59 204.33h1.6v1.6h-1.6zM227.87 206.53h1.6v1.6h-1.6zM228.16 201.57h1.6v1.6h-1.6zM228.45 203.81h1.6v1.6h-1.6zM228.74 204.37h1.6v1.6h-1.6zM229.03 204.86h1.6v1.6h-1.6zM229.32 203.52h1.6v1.6h-1.6zM229.61 204.95h1.6v1.6h-1.6zM229.90 204.59h1.6v1.6h-1.6zM230.19 209.10h1.6v1.6h-1.6zM230.48 205.49h1.6v1.6h-1.6zM230.77 201.91h1.6v1.6h-1.6zM231.06 208.14h1.6v1.6h-1.6zM231.35 207.43h1.6v1.6h-1.6zM231.64 205.33h1.6v1.6h-1.6zM231.93 205.35h1.6v1.6h-1.6zM232.22 206.25h1.6v1.6h-1.6zM232.51 211.33h1.6v1.6h-1.6zM232.80 206.83h1.6v1.6h-1.6zM233.09 210.66h1.6v1.6h-1.6zM233.38 210.01h1.6v1.6h-1.6zM233.66 207.17h1.6v1.6h-1.6zM233.95 209.14h1.6v1.6h-1.6zM234.24 206.89h1.6v1.6h-1.6zM234.53 201.99h1.6v1.6h-1.6zM234.82 207.23h1.6v1.6h-1.6zM235.11 207.48h1.6v1.6h-1.6zM235.40 211.06h1.6v1.6h-1.6zM235.69 210.64h1.6v1.6h-1.6zM235.98 211.65h1.6v1.6h-1.6zM236.27 210.63h1.6v1.6h-1.6zM236.56 211.92h1.6v1.6h-1.6zM236.85 211.12h1.6v1.6h-1.6zM237.14 210.28h1.6v1.6h-1.6zM237.43 212.04h1.6v1.6h-1.6zM237.72 213.02h1.6v1.6h-1.6zM238.01 212.99h1.6v1.6h-1.6zM238.30 209.31h1.6v1.6h-1.6zM238.59 210.23h1.6v1.6h-1.6zM238.88 208.32h1.6v1.6h-1.6zM239.17 208.38h1.6v1.6h-1.6zM239.45 211.33h1.6v1.6h-1.6zM239.74 209.34h1.6v1.6h-1.6zM240.03 213.76h1.6v1.6h-1.6zM240.32 206.21h1.6v1.6h-1.6zM240.61 208.53h1.6v1.6h-1.6zM240.90 211.49h1.6v1.6h-1.6zM241.19 213.50h1.6v1.6h-1.6zM241.48 210.44h1.6v1.6h-1.6zM241.77 215.08h1.6v1.6h-1.6zM242.06 212.94h1.6v1.6h-1.6zM242.35 209.92h1.6v1.6h-1.6zM242.64 211.35h1.6v1.6h-1.6zM242.93 212.56h1.6v1.6h-1.6zM243.22 209.73h1.6v1.6h-1.6zM243.51 213.79h1.6v1.6h-1.6zM243.80 211.20h1.6v1.6h-1.6zM244.09 212.83h1.6v1.6h-1.6zM244.38 213.58h1.6v1.6h-1.6zM244.67 211.03h1.6v1.6h-1.6zM244.96 213.99h1.6v1.6h-1.6zM245.24 208.28h1.6v1.6h-1.6zM245.53 213.28h1.6v1.6h-1.6zM245.82 208.23h1.6v1.6h-1.6zM246.11 214.39h1.6v1.6h-1.6zM246.40 211.08h1.6v1.6h-1.6zM246.69 214.70h1.6v1.6h-1.6zM246.98 215.02h1.6v1.6h-1.6zM247.27 212.11h1.6v1.6h-1.6zM247.56 211.13h1.6v1.6h-1.6zM247.85 215.02h1.6v1.6h-1.6zM248.14 210.23h1.6v1.6h-1.6zM248.43 214.17h1.6v1.6h-1.6zM248.72 212.39h1.6v1.6h-1.6zM249.01 211.94h1.6v1.6h-1.6zM249.30 211.56h1.6v1.6h-1.6zM249.59 216.27h1.6v1.6h-1.6zM249.88 209.64h1.6v1.6h-1.6zM250.17 211.74h1.6v1.6h-1.6zM250.46 213.70h1.6v1.6h-1.6zM250.75 214.90h1.6v1.6h-1.6zM251.03 216.24h1.6v1.6h-1.6zM251.32 215.62h1.6v1.6h-1.6zM251.61 211.95h1.6v1.6h-1.6zM251.90 213.70h1.6v1.6h-1.6zM252.19 215.26h1.6v1.6h-1.6zM252.48 214.12h1.6v1.6h-1.6zM252.77 210.11h1.6v1.6h-1.6zM253.06 213.80h1.6v1.6h-1.6zM253.35 214.32h1.6v1.6h-1.6zM253.64 210.61h1.6v1.6h-1.6zM253.93 212.35h1.6v1.6h-1.6zM254.22 213.18h1.6v1.6h-1.6zM254.51 214.46h1.6v1.6h-1.6zM254.80 216.31h1.6v1.6h-1.6zM255.09 215.59h1.6v1.6h-1.6zM255.38 214.29h1.6v1.6h-1.6zM255.67 213.81h1.6v1.6h-1.6zM255.96 212.73h1.6v1.6h-1.6zM256.25 212.38h1.6v1.6h-1.6zM256.54 213.03h1.6v1.6h-1.6zM256.82 213.06h1.6v1.6h-1.6zM257.11 215.43h1.6v1.6h-1.6zM257.40 217.64h1.6v1.6h-1.6zM257.69 214.54h1.6v1.6h-1.6zM257.98 215.38h1.6v1.6h-1.6zM258.27 214.83h1.6v1.6h-1.6zM258.56 214.12h1.6v1.6h-1.6zM258.85 215.99h1.6v1.6h-1.6zM259.14 215.75h1.6v1.6h-1.6zM259.43 213.84h1.6v1.6h-1.6zM259.72 213.45h1.6v1.6h-1.6zM260.01 214.93h1.6v1.6h-1.6zM260.30 212.75h1.6v1.6h-1.6zM260.59 214.13h1.6v1.6h-1.6zM260.88 215.67h1.6v1.6h-1.6zM261.17 213.67h1.6v1.6h-1.6zM261.46 210.18h1.6v1.6h-1.6zM261.75 215.06h1.6v1.6h-1.6zM262.04 211.58h1.6v1.6h-1.6zM262.33 211.19h1.6v1.6h-1.6zM262.61 210.98h1.6v1.6h-1.6zM262.90 215.39h1.6v1.6h-1.6zM263.19 210.03h1.6v1.6h-1.6zM263.48 213.64h1.6v1.6h-1.6zM263.77 214.35h1.6v1.6h-1.6zM264.06 214.32h1.6v1.6h-1.6zM264.35 212.76h1.6v1.6h-1.6zM264.64 213.81h1.6v1.6h-1.6zM264.93 214.26h1.6v1.6h-1.6zM265.22 211.51h1.6v1.6h-1.6zM265.51 215.31h1.6v1.6h-1.6zM265.80 215.93h1.6v1.6h-1.6zM266.09 212.47h1.6v1.6h-1.6zM266.38 212.65h1.6v1.6h-1.6zM266.67 211.93h1.6v1.6h-1.6zM266.96 216.03h1.6v1.6h-1.6zM267.25 211.97h1.6v1.6h-1.6zM267.54 213.11h1.6v1.6h-1.6zM267.83 210.71h1.6v1.6h-1.6zM268.12 216.40h1.6v1.6h-1.6zM268.40 213.64h1.6v1.6h-1.6zM268.69 214.59h1.6v1.6h-1.6zM268.98 217.07h1.6v1.6h-1.6zM269.27 215.43h1.6v1.6h-1.6zM269.56 211.97h1.6v1.6h-1.6zM269.85 214.98h1.6v1.6h-1.6zM270.14 215.47h1.6v1.6h-1.6zM270.43 212.49h1.6v1.6h-1.6zM270.72 212.27h1.6v1.6h-1.6zM271.01 212.28h1.6v1.6h-1.6zM271.30 215.63h1.6v1.6h-1.6zM271.59 214.26h1.6v1.6h-1.6zM271.88 212.23h1.6v1.6h-1.6zM272.17 215.40h1.6v1.6h-1.6zM272.46 215.59h1.6v1.6h-1.6zM272.75 212.63h1.6v1.6h-1.6zM273.04 211.26h1.6v1.6h-1.6zM273.33 216.37h1.6v1.6h-1.6zM273.62 219.09h1.6v1.6h-1.6zM273.91 216.94h1.6v1.6h-1.6zM274.19 216.13h1.6v1.6h-1.6zM274.48 214.49h1.6v1.6h-1.6zM274.77 213.09h1.6v1.6h-1.6zM275.06 214.53h1.6v1.6h-1.6zM275.35 215.57h1.6v1.6h-1.6zM275.64 213.98h1.6v1.6h-1.6zM275.93 216.08h1.6v1.6h-1.6zM276.22 214.37h1.6v1.6h-1.6zM276.51 215.49h1.6v1.6h-1.6zM276.80 209.27h1.6v1.6h-1.6zM277.09 212.77h1.6v1.6h-1.6zM277.38 215.87h1.6v1.6h-1.6zM277.67 216.18h1.6v1.6h-1.6zM277.96 215.14h1.6v1.6h-1.6zM278.25 217.41h1.6v1.6h-1.6zM278.54 215.70h1.6v1.6h-1.6zM278.83 215.72h1.6v1.6h-1.6zM279.12 212.70h1.6v1.6h-1.6zM279.41 215.15h1.6v1.6h-1.6zM279.70 215.84h1.6v1.6h-1.6zM279.98 216.87h1.6v1.6h-1.6zM280.27 216.57h1.6v1.6h-1.6zM280.56 214.51h1.6v1.6h-1.6zM280.85 214.79h1.6v1.6h-1.6zM281.14 212.28h1.6v1.6h-1.6zM281.43 215.57h1.6v1.6h-1.6zM281.72 212.43h1.6v1.6h-1.6zM282.01 213.93h1.6v1.6h-1.6zM282.30 214.43h1.6v1.6h-1.6zM282.59 218.17h1.6v1.6h-1.6zM282.88 216.84h1.6v1.6h-1.6zM283.17 213.05h1.6v1.6h-1.6zM283.46 211.84h1.6v1.6h-1.6zM283.75 214.06h1.6v1.6h-1.6zM284.04 213.03h1.6v1.6h-1.6zM284.33 215.22h1.6v1.6h-1.6zM284.62 215.16h1.6v1.6h-1.6zM284.91 215.71h1.6v1.6h-1.6zM285.20 212.66h1.6v1.6h-1.6zM285.49 213.84h1.6v1.6h-1.6zM285.77 214.92h1.6v1.6h-1.6zM286.06 215.11h1.6v1.6h-1.6zM286.35 213.46h1.6v1.6h-1.6zM286.64 213.90h1.6v1.6h-1.6zM286.93 216.06h1.6v1.6h-1.6zM287.22 211.32h1.6v1.6h-1.6zM287.51 214.04h1.6v1.6h-1.6zM287.80 214.51h1.6v1.6h-1.6zM288.09 211.78h1.6v1.6h-1.6zM288.38 212.63h1.6v1.6h-1.6zM288.67 214.71h1.6v1.6h-1.6zM288.96 213.55h1.6v1.6h-1.6zM289.25 216.54h1.6v1.6h-1.6zM289.54 215.75h1.6v1.6h-1.6zM289.83 218.76h1.6v1.6h-1.6zM290.12 212.30h1.6v1.6h-1.6zM290.41 218.10h1.6v1.6h-1.6zM290.70 213.31h1.6v1.6h-1.6zM290.99 216.13h1.6v1.6h-1.6zM291.28 216.41h1.6v1.6h-1.6zM291.56 214.96h1.6v1.6h-1.6zM291.85 214.10h1.6v1.6h-1.6zM292.14 213.47h1.6v1.6h-1.6zM292.43 211.32h1.6v1.6h-1.6zM292.72 213.95h1.6v1.6h-1.6zM293.01 212.98h1.6v1.6h-1.6zM293.30 215.73h1.6v1.6h-1.6zM293.59 213.30h1.6v1.6h-1.6zM293.88 214.35h1.6v1.6h-1.6zM294.17 215.50h1.6v1.6h-1.6zM294.46 214.82h1.6v1.6h-1.6zM294.75 214.76h1.6v1.6h-1.6zM295.04 214.30h1.6v1.6h-1.6zM295.33 213.91h1.6v1.6h-1.6zM295.62 215.60h1.6v1.6h-1.6zM295.91 216.04h1.6v1.6h-1.6zM296.20 213.29h1.6v1.6h-1.6zM296.49 217.82h1.6v1.6h-1.6zM296.78 215.82h1.6v1.6h-1.6zM297.07 211.81h1.6v1.6h-1.6zM297.35 219.70h1.6v1.6h-1.6zM297.64 215.98h1.6v1.6h-1.6zM297.93 213.42h1.6v1.6h-1.6zM298.22 217.76h1.6v1.6h-1.6zM298.51 209.90h1.6v1.6h-1.6zM298.80 219.50h1.6v1.6h-1.6zM299.09 212.06h1.6v1.6h-1.6zM299.38 211.84h1.6v1.6h-1.6zM299.67 213.03h1.6v1.6h-1.6zM299.96 215.14h1.6v1.6h-1.6zM300.25 214.07h1.6v1.6h-1.6zM300.54 216.40h1.6v1.6h-1.6zM300.83 213.25h1.6v1.6h-1.6zM301.12 216.82h1.6v1.6h-1.6zM301.41 215.26h1.6v1.6h-1.6zM301.70 212.91h1.6v1.6h-1.6zM301.99 216.82h1.6v1.6h-1.6zM302.28 215.44h1.6v1.6h-1.6zM302.57 214.46h1.6v1.6h-1.6zM302.86 217.25h1.6v1.6h-1.6zM303.14 212.62h1.6v1.6h-1.6zM303.43 214.15h1.6v1.6h-1.6zM303.72 217.58h1.6v1.6h-1.6zM304.01 214.87h1.6v1.6h-1.6zM304.30 216.22h1.6v1.6h-1.6zM304.59 216.01h1.6v1.6h-1.6zM304.88 214.66h1.6v1.6h-1.6zM305.17 216.11h1.6v1.6h-1.6zM305.46 213.03h1.6v1.6h-1.6zM305.75 216.11h1.6v1.6h-1.6zM306.04 213.01h1.6v1.6h-1.6zM306.33 214.90h1.6v1.6h-1.6zM306.62 213.25h1.6v1.6h-1.6zM306.91 215.83h1.6v1.6h-1.6zM307.20 215.76h1.6v1.6h-1.6zM307.49 216.96h1.6v1.6h-1.6zM307.78 213.77h1.6v1.6h-1.6zM308.07 213.12h1.6v1.6h-1.6zM308.36 210.94h1.6v1.6h-1.6zM308.65 212.47h1.6v1.6h-1.6zM308.93 214.40h1.6v1.6h-1.6zM309.22 215.25h1.6v1.6h-1.6zM309.51 214.15h1.6v1.6h-1.6zM309.80 214.92h1.6v1.6h-1.6zM310.09 212.18h1.6v1.6h-1.6zM310.38 213.14h1.6v1.6h-1.6zM310.67 216.42h1.6v1.6h-1.6zM310.96 216.15h1.6v1.6h-1.6zM311.25 212.37h1.6v1.6h-1.6zM311.54 214.32h1.6v1.6h-1.6zM311.83 215.32h1.6v1.6h-1.6zM312.12 212.71h1.6v1.6h-1.6zM312.41 215.61h1.6v1.6h-1.6zM312.70 215.42h1.6v1.6h-1.6zM312.99 215.76h1.6v1.6h-1.6zM313.28 218.52h1.6v1.6h-1.6zM313.57 213.33h1.6v1.6h-1.6zM313.86 217.14h1.6v1.6h-1.6zM314.15 215.97h1.6v1.6h-1.6zM314.44 216.29h1.6v1.6h-1.6zM314.72 213.59h1.6v1.6h-1.6zM315.01 215.06h1.6v1.6h-1.6zM315.30 214.91h1.6v1.6h-1.6zM315.59 218.03h1.6v1.6h-1.6zM315.88 215.11h1.6v1.6h-1.6zM316.17 217.66h1.6v1.6h-1.6zM316.46 214.39h1.6v1.6h-1.6zM316.75 214.28h1.6v1.6h-1.6zM317.04 214.99h1.6v1.6h-1.6zM317.33 211.21h1.6v1.6h-1.6zM317.62 214.00h1.6v1.6h-1.6zM317.91 213.88h1.6v1.6h-1.6zM318.20 214.71h1.6v1.6h-1.6zM318.49 215.33h1.6v1.6h-1.6zM318.78 213.21h1.6v1.6h-1.6zM319.07 212.96h1.6v1.6h-1.6zM319.36 217.38h1.6v1.6h-1.6zM319.65 213.06h1.6v1.6h-1.6zM319.94 214.05h1.6v1.6h-1.6zM320.23 213.24h1.6v1.6h-1.6zM320.51 214.15h1.6v1.6h-1.6zM320.80 217.29h1.6v1.6h-1.6zM321.09 217.16h1.6v1.6h-1.6zM321.38 211.67h1.6v1.6h-1.6zM321.67 214.55h1.6v1.6h-1.6zM321.96 217.62h1.6v1.6h-1.6zM322.25 214.38h1.6v1.6h-1.6zM322.54 215.69h1.6v1.6h-1.6zM322.83 218.41h1.6v1.6h-1.6zM323.12 219.23h1.6v1.6h-1.6zM323.41 217.97h1.6v1.6h-1.6zM323.70 214.54h1.6v1.6h-1.6zM323.99 215.13h1.6v1.6h-1.6zM324.28 215.50h1.6v1.6h-1.6zM324.57 214.53h1.6v1.6h-1.6zM324.86 213.95h1.6v1.6h-1.6zM325.15 218.91h1.6v1.6h-1.6zM325.44 215.61h1.6v1.6h-1.6zM325.73 216.58h1.6v1.6h-1.6zM326.02 217.32h1.6v1.6h-1.6zM326.30 216.07h1.6v1.6h-1.6zM326.59 215.30h1.6v1.6h-1.6zM326.88 215.56h1.6v1.6h-1.6zM327.17 217.74h1.6v1.6h-1.6zM327.46 215.97h1.6v1.6h-1.6zM327.75 211.40h1.6v1.6h-1.6zM328.04 217.02h1.6v1.6h-1.6zM328.33 218.18h1.6v1.6h-1.6zM328.62 214.59h1.6v1.6h-1.6zM328.91 214.01h1.6v1.6h-1.6zM329.20 214.25h1.6v1.6h-1.6z"/>
<polyline fill="none" stroke="#40c8f8" stroke-width="0.4" points="40.5,210.2 40.8,203.4 41.1,209.2 41.4,210.3 41.7,208.6 41.9,207.0 42.2,204.4 42.5,204.7 42.8,206.7 43.1,203.7 43.4,206.4 43.7,203.8 44.0,211.2 44.3,211.7 44.6,204.2 44.8,211.1 45.1,207.6 45.4,207.0 45.7,208.3 46.0,208.1 46.3,202.2 46.6,214.8 46.9,203.9 47.2,199.3 47.4,206.6 47.7,206.8 48.0,204.4 48.3,200.8 48.6,210.5 48.9,206.4 49.2,207.3 49.5,204.9 49.8,206.2 50.1,204.6 50.3,208.1 50.6,206.6 50.9,208.9 51.2,208.9 51.5,207.2 51.8,207.2 52.1,210.5 52.4,201.7 52.7,207.2 52.9,211.2 53.2,203.2 53.5,209.1 53.8,205.1 54.1,206.8 54.4,206.0 54.7,206.2 55.0,208.6 55.3,206.6 55.6,200.3 55.8,213.9 56.1,206.6 56.4,205.4 56.7,210.1 57.0,211.2 57.3,199.9 57.6,208.0 57.9,200.1 58.2,205.1 58.4,206.5 58.7,205.3 59.0,204.8 59.3,203.0 59.6,205.4 59.9,206.3 60.2,206.2 60.5,202.5 60.8,204.2 61.1,210.0 61.3,208.8 61.6,205.8 61.9,208.8 62.2,208.0 62.5,209.9 62.8,207.7 63.1,205.5 63.4,203.6 63.7,206.8 63.9,200.2 64.2,207.1 64.5,196.6 64.8,203.6 65.1,205.2 65.4,208.4 65.7,215.9 66.0,207.3 66.3,206.3 66.6,200.7 66.8,211.3 67.1,200.8 67.4,207.6 67.7,204.5 68.0,215.0 68.3,206.4 68.6,207.9 68.9,204.7 69.2,206.6 69.4,210.5 69.7,203.8 70.0,204.6 70.3,204.9 70.6,203.6 70.9,203.3 71.2,206.9 71.5,211.2 71.8,211.3 72.1,202.5 72.3,204.6 72.6,206.5 72.9,208.2 73.2,206.8 73.5,206.8 73.8,207.9 74.1,209.1 74.4,199.9 74.7,206.1 75.0,208.8 75.2,211.0 75.5,209.2 75.8,204.6 76.1,204.4 76.4,207.6 76.7,206.7 77.0,207.8 77.3,210.4 77.6,202.7 77.8,205.7 78.1,198.9 78.4,209.3 78.7,207.3 79.0,204.0 79.3,207.6 79.6,211.3 79.9,209.9 80.2,206.5 80.5,205.7 80.7,207.1 81.0,203.6 81.3,203.7 81.6,205.8 81.9,206.7 82.2,207.6 82.5,205.1 82.8,203.9 83.1,206.6 83.3,205.4 83.6,207.9 83.9,211.3 84.2,210.0 84.5,204.4 84.8,205.4 85.1,201.7 85.4,206.6 85.7,204.0 86.0,202.6 86.2,203.6 86.5,208.7 86.8,207.4 87.1,206.4 87.4,209.9 87.7,205.3 88.0,203.5 88.3,208.3 88.6,200.4 88.8,207.7 89.1,207.4 89.4,207.5 89.7,209.0 90.0,205.4 90.3,206.7 90.6,201.4 90.9,204.8 91.2,205.0 91.5,207.4 91.7,211.2 92.0,207.0 92.3,209.4 92.6,203.6 92.9,206.8 93.2,201.3 93.5,204.3 93.8,204.0 94.1,205.9 94.3,206.0 94.6,204.5 94.9,203.7 95.2,208.9 95.5,205.0 95.8,198.2 96.1,206.9 96.4,207.4 96.7,208.8 97.0,211.2 97.2,202.7 97.5,206.3 97.8,205.6 98.1,200.6 98.4,198.4 98.7,209.4 99.0,203.1 99.3,204.5 99.6,205.2 99.8,204.9 100.1,206.5 100.4,201.3 100.7,204.4 101.0,205.3 101.3,202.4 101.6,203.5 101.9,204.9 102.2,205.3 102.5,200.6 102.7,204.7 103.0,206.6 103.3,209.0 103.6,207.4 103.9,209.6 104.2,205.9 104.5,205.4 104.8,212.8 105.1,206.1 105.3,204.1 105.6,205.6 105.9,209.2 106.2,202.0 106.5,208.4 106.8,210.1 107.1,209.6 107.4,206.1 107.7,202.8 108.0,202.2 108.2,205.3 108.5,209.8 108.8,208.1 109.1,208.8 109.4,206.5 109.7,211.7 110.0,205.5 110.3,203.7 110.6,206.3 110.8,204.3 111.1,208.8 111.4,210.5 111.7,207.8 112.0,201.9 112.3,202.3 112.6,207.2 112.9,201.7 113.2,206.7 113.5,200.6 113.7,204.0 114.0,207.0 114.3,202.9 114.6,208.0 114.9,208.5 115.2,210.2 115.5,204.6 115.8,205.6 116.1,205.6 116.3,206.7 116.6,200.6 116.9,206.7 117.2,207.6 117.5,201.1 117.8,200.5 118.1,204.0 118.4,210.9 118.7,207.1 119.0,203.0 119.2,205.0 119.5,199.8 119.8,209.5 120.1,202.7 120.4,207.0 120.7,200.4 121.0,205.1 121.3,201.3 121.6,206.9 121.8,209.4 122.1,208.4 122.4,206.7 122.7,208.0 123.0,200.5 123.3,200.0 123.6,203.6 123.9,207.9 124.2,204.8 124.5,206.7 124.7,199.4 125.0,203.2 125.3,202.6 125.6,205.5 125.9,210.9 126.2,206.7 126.5,207.8 126.8,202.8 127.1,203.7 127.3,206.7 127.6,205.2 127.9,198.6 128.2,207.1 128.5,206.9 128.8,204.5 129.1,206.1 129.4,205.1 129.7,201.8 130.0,197.6 130.2,209.6 130.5,203.5 130.8,203.3 131.1,203.6 131.4,203.9 131.7,204.4 132.0,199.8 132.3,204.7 132.6,203.5 132.9,203.1 133.1,202.6 133.4,203.5 133.7,199.5 134.0,202.9 134.3,202.2 134.6,202.9 134.9,206.2 135.2,205.5 135.5,206.2 135.7,201.9 136.0,204.9 136.3,206.1 136.6,201.5 136.9,200.5 137.2,208.4 137.5,196.3 137.8,202.0 138.1,202.4 138.4,198.3 138.6,201.7 138.9,204.0 139.2,194.2 139.5,205.6 139.8,202.1 140.1,198.7 140.4,205.4 140.7,201.9 141.0,200.1 141.2,193.0 141.5,204.5 141.8,201.5 142.1,198.9 142.4,200.9 142.7,205.4 143.0,199.6 143.3,200.6 143.6,199.4 143.9,196.9 144.1,197.2 144.4,199.3 144.7,199.6 145.0,204.6 145.3,201.0 145.6,199.7 145.9,201.9 146.2,200.0 146.5,203.3 146.7,194.7 147.0,192.4 147.3,201.5 147.6,198.6 147.9,200.8 148.2,195.4 148.5,198.3 148.8,199.5 149.1,200.5 149.4,199.2 149.6,203.2 149.9,197.1 150.2,202.1 150.5,197.4 150.8,198.9 151.1,195.3 151.4,199.3 151.7,195.4 152.0,202.4 152.2,196.8 152.5,199.8 152.8,198.1 153.1,198.5 153.4,195.3 153.7,206.1 154.0,197.4 154.3,204.1 154.6,194.0 154.9,205.7 155.1,202.0 155.4,204.5 155.7,192.1 156.0,202.9 156.3,197.6 156.6,200.0 156.9,204.6 157.2,199.1 157.5,195.3 157.7,198.4 158.0,194.1 158.3,199.0 158.6,197.5 158.9,198.9 159.2,196.1 159.5,190.2 159.8,195.9 160.1,196.5 160.4,199.5 160.6,199.9 160.9,191.5 161.2,201.2 161.5,200.3 161.8,197.2 162.1,198.4 162.4,189.3 162.7,205.6 163.0,195.2 163.2,193.8 163.5,200.7 163.8,198.9 164.1,194.7 164.4,190.0 164.7,199.7 165.0,202.2 165.3,192.4 165.6,190.2 165.9,197.3 166.1,204.4 166.4,190.3 166.7,196.6 167.0,191.4 167.3,195.9 167.6,197.1 167.9,197.3 168.2,189.8 168.5,189.9 168.7,203.7 169.0,199.0 169.3,188.4 169.6,196.7 169.9,200.5 170.2,195.1 170.5,195.5 170.8,195.4 171.1,196.9 171.4,196.2 171.6,196.7 171.9,193.5 172.2,198.0 172.5,195.9 172.8,195.3 173.1,189.6 173.4,193.2 173.7,195.0 174.0,192.4 174.2,192.9 174.5,190.2 174.8,192.4 175.1,187.3 175.4,189.0 175.7,194.4 176.0,195.9 176.3,190.7 176.6,192.1 176.9,194.5 177.1,199.9 177.4,201.3 177.7,192.6 178.0,190.9 178.3,190.8 178.6,199.0 178.9,189.8 179.2,195.9 179.5,192.3 179.7,192.1 180.0,196.9 180.3,196.1 180.6,201.9 180.9,197.3 181.2,200.8 181.5,191.9 181.8,193.3 182.1,189.9 182.4,192.1 182.6,196.0 182.9,192.1 183.2,195.0 183.5,191.0 183.8,192.2 184.1,197.3 184.4,193.4 184.7,193.2 185.0,194.6 185.2,189.8 185.5,186.5 185.8,194.8 186.1,194.7 186.4,202.2 186.7,193.8 187.0,195.0 187.3,201.9 187.6,192.1 187.9,190.9 188.1,196.2 188.4,194.7 188.7,197.1 189.0,190.2 189.3,199.3 189.6,194.5 189.9,185.5 190.2,193.0 190.5,191.4 190.8,193.8 191.0,197.9 191.3,193.4 191.6,191.6 191.9,197.3 192.2,191.9 192.5,188.3 192.8,189.0 193.1,199.6 193.4,197.2 193.6,199.7 193.9,189.0 194.2,190.9 194.5,190.5 194.8,196.8 195.1,198.0 195.4,193.1 195.7,193.0 196.0,196.8 196.3,192.9 196.5,190.9 196.8,192.6 197.1,197.6 197.4,201.9 197.7,194.6 198.0,192.9 198.3,194.6 198.6,195.3 198.9,196.4 199.1,190.8 199.4,193.9 199.7,193.2 200.0,197.6 200.3,196.2 200.6,193.2 200.9,197.8 201.2,198.8 201.5,195.2 201.8,189.2 202.0,193.2 202.3,188.3 202.6,194.6 202.9,195.3 203.2,199.6 203.5,196.4 203.8,188.6 204.1,192.9 204.4,191.4 204.6,191.5 204.9,194.4 205.2,195.2 205.5,194.0 205.8,191.9 206.1,192.7 206.4,192.7 206.7,194.0 207.0,197.7 207.3,195.7 207.5,198.4 207.8,190.9 208.1,203.1 208.4,195.8 208.7,185.7 209.0,196.3 209.3,199.5 209.6,195.2 209.9,190.2 210.1,195.9 210.4,192.9 210.7,195.0 211.0,196.8 211.3,183.3 211.6,195.2 211.9,197.6 212.2,197.5 212.5,194.2 212.8,194.2 213.0,192.8 213.3,195.3 213.6,201.4 213.9,193.9 214.2,197.2 214.5,197.2 214.8,201.8 215.1,198.4 215.4,199.1 215.6,196.5 215.9,202.0 216.2,196.3 216.5,196.1 216.8,200.9 217.1,199.0 217.4,200.0 217.7,193.4 218.0,206.4 218.3,198.2 218.5,203.3 218.8,198.7 219.1,193.9 219.4,199.6 219.7,196.8 220.0,200.5 220.3,190.1 220.6,194.1 220.9,193.3 221.1,202.6 221.4,201.8 221.7,193.7 222.0,198.6 222.3,198.9 222.6,196.7 222.9,202.7 223.2,195.2 223.5,198.1 223.8,196.5 224.0,200.8 224.3,196.5 224.6,201.1 224.9,195.0 225.2,194.4 225.5,195.3 225.8,196.9 226.1,196.5 226.4,208.8 226.6,195.9 226.9,200.1 227.2,198.8 227.5,200.2 227.8,204.3 228.1,201.3 228.4,197.0 228.7,194.3 229.0,201.8 229.3,202.9 229.5,194.4 229.8,203.0 230.1,192.3 230.4,199.7 230.7,203.2 231.0,196.5 231.3,194.0 231.6,205.4 231.9,194.7 232.1,201.4 232.4,195.1 232.7,201.9 233.0,206.2 233.3,198.8 233.6,197.4 233.9,193.3 234.2,194.7 234.5,198.4 234.8,201.8 235.0,202.9 235.3,202.2 235.6,204.1 235.9,202.2 236.2,210.3 236.5,200.8 236.8,201.6 237.1,192.5 237.4,199.0 237.6,203.4 237.9,199.8 238.2,206.1 238.5,204.0 238.8,208.5 239.1,197.0 239.4,200.0 239.7,206.3 240.0,202.4 240.3,199.0 240.5,200.6 240.8,201.1 241.1,205.5 241.4,204.8 241.7,202.3 242.0,199.5 242.3,205.6 242.6,206.7 242.9,199.0 243.1,206.2 243.4,199.3 243.7,202.2 244.0,200.1 244.3,197.2 244.6,200.9 244.9,200.7 245.2,206.5 245.5,205.8 245.8,201.3 246.0,198.4 246.3,198.9 246.6,195.8 246.9,202.7 247.2,203.1 247.5,200.5 247.8,203.9 248.1,204.2 248.4,207.6 248.7,200.8 248.9,207.8 249.2,202.5 249.5,209.0 249.8,200.7 250.1,207.8 250.4,201.6 250.7,209.8 251.0,206.0 251.3,200.7 251.5,207.3 251.8,204.5 252.1,206.4 252.4,212.5 252.7,203.8 253.0,203.5 253.3,208.6 253.6,203.1 253.9,207.7 254.2,208.4 254.4,205.2 254.7,207.5 255.0,197.7 255.3,210.4 255.6,202.9 255.9,202.2 256.2,212.0 256.5,211.2 256.8,203.7 257.0,207.2 257.3,204.4 257.6,202.0 257.9,207.0 258.2,209.3 258.5,214.7 258.8,205.2 259.1,208.9 259.4,204.9 259.7,205.3 259.9,210.5 260.2,200.5 260.5,202.6 260.8,203.4 261.1,210.0 261.4,207.6 261.7,208.1 262.0,207.7 262.3,210.0 262.5,205.0 262.8,205.7 263.1,205.3 263.4,208.2 263.7,202.4 264.0,206.0 264.3,215.4 264.6,208.7 264.9,206.9 265.2,203.7 265.4,207.7 265.7,207.6 266.0,209.0 266.3,204.8 266.6,208.3 266.9,208.9 267.2,209.4 267.5,205.2 267.8,208.7 268.0,212.4 268.3,205.1 268.6,209.4 268.9,206.0 269.2,206.0 269.5,203.4 269.8,204.0 270.1,209.1 270.4,207.9 270.7,211.4 270.9,202.1 271.2,206.0 271.5,203.0 271.8,208.5 272.1,214.0 272.4,202.7 272.7,207.3 273.0,207.2 273.3,207.4 273.5,205.6 273.8,206.0 274.1,212.7 274.4,204.3 274.7,209.4 275.0,209.2 275.3,202.4 275.6,204.9 275.9,208.9 276.2,213.7 276.4,207.4 276.7,206.2 277.0,208.2 277.3,211.8 277.6,210.4 277.9,211.9 278.2,207.3 278.5,205.5 278.8,204.8 279.0,210.3 279.3,207.4 279.6,206.4 279.9,209.7 280.2,208.6 280.5,201.6 280.8,207.5 281.1,205.5 281.4,209.6 281.7,208.1 281.9,213.6 282.2,208.3 282.5,204.6 282.8,201.8 283.1,204.6 283.4,206.2 283.7,208.2 284.0,210.2 284.3,208.9 284.5,206.5 284.8,210.8 285.1,205.6 285.4,211.5 285.7,214.0 286.0,211.6 286.3,213.6 286.6,212.7 286.9,205.0 287.2,209.2 287.4,207.9 287.7,205.0 288.0,204.7 288.3,210.2 288.6,204.5 288.9,207.4 289.2,208.6 289.5,207.3 289.8,213.0 290.0,211.1 290.3,209.0 290.6,206.8 290.9,209.9 291.2,209.1 291.5,205.8 291.8,204.4 292.1,206.4 292.4,204.9 292.7,210.0 292.9,209.7 293.2,207.8 293.5,209.7 293.8,210.4 294.1,203.8 294.4,209.5 294.7,211.8 295.0,207.4 295.3,203.3 295.5,208.6 295.8,205.1 296.1,210.2 296.4,210.4 296.7,211.0 297.0,209.4 297.3,203.3 297.6,212.5 297.9,204.0 298.2,212.0 298.4,209.7 298.7,206.4 299.0,207.1 299.3,208.1 299.6,214.0 299.9,207.9 300.2,212.1 300.5,201.2 300.8,209.7 301.0,208.5 301.3,212.5 301.6,210.5 301.9,213.0 302.2,206.1 302.5,209.9 302.8,207.4 303.1,211.2 303.4,210.6 303.7,205.2 303.9,212.1 304.2,214.6 304.5,207.9 304.8,212.6 305.1,210.5 305.4,206.4 305.7,211.6 306.0,206.5 306.3,211.2 306.6,204.6 306.8,205.1 307.1,210.6 307.4,209.8 307.7,211.7 308.0,208.6 308.3,205.7 308.6,213.6 308.9,206.4 309.2,213.2 309.4,211.8 309.7,214.7 310.0,202.8 310.3,209.1 310.6,208.5 310.9,211.3 311.2,206.0 311.5,215.7 311.8,209.2 312.1,202.6 312.3,210.4 312.6,209.2 312.9,207.3 313.2,211.8 313.5,209.2 313.8,206.4 314.1,208.7 314.4,208.2 314.7,210.4 314.9,208.4 315.2,209.2 315.5,204.9 315.8,207.1 316.1,210.1 316.4,216.8 316.7,207.2 317.0,207.1 317.3,212.1 317.6,215.4 317.8,212.8 318.1,206.6 318.4,212.6 318.7,210.8 319.0,208.7 319.3,205.7 319.6,209.4 319.9,209.7 320.2,211.1 320.4,204.5 320.7,206.2 321.0,209.7 321.3,213.6 321.6,211.8 321.9,207.7 322.2,211.6 322.5,206.7 322.8,208.3 323.1,208.6 323.3,207.5 323.6,207.9 323.9,212.0 324.2,210.4 324.5,202.4 324.8,213.1 325.1,210.9 325.4,206.3 325.7,210.0 325.9,211.9 326.2,213.5 326.5,207.9 326.8,206.4 327.1,205.3 327.4,209.3 327.7,206.3 328.0,212.6 328.3,209.0 328.6,211.6 328.8,209.0 329.1,207.2 329.4,206.3 329.7,212.5 330.0,205.7"/><path fill="#40c8f8" d="M39.30 209.03h2.4v2.4h-2.4zM39.59 202.24h2.4v2.4h-2.4zM39.88 207.96h2.4v2.4h-2.4zM40.17 209.09h2.4v2.4h-2.4zM40.46 207.40h2.4v2.4h-2.4zM40.75 205.80h2.4v2.4h-2.4zM41.04 203.16h2.4v2.4h-2.4zM41.33 203.45h2.4v2.4h-2.4zM41.62 205.53h2.4v2.4h-2.4zM41.91 202.47h2.4v2.4h-2.4zM42.19 205.20h2.4v2.4h-2.4zM42.48 202.59h2.4v2.4h-2.4zM42.77 209.97h2.4v2.4h-2.4zM43.06 210.52h2.4v2.4h-2.4zM43.35 202.99h2.4v2.4h-2.4zM43.64 209.94h2.4v2.4h-2.4zM43.93 206.45h2.4v2.4h-2.4zM44.22 205.80h2.4v2.4h-2.4zM44.51 207.05h2.4v2.4h-2.4zM44.80 206.94h2.4v2.4h-2.4zM45.09 201.03h2.4v2.4h-2.4zM45.38 213.60h2.4v2.4h-2.4zM45.67 202.66h2.4v2.4h-2.4zM45.96 198.14h2.4v2.4h-2.4zM46.25 205.43h2.4v2.4h-2.4zM46.54 205.56h2.4v2.4h-2.4zM46.83 203.18h2.4v2.4h-2.4zM47.12 199.65h2.4v2.4h-2.4zM47.41 209.32h2.4v2.4h-2.4zM47.70 205.23h2.4v2.4h-2.4zM47.98 206.11h2.4v2.4h-2.4zM48.27 203.73h2.4v2.4h-2.4zM48.56 205.01h2.4v2.4h-2.4zM48.85 203.41h2.4v2.4h-2.4zM49.14 206.88h2.4v2.4h-2.4zM49.43 205.37h2.4v2.4h-2.4zM49.72 207.68h2.4v2.4h-2.4zM50.01 207.66h2.4v2.4h-2.4zM50.30 205.99h2.4v2.4h-2.4zM50.59 205.99h2.4v2.4h-2.4zM50.88 209.30h2.4v2.4h-2.4zM51.17 200.52h2.4v2.4h-2.4zM51.46 205.98h2.4v2.4h-2.4zM51.75 209.98h2.4v2.4h-2.4zM52.04 202.02h2.4v2.4h-2.4zM52.33 207.95h2.4v2.4h-2.4zM52.62 203.93h2.4v2.4h-2.4zM52.91 205.61h2.4v2.4h-2.4zM53.20 204.76h2.4v2.4h-2.4zM53.49 205.02h2.4v2.4h-2.4zM53.77 207.41h2.4v2.4h-2.4zM54.06 205.44h2.4v2.4h-2.4zM54.35 199.06h2.4v2.4h-2.4zM54.64 212.73h2.4v2.4h-2.4zM54.93 205.36h2.4v2.4h-2.4zM55.22 204.18h2.4v2.4h-2.4zM55.51 208.95h2.4v2.4h-2.4zM55.80 209.97h2.4v2.4h-2.4zM56.09 198.67h2.4v2.4h-2.4zM56.38 206.77h2.4v2.4h-2.4zM56.67 198.94h2.4v2.4h-2.4zM56.96 203.88h2.4v2.4h-2.4zM57.25 205.35h2.4v2.4h-2.4zM57.54 204.07h2.4v2.4h-2.4zM57.83 203.56h2.4v2.4h-2.4zM58.12 201.82h2.4v2.4h-2.4zM58.41 204.21h2.4v2.4h-2.4zM58.70 205.14h2.4v2.4h-2.4zM58.99 205.04h2.4v2.4h-2.4zM59.28 201.28h2.4v2.4h-2.4zM59.56 202.99h2.4v2.4h-2.4zM59.85 208.81h2.4v2.4h-2.4zM60.14 207.64h2.4v2.4h-2.4zM60.43 204.56h2.4v2.4h-2.4zM60.72 207.61h2.4v2.4h-2.4zM61.01 206.82h2.4v2.4h-2.4zM61.30 208.68h2.4v2.4h-2.4zM61.59 206.46h2.4v2.4h-2.4zM61.88 204.27h2.4v2.4h-2.4zM62.17 202.44h2.4v2.4h-2.4zM62.46 205.60h2.4v2.4h-2.4zM62.75 198.99h2.4v2.4h-2.4zM63.04 205.87h2.4v2.4h-2.4zM63.33 195.42h2.4v2.4h-2.4zM63.62 202.43h2.4v2.4h-2.4zM63.91 204.05h2.4v2.4h-2.4zM64.20 207.23h2.4v2.4h-2.4zM64.49 214.66h2.4v2.4h-2.4zM64.78 206.13h2.4v2.4h-2.4zM65.07 205.07h2.4v2.4h-2.4zM65.35 199.50h2.4v2.4h-2.4zM65.64 210.05h2.4v2.4h-2.4zM65.93 199.55h2.4v2.4h-2.4zM66.22 206.45h2.4v2.4h-2.4zM66.51 203.33h2.4v2.4h-2.4zM66.80 213.76h2.4v2.4h-2.4zM67.09 205.20h2.4v2.4h-2.4zM67.38 206.75h2.4v2.4h-2.4zM67.67 203.47h2.4v2.4h-2.4zM67.96 205.36h2.4v2.4h-2.4zM68.25 209.30h2.4v2.4h-2.4zM68.54 202.63h2.4v2.4h-2.4zM68.83 203.43h2.4v2.4h-2.4zM69.12 203.75h2.4v2.4h-2.4zM69.41 202.43h2.4v2.4h-2.4zM69.70 202.14h2.4v2.4h-2.4zM69.99 205.73h2.4v2.4h-2.4zM70.28 209.99h2.4v2.4h-2.4zM70.57 210.08h2.4v2.4h-2.4zM70.86 201.34h2.4v2.4h-2.4zM71.14 203.39h2.4v2.4h-2.4zM71.43 205.33h2.4v2.4h-2.4zM71.72 207.05h2.4v2.4h-2.4zM72.01 205.56h2.4v2.4h-2.4zM72.30 205.58h2.4v2.4h-2.4zM72.59 206.74h2.4v2.4h-2.4zM72.88 207.89h2.4v2.4h-2.4zM73.17 198.74h2.4v2.4h-2.4zM73.46 204.93h2.4v2.4h-2.4zM73.75 207.59h2.4v2.4h-2.4zM74.04 209.82h2.4v2.4h-2.4zM74.33 207.98h2.4v2.4h-2.4zM74.62 203.36h2.4v2.4h-2.4zM74.91 203.23h2.4v2.4h-2.4zM75.20 206.36h2.4v2.4h-2.4zM75.49 205.49h2.4v2.4h-2.4zM75.78 206.63h2.4v2.4h-2.4zM76.07 209.20h2.4v2.4h-2.4zM76.36 201.50h2.4v2.4h-2.4zM76.65 204.46h2.4v2.4h-2.4zM76.93 197.74h2.4v2.4h-2.4zM77.22 208.07h2.4v2.4h-2.4zM77.51 206.09h2.4v2.4h-2.4zM77.80 202.83h2.4v2.4h-2.4zM78.09 206.43h2.4v2.4h-2.4zM78.38 210.08h2.4v2.4h-2.4zM78.67 208.68h2.4v2.4h-2.4zM78.96 205.32h2.4v2.4h-2.4zM79.25 204.55h2.4v2.4h-2.4zM79.54 205.94h2.4v2.4h-2.4zM79.83 202.43h2.4v2.4h-2.4zM80.12 202.46h2.4v2.4h-2.4zM80.41 204.60h2.4v2.4h-2.4zM80.70 205.55h2.4v2.4h-2.4zM80.99 206.44h2.4v2.4h-2.4zM81.28 203.87h2.4v2.4h-2.4zM81.57 202.69h2.4v2.4h-2.4zM81.86 205.43h2.4v2.4h-2.4zM82.15 204.18h2.4v2.4h-2.4zM82.44 206.66h2.4v2.4h-2.4zM82.72 210.13h2.4v2.4h-2.4zM83.01 208.82h2.4v2.4h-2.4zM83.30 203.16h2.4v2.4h-2.4zM83.59 204.18h2.4v2.4h-2.4zM83.88 200.52h2.4v2.4h-2.4zM84.17 205.42h2.4v2.4h-2.4zM84.46 202.83h2.4v2.4h-2.4zM84.75 201.36h2.4v2.4h-2.4zM85.04 202.41h2.4v2.4h-2.4zM85.33 207.53h2.4v2.4h-2.4zM85.62 206.17h2.4v2.4h-2.4zM85.91 205.16h2.4v2.4h-2.4zM86.20 208.73h2.4v2.4h-2.4zM86.49 204.05h2.4v2.4h-2.4zM86.78 202.29h2.4v2.4h-2.4zM87.07 207.10h2.4v2.4h-2.4zM87.36 199.24h2.4v2.4h-2.4zM87.65 206.48h2.4v2.4h-2.4zM87.94 206.20h2.4v2.4h-2.4zM88.23 206.31h2.4v2.4h-2.4zM88.51 207.81h2.4v2.4h-2.4zM88.80 204.19h2.4v2.4h-2.4zM89.09 205.46h2.4v2.4h-2.4zM89.38 200.20h2.4v2.4h-2.4zM89.67 203.57h2.4v2.4h-2.4zM89.96 203.79h2.4v2.4h-2.4zM90.25 206.21h2.4v2.4h-2.4zM90.54 210.03h2.4v2.4h-2.4zM90.83 205.78h2.4v2.4h-2.4zM91.12 208.21h2.4v2.4h-2.4zM91.41 202.42h2.4v2.4h-2.4zM91.70 205.57h2.4v2.4h-2.4zM91.99 200.12h2.4v2.4h-2.4zM92.28 203.10h2.4v2.4h-2.4zM92.57 202.77h2.4v2.4h-2.4zM92.86 204.70h2.4v2.4h-2.4zM93.15 204.76h2.4v2.4h-2.4zM93.44 203.33h2.4v2.4h-2.4zM93.73 202.45h2.4v2.4h-2.4zM94.02 207.69h2.4v2.4h-2.4zM94.30 203.82h2.4v2.4h-2.4zM94.59 196.97h2.4v2.4h-2.4zM94.88 205.67h2.4v2.4h-2.4zM95.17 206.19h2.4v2.4h-2.4zM95.46 207.59h2.4v2.4h-2.4zM95.75 210.01h2.4v2.4h-2.4zM96.04 201.52h2.4v2.4h-2.4zM96.33 205.14h2.4v2.4h-2.4zM96.62 204.36h2.4v2.4h-2.4zM96.91 199.38h2.4v2.4h-2.4zM97.20 197.23h2.4v2.4h-2.4zM97.49 208.15h2.4v2.4h-2.4zM97.78 201.88h2.4v2.4h-2.4zM98.07 203.26h2.4v2.4h-2.4zM98.36 203.97h2.4v2.4h-2.4zM98.65 203.70h2.4v2.4h-2.4zM98.94 205.30h2.4v2.4h-2.4zM99.23 200.09h2.4v2.4h-2.4zM99.52 203.22h2.4v2.4h-2.4zM99.81 204.08h2.4v2.4h-2.4zM100.09 201.15h2.4v2.4h-2.4zM100.38 202.27h2.4v2.4h-2.4zM100.67 203.66h2.4v2.4h-2.4zM100.96 204.08h2.4v2.4h-2.4zM101.25 199.45h2.4v2.4h-2.4zM101.54 203.46h2.4v2.4h-2.4zM101.83 205.38h2.4v2.4h-2.4zM102.12 207.85h2.4v2.4h-2.4zM102.41 206.17h2.4v2.4h-2.4zM102.70 208.44h2.4v2.4h-2.4zM102.99 204.68h2.4v2.4h-2.4zM103.28 204.18h2.4v2.4h-2.4zM103.57 211.64h2.4v2.4h-2.4zM103.86 204.92h2.4v2.4h-2.4zM104.15 202.86h2.4v2.4h-2.4zM104.44 204.41h2.4v2.4h-2.4zM104.73 208.03h2.4v2.4h-2.4zM105.02 200.80h2.4v2.4h-2.4zM105.31 207.16h2.4v2.4h-2.4zM105.60 208.87h2.4v2.4h-2.4zM105.88 208.37h2.4v2.4h-2.4zM106.17 204.89h2.4v2.4h-2.4zM106.46 201.63h2.4v2.4h-2.4zM106.75 201.02h2.4v2.4h-2.4zM107.04 204.11h2.4v2.4h-2.4zM107.33 208.65h2.4v2.4h-2.4zM107.62 206.88h2.4v2.4h-2.4zM107.91 207.65h2.4v2.4h-2.4zM108.20 205.29h2.4v2.4h-2.4zM108.49 210.47h2.4v2.4h-2.4zM108.78 204.30h2.4v2.4h-2.4zM109.07 202.54h2.4v2.4h-2.4zM109.36 205.11h2.4v2.4h-2.4zM109.65 203.10h2.4v2.4h-2.4zM109.94 207.64h2.4v2.4h-2.4zM110.23 209.31h2.4v2.4h-2.4zM110.52 206.62h2.4v2.4h-2.4zM110.81 200.73h2.4v2.4h-2.4zM111.10 201.12h2.4v2.4h-2.4zM111.39 205.96h2.4v2.4h-2.4zM111.67 200.50h2.4v2.4h-2.4zM111.96 205.48h2.4v2.4h-2.4zM112.25 199.44h2.4v2.4h-2.4zM112.54 202.78h2.4v2.4h-2.4zM112.83 205.82h2.4v2.4h-2.4zM113.12 201.70h2.4v2.4h-2.4zM113.41 206.83h2.4v2.4h-2.4zM113.70 207.33h2.4v2.4h-2.4zM113.99 209.00h2.4v2.4h-2.4zM114.28 203.36h2.4v2.4h-2.4zM114.57 204.35h2.4v2.4h-2.4zM114.86 204.40h2.4v2.4h-2.4zM115.15 205.47h2.4v2.4h-2.4zM115.44 199.35h2.4v2.4h-2.4zM115.73 205.46h2.4v2.4h-2.4zM116.02 206.42h2.4v2.4h-2.4zM116.31 199.89h2.4v2.4h-2.4zM116.60 199.28h2.4v2.4h-2.4zM116.89 202.82h2.4v2.4h-2.4zM117.18 209.66h2.4v2.4h-2.4zM117.46 205.86h2.4v2.4h-2.4zM117.75 201.82h2.4v2.4h-2.4zM118.04 203.75h2.4v2.4h-2.4zM118.33 198.63h2.4v2.4h-2.4zM118.62 208.28h2.4v2.4h-2.4zM118.91 201.46h2.4v2.4h-2.4zM119.20 205.76h2.4v2.4h-2.4zM119.49 199.25h2.4v2.4h-2.4zM119.78 203.86h2.4v2.4h-2.4zM120.07 200.15h2.4v2.4h-2.4zM120.36 205.70h2.4v2.4h-2.4zM120.65 208.20h2.4v2.4h-2.4zM120.94 207.17h2.4v2.4h-2.4zM121.23 205.46h2.4v2.4h-2.4zM121.52 206.82h2.4v2.4h-2.4zM121.81 199.35h2.4v2.4h-2.4zM122.10 198.84h2.4v2.4h-2.4zM122.39 202.37h2.4v2.4h-2.4zM122.68 206.71h2.4v2.4h-2.4zM122.97 203.60h2.4v2.4h-2.4zM123.25 205.46h2.4v2.4h-2.4zM123.54 198.25h2.4v2.4h-2.4zM123.83 202.02h2.4v2.4h-2.4zM124.12 201.40h2.4v2.4h-2.4zM124.41 204.35h2.4v2.4h-2.4zM124.70 209.73h2.4v2.4h-2.4zM124.99 205.52h2.4v2.4h-2.4zM125.28 206.64h2.4v2.4h-2.4zM125.57 201.59h2.4v2.4h-2.4zM125.86 202.47h2.4v2.4h-2.4zM126.15 205.46h2.4v2.4h-2.4zM126.44 204.02h2.4v2.4h-2.4zM126.73 197.36h2.4v2.4h-2.4zM127.02 205.87h2.4v2.4h-2.4zM127.31 205.68h2.4v2.4h-2.4zM127.60 203.30h2.4v2.4h-2.4zM127.89 204.86h2.4v2.4h-2.4zM128.18 203.89h2.4v2.4h-2.4zM128.47 200.58h2.4v2.4h-2.4zM128.76 196.45h2.4v2.4h-2.4zM129.04 208.36h2.4v2.4h-2.4zM129.33 202.31h2.4v2.4h-2.4zM129.62 202.06h2.4v2.4h-2.4zM129.91 202.44h2.4v2.4h-2.4zM130.20 202.74h2.4v2.4h-2.4zM130.49 203.22h2.4v2.4h-2.4zM130.78 198.57h2.4v2.4h-2.4zM131.07 203.55h2.4v2.4h-2.4zM131.36 202.34h2.4v2.4h-2.4zM131.65 201.85h2.4v2.4h-2.4zM131.94 201.43h2.4v2.4h-2.4zM132.23 202.34h2.4v2.4h-2.4zM132.52 198.26h2.4v2.4h-2.4zM132.81 201.68h2.4v2.4h-2.4zM133.10 200.99h2.4v2.4h-2.4zM133.39 201.72h2.4v2.4h-2.4zM133.68 204.95h2.4v2.4h-2.4zM133.97 204.31h2.4v2.4h-2.4zM134.26 205.02h2.4v2.4h-2.4zM134.55 200.66h2.4v2.4h-2.4zM134.83 203.75h2.4v2.4h-2.4zM135.12 204.90h2.4v2.4h-2.4zM135.41 200.34h2.4v2.4h-2.4zM135.70 199.28h2.4v2.4h-2.4zM135.99 207.18h2.4v2.4h-2.4zM136.28 195.11h2.4v2.4h-2.4zM136.57 200.83h2.4v2.4h-2.4zM136.86 201.25h2.4v2.4h-2.4zM137.15 197.10h2.4v2.4h-2.4zM137.44 200.52h2.4v2.4h-2.4zM137.73 202.82h2.4v2.4h-2.4zM138.02 192.96h2.4v2.4h-2.4zM138.31 204.36h2.4v2.4h-2.4zM138.60 200.88h2.4v2.4h-2.4zM138.89 197.50h2.4v2.4h-2.4zM139.18 204.18h2.4v2.4h-2.4zM139.47 200.72h2.4v2.4h-2.4zM139.76 198.93h2.4v2.4h-2.4zM140.05 191.76h2.4v2.4h-2.4zM140.34 203.33h2.4v2.4h-2.4zM140.62 200.28h2.4v2.4h-2.4zM140.91 197.72h2.4v2.4h-2.4zM141.20 199.70h2.4v2.4h-2.4zM141.49 204.20h2.4v2.4h-2.4zM141.78 198.42h2.4v2.4h-2.4zM142.07 199.42h2.4v2.4h-2.4zM142.36 198.16h2.4v2.4h-2.4zM142.65 195.65h2.4v2.4h-2.4zM142.94 196.01h2.4v2.4h-2.4zM143.23 198.10h2.4v2.4h-2.4zM143.52 198.38h2.4v2.4h-2.4zM143.81 203.36h2.4v2.4h-2.4zM144.10 199.85h2.4v2.4h-2.4zM144.39 198.51h2.4v2.4h-2.4zM144.68 200.68h2.4v2.4h-2.4zM144.97 198.82h2.4v2.4h-2.4zM145.26 202.08h2.4v2.4h-2.4zM145.55 193.52h2.4v2.4h-2.4zM145.84 191.23h2.4v2.4h-2.4zM146.13 200.32h2.4v2.4h-2.4zM146.41 197.40h2.4v2.4h-2.4zM146.70 199.63h2.4v2.4h-2.4zM146.99 194.15h2.4v2.4h-2.4zM147.28 197.08h2.4v2.4h-2.4zM147.57 198.31h2.4v2.4h-2.4zM147.86 199.33h2.4v2.4h-2.4zM148.15 198.00h2.4v2.4h-2.4zM148.44 202.03h2.4v2.4h-2.4zM148.73 195.87h2.4v2.4h-2.4zM149.02 200.86h2.4v2.4h-2.4zM149.31 196.24h2.4v2.4h-2.4zM149.60 197.65h2.4v2.4h-2.4zM149.89 194.06h2.4v2.4h-2.4zM150.18 198.06h2.4v2.4h-2.4zM150.47 194.18h2.4v2.4h-2.4zM150.76 201.24h2.4v2.4h-2.4zM151.05 195.56h2.4v2.4h-2.4zM151.34 198.55h2.4v2.4h-2.4zM151.63 196.95h2.4v2.4h-2.4zM151.92 197.33h2.4v2.4h-2.4zM152.20 194.08h2.4v2.4h-2.4zM152.49 204.91h2.4v2.4h-2.4zM152.78 196.20h2.4v2.4h-2.4zM153.07 202.85h2.4v2.4h-2.4zM153.36 192.80h2.4v2.4h-2.4zM153.65 204.50h2.4v2.4h-2.4zM153.94 200.85h2.4v2.4h-2.4zM154.23 203.27h2.4v2.4h-2.4zM154.52 190.90h2.4v2.4h-2.4zM154.81 201.72h2.4v2.4h-2.4zM155.10 196.44h2.4v2.4h-2.4zM155.39 198.79h2.4v2.4h-2.4zM155.68 203.44h2.4v2.4h-2.4zM155.97 197.92h2.4v2.4h-2.4zM156.26 194.12h2.4v2.4h-2.4zM156.55 197.22h2.4v2.4h-2.4zM156.84 192.94h2.4v2.4h-2.4zM157.13 197.76h2.4v2.4h-2.4zM157.42 196.31h2.4v2.4h-2.4zM157.71 197.71h2.4v2.4h-2.4zM157.99 194.91h2.4v2.4h-2.4zM158.28 189.00h2.4v2.4h-2.4zM158.57 194.71h2.4v2.4h-2.4zM158.86 195.28h2.4v2.4h-2.4zM159.15 198.28h2.4v2.4h-2.4zM159.44 198.73h2.4v2.4h-2.4zM159.73 190.28h2.4v2.4h-2.4zM160.02 199.96h2.4v2.4h-2.4zM160.31 199.15h2.4v2.4h-2.4zM160.60 196.00h2.4v2.4h-2.4zM160.89 197.18h2.4v2.4h-2.4zM161.18 188.07h2.4v2.4h-2.4zM161.47 204.43h2.4v2.4h-2.4zM161.76 194.00h2.4v2.4h-2.4zM162.05 192.60h2.4v2.4h-2.4zM162.34 199.52h2.4v2.4h-2.4zM162.63 197.65h2.4v2.4h-2.4zM162.92 193.48h2.4v2.4h-2.4zM163.21 188.85h2.4v2.4h-2.4zM163.50 198.53h2.4v2.4h-2.4zM163.78 201.00h2.4v2.4h-2.4zM164.07 191.17h2.4v2.4h-2.4zM164.36 188.99h2.4v2.4h-2.4zM164.65 196.06h2.4v2.4h-2.4zM164.94 203.22h2.4v2.4h-2.4zM165.23 189.08h2.4v2.4h-2.4zM165.52 195.37h2.4v2.4h-2.4zM165.81 190.22h2.4v2.4h-2.4zM166.10 194.66h2.4v2.4h-2.4zM166.39 195.88h2.4v2.4h-2.4zM166.68 196.12h2.4v2.4h-2.4zM166.97 188.63h2.4v2.4h-2.4zM167.26 188.72h2.4v2.4h-2.4zM167.55 202.48h2.4v2.4h-2.4zM167.84 197.78h2.4v2.4h-2.4zM168.13 187.22h2.4v2.4h-2.4zM168.42 195.47h2.4v2.4h-2.4zM168.71 199.28h2.4v2.4h-2.4zM169.00 193.93h2.4v2.4h-2.4zM169.29 194.32h2.4v2.4h-2.4zM169.57 194.22h2.4v2.4h-2.4zM169.86 195.66h2.4v2.4h-2.4zM170.15 194.95h2.4v2.4h-2.4zM170.44 195.47h2.4v2.4h-2.4zM170.73 192.35h2.4v2.4h-2.4zM171.02 196.77h2.4v2.4h-2.4zM171.31 194.68h2.4v2.4h-2.4zM171.60 194.07h2.4v2.4h-2.4zM171.89 188.36h2.4v2.4h-2.4zM172.18 191.95h2.4v2.4h-2.4zM172.47 193.80h2.4v2.4h-2.4zM172.76 191.23h2.4v2.4h-2.4zM173.05 191.69h2.4v2.4h-2.4zM173.34 188.97h2.4v2.4h-2.4zM173.63 191.21h2.4v2.4h-2.4zM173.92 186.12h2.4v2.4h-2.4zM174.21 187.83h2.4v2.4h-2.4zM174.50 193.23h2.4v2.4h-2.4zM174.79 194.66h2.4v2.4h-2.4zM175.08 189.52h2.4v2.4h-2.4zM175.36 190.92h2.4v2.4h-2.4zM175.65 193.29h2.4v2.4h-2.4zM175.94 198.69h2.4v2.4h-2.4zM176.23 200.06h2.4v2.4h-2.4zM176.52 191.43h2.4v2.4h-2.4zM176.81 189.73h2.4v2.4h-2.4zM177.10 189.57h2.4v2.4h-2.4zM177.39 197.78h2.4v2.4h-2.4zM177.68 188.58h2.4v2.4h-2.4zM177.97 194.75h2.4v2.4h-2.4zM178.26 191.07h2.4v2.4h-2.4zM178.55 190.93h2.4v2.4h-2.4zM178.84 195.72h2.4v2.4h-2.4zM179.13 194.86h2.4v2.4h-2.4zM179.42 200.70h2.4v2.4h-2.4zM179.71 196.09h2.4v2.4h-2.4zM180.00 199.58h2.4v2.4h-2.4zM180.29 190.68h2.4v2.4h-2.4zM180.58 192.14h2.4v2.4h-2.4zM180.87 188.74h2.4v2.4h-2.4zM181.15 190.93h2.4v2.4h-2.4zM181.44 194.84h2.4v2.4h-2.4zM181.73 190.92h2.4v2.4h-2.4zM182.02 193.82h2.4v2.4h-2.4zM182.31 189.84h2.4v2.4h-2.4zM182.60 190.98h2.4v2.4h-2.4zM182.89 196.14h2.4v2.4h-2.4zM183.18 192.19h2.4v2.4h-2.4zM183.47 191.96h2.4v2.4h-2.4zM183.76 193.39h2.4v2.4h-2.4zM184.05 188.60h2.4v2.4h-2.4zM184.34 185.33h2.4v2.4h-2.4zM184.63 193.59h2.4v2.4h-2.4zM184.92 193.51h2.4v2.4h-2.4zM185.21 201.04h2.4v2.4h-2.4zM185.50 192.60h2.4v2.4h-2.4zM185.79 193.82h2.4v2.4h-2.4zM186.08 200.67h2.4v2.4h-2.4zM186.37 190.92h2.4v2.4h-2.4zM186.66 189.70h2.4v2.4h-2.4zM186.94 194.97h2.4v2.4h-2.4zM187.23 193.53h2.4v2.4h-2.4zM187.52 195.89h2.4v2.4h-2.4zM187.81 189.00h2.4v2.4h-2.4zM188.10 198.08h2.4v2.4h-2.4zM188.39 193.28h2.4v2.4h-2.4zM188.68 184.26h2.4v2.4h-2.4zM188.97 191.83h2.4v2.4h-2.4zM189.26 190.17h2.4v2.4h-2.4zM189.55 192.62h2.4v2.4h-2.4zM189.84 196.71h2.4v2.4h-2.4zM190.13 192.17h2.4v2.4h-2.4zM190.42 190.42h2.4v2.4h-2.4zM190.71 196.12h2.4v2.4h-2.4zM191.00 190.69h2.4v2.4h-2.4zM191.29 187.11h2.4v2.4h-2.4zM191.58 187.81h2.4v2.4h-2.4zM191.87 198.38h2.4v2.4h-2.4zM192.16 195.97h2.4v2.4h-2.4zM192.45 198.52h2.4v2.4h-2.4zM192.73 187.85h2.4v2.4h-2.4zM193.02 189.69h2.4v2.4h-2.4zM193.31 189.34h2.4v2.4h-2.4zM193.60 195.64h2.4v2.4h-2.4zM193.89 196.80h2.4v2.4h-2.4zM194.18 191.87h2.4v2.4h-2.4zM194.47 191.79h2.4v2.4h-2.4zM194.76 195.60h2.4v2.4h-2.4zM195.05 191.67h2.4v2.4h-2.4zM195.34 189.69h2.4v2.4h-2.4zM195.63 191.36h2.4v2.4h-2.4zM195.92 196.41h2.4v2.4h-2.4zM196.21 200.69h2.4v2.4h-2.4zM196.50 193.36h2.4v2.4h-2.4zM196.79 191.71h2.4v2.4h-2.4zM197.08 193.41h2.4v2.4h-2.4zM197.37 194.10h2.4v2.4h-2.4zM197.66 195.17h2.4v2.4h-2.4zM197.95 189.62h2.4v2.4h-2.4zM198.24 192.69h2.4v2.4h-2.4zM198.52 192.03h2.4v2.4h-2.4zM198.81 196.39h2.4v2.4h-2.4zM199.10 195.03h2.4v2.4h-2.4zM199.39 191.96h2.4v2.4h-2.4zM199.68 196.61h2.4v2.4h-2.4zM199.97 197.64h2.4v2.4h-2.4zM200.26 194.00h2.4v2.4h-2.4zM200.55 188.00h2.4v2.4h-2.4zM200.84 192.02h2.4v2.4h-2.4zM201.13 187.05h2.4v2.4h-2.4zM201.42 193.36h2.4v2.4h-2.4zM201.71 194.10h2.4v2.4h-2.4zM202.00 198.39h2.4v2.4h-2.4zM202.29 195.22h2.4v2.4h-2.4zM202.58 187.35h2.4v2.4h-2.4zM202.87 191.75h2.4v2.4h-2.4zM203.16 190.19h2.4v2.4h-2.4zM203.45 190.35h2.4v2.4h-2.4zM203.74 193.19h2.4v2.4h-2.4zM204.03 194.00h2.4v2.4h-2.4zM204.31 192.78h2.4v2.4h-2.4zM204.60 190.66h2.4v2.4h-2.4zM204.89 191.54h2.4v2.4h-2.4zM205.18 191.45h2.4v2.4h-2.4zM205.47 192.82h2.4v2.4h-2.4zM205.76 196.48h2.4v2.4h-2.4zM206.05 194.54h2.4v2.4h-2.4zM206.34 197.24h2.4v2.4h-2.4zM206.63 189.70h2.4v2.4h-2.4zM206.92 201.86h2.4v2.4h-2.4zM207.21 194.56h2.4v2.4h-2.4zM207.50 184.48h2.4v2.4h-2.4zM207.79 195.15h2.4v2.4h-2.4zM208.08 198.28h2.4v2.4h-2.4zM208.37 193.99h2.4v2.4h-2.4zM208.66 188.97h2.4v2.4h-2.4zM208.95 194.65h2.4v2.4h-2.4zM209.24 191.71h2.4v2.4h-2.4zM209.53 193.75h2.4v2.4h-2.4zM209.82 195.64h2.4v2.4h-2.4zM210.10 182.08h2.4v2.4h-2.4zM210.39 194.03h2.4v2.4h-2.4zM210.68 196.44h2.4v2.4h-2.4zM210.97 196.31h2.4v2.4h-2.4zM211.26 193.01h2.4v2.4h-2.4zM211.55 192.96h2.4v2.4h-2.4zM211.84 191.63h2.4v2.4h-2.4zM212.13 194.12h2.4v2.4h-2.4zM212.42 200.22h2.4v2.4h-2.4zM212.71 192.74h2.4v2.4h-2.4zM213.00 196.02h2.4v2.4h-2.4zM213.29 196.00h2.4v2.4h-2.4zM213.58 200.64h2.4v2.4h-2.4zM213.87 197.22h2.4v2.4h-2.4zM214.16 197.87h2.4v2.4h-2.4zM214.45 195.29h2.4v2.4h-2.4zM214.74 200.76h2.4v2.4h-2.4zM215.03 195.09h2.4v2.4h-2.4zM215.32 194.87h2.4v2.4h-2.4zM215.61 199.67h2.4v2.4h-2.4zM215.89 197.85h2.4v2.4h-2.4zM216.18 198.79h2.4v2.4h-2.4zM216.47 192.17h2.4v2.4h-2.4zM216.76 205.25h2.4v2.4h-2.4zM217.05 197.04h2.4v2.4h-2.4zM217.34 202.08h2.4v2.4h-2.4zM217.63 197.50h2.4v2.4h-2.4zM217.92 192.75h2.4v2.4h-2.4zM218.21 198.39h2.4v2.4h-2.4zM218.50 195.56h2.4v2.4h-2.4zM218.79 199.32h2.4v2.4h-2.4zM219.08 188.93h2.4v2.4h-2.4zM219.37 192.85h2.4v2.4h-2.4zM219.66 192.12h2.4v2.4h-2.4zM219.95 201.40h2.4v2.4h-2.4zM220.24 200.61h2.4v2.4h-2.4zM220.53 192.52h2.4v2.4h-2.4zM220.82 197.36h2.4v2.4h-2.4zM221.11 197.66h2.4v2.4h-2.4zM221.40 195.53h2.4v2.4h-2.4zM221.68 201.52h2.4v2.4h-2.4zM221.97 194.04h2.4v2.4h-2.4zM222.26 196.92h2.4v2.4h-2.4zM222.55 195.28h2.4v2.4h-2.4zM222.84 199.61h2.4v2.4h-2.4zM223.13 195.30h2.4v2.4h-2.4zM223.42 199.88h2.4v2.4h-2.4zM223.71 193.81h2.4v2.4h-2.4zM224.00 193.24h2.4v2.4h-2.4zM224.29 194.12h2.4v2.4h-2.4zM224.58 195.66h2.4v2.4h-2.4zM224.87 195.30h2.4v2.4h-2.4zM225.16 207.65h2.4v2.4h-2.4zM225.45 194.71h2.4v2.4h-2.4zM225.74 198.85h2.4v2.4h-2.4zM226.03 197.57h2.4v2.4h-2.4zM226.32 199.03h2.4v2.4h-2.4zM226.61 203.15h2.4v2.4h-2.4zM226.90 200.10h2.4v2.4h-2.4zM227.19 195.81h2.4v2.4h-2.4zM227.47 193.12h2.4v2.4h-2.4zM227.76 200.62h2.4v2.4h-2.4zM228.05 201.71h2.4v2.4h-2.4zM228.34 193.23h2.4v2.4h-2.4zM228.63 201.77h2.4v2.4h-2.4zM228.92 191.13h2.4v2.4h-2.4zM229.21 198.53h2.4v2.4h-2.4zM229.50 201.98h2.4v2.4h-2.4zM229.79 195.31h2.4v2.4h-2.4zM230.08 192.83h2.4v2.4h-2.4zM230.37 204.17h2.4v2.4h-2.4zM230.66 193.47h2.4v2.4h-2.4zM230.95 200.16h2.4v2.4h-2.4zM231.24 193.89h2.4v2.4h-2.4zM231.53 200.66h2.4v2.4h-2.4zM231.82 205.01h2.4v2.4h-2.4zM232.11 197.64h2.4v2.4h-2.4zM232.40 196.20h2.4v2.4h-2.4zM232.69 192.10h2.4v2.4h-2.4zM232.98 193.51h2.4v2.4h-2.4zM233.26 197.25h2.4v2.4h-2.4zM233.55 200.64h2.4v2.4h-2.4zM233.84 201.71h2.4v2.4h-2.4zM234.13 200.98h2.4v2.4h-2.4zM234.42 202.95h2.4v2.4h-2.4zM234.71 201.04h2.4v2.4h-2.4zM235.00 209.14h2.4v2.4h-2.4zM235.29 199.58h2.4v2.4h-2.4zM235.58 200.38h2.4v2.4h-2.4zM235.87 191.31h2.4v2.4h-2.4zM236.16 197.75h2.4v2.4h-2.4zM236.45 202.18h2.4v2.4h-2.4zM236.74 198.58h2.4v2.4h-2.4zM237.03 204.92h2.4v2.4h-2.4zM237.32 202.81h2.4v2.4h-2.4zM237.61 207.30h2.4v2.4h-2.4zM237.90 195.81h2.4v2.4h-2.4zM238.19 198.83h2.4v2.4h-2.4zM238.48 205.06h2.4v2.4h-2.4zM238.77 201.24h2.4v2.4h-2.4zM239.05 197.80h2.4v2.4h-2.4zM239.34 199.45h2.4v2.4h-2.4zM239.63 199.91h2.4v2.4h-2.4zM239.92 204.27h2.4v2.4h-2.4zM240.21 203.57h2.4v2.4h-2.4zM240.50 201.10h2.4v2.4h-2.4zM240.79 198.32h2.4v2.4h-2.4zM241.08 204.42h2.4v2.4h-2.4zM241.37 205.49h2.4v2.4h-2.4zM241.66 197.75h2.4v2.4h-2.4zM241.95 204.95h2.4v2.4h-2.4zM242.24 198.12h2.4v2.4h-2.4zM242.53 201.05h2.4v2.4h-2.4zM242.82 198.92h2.4v2.4h-2.4zM243.11 196.03h2.4v2.4h-2.4zM243.40 199.71h2.4v2.4h-2.4zM243.69 199.48h2.4v2.4h-2.4zM243.98 205.32h2.4v2.4h-2.4zM244.27 204.62h2.4v2.4h-2.4zM244.56 200.12h2.4v2.4h-2.4zM244.84 197.16h2.4v2.4h-2.4zM245.13 197.71h2.4v2.4h-2.4zM245.42 194.63h2.4v2.4h-2.4zM245.71 201.50h2.4v2.4h-2.4zM246.00 201.93h2.4v2.4h-2.4zM246.29 199.27h2.4v2.4h-2.4zM246.58 202.67h2.4v2.4h-2.4zM246.87 203.00h2.4v2.4h-2.4zM247.16 206.38h2.4v2.4h-2.4zM247.45 199.57h2.4v2.4h-2.4zM247.74 206.57h2.4v2.4h-2.4zM248.03 201.30h2.4v2.4h-2.4zM248.32 207.84h2.4v2.4h-2.4zM248.61 199.45h2.4v2.4h-2.4zM248.90 206.64h2.4v2.4h-2.4zM249.19 200.42h2.4v2.4h-2.4zM249.48 208.61h2.4v2.4h-2.4zM249.77 204.82h2.4v2.4h-2.4zM250.06 199.47h2.4v2.4h-2.4zM250.35 206.15h2.4v2.4h-2.4zM250.63 203.29h2.4v2.4h-2.4zM250.92 205.16h2.4v2.4h-2.4zM251.21 211.30h2.4v2.4h-2.4zM251.50 202.65h2.4v2.4h-2.4zM251.79 202.29h2.4v2.4h-2.4zM252.08 207.45h2.4v2.4h-2.4zM252.37 201.93h2.4v2.4h-2.4zM252.66 206.51h2.4v2.4h-2.4zM252.95 207.24h2.4v2.4h-2.4zM253.24 203.95h2.4v2.4h-2.4zM253.53 206.27h2.4v2.4h-2.4zM253.82 196.52h2.4v2.4h-2.4zM254.11 209.24h2.4v2.4h-2.4zM254.40 201.74h2.4v2.4h-2.4zM254.69 200.97h2.4v2.4h-2.4zM254.98 210.77h2.4v2.4h-2.4zM255.27 210.00h2.4v2.4h-2.4zM255.56 202.52h2.4v2.4h-2.4zM255.85 205.98h2.4v2.4h-2.4zM256.14 203.20h2.4v2.4h-2.4zM256.42 200.77h2.4v2.4h-2.4zM256.71 205.76h2.4v2.4h-2.4zM257.00 208.06h2.4v2.4h-2.4zM257.29 213.53h2.4v2.4h-2.4zM257.58 204.01h2.4v2.4h-2.4zM257.87 207.74h2.4v2.4h-2.4zM258.16 203.74h2.4v2.4h-2.4zM258.45 204.05h2.4v2.4h-2.4zM258.74 209.34h2.4v2.4h-2.4zM259.03 199.30h2.4v2.4h-2.4zM259.32 201.42h2.4v2.4h-2.4zM259.61 202.23h2.4v2.4h-2.4zM259.90 208.85h2.4v2.4h-2.4zM260.19 206.37h2.4v2.4h-2.4zM260.48 206.86h2.4v2.4h-2.4zM260.77 206.47h2.4v2.4h-2.4zM261.06 208.80h2.4v2.4h-2.4zM261.35 203.81h2.4v2.4h-2.4zM261.64 204.51h2.4v2.4h-2.4zM261.93 204.11h2.4v2.4h-2.4zM262.21 206.96h2.4v2.4h-2.4zM262.50 201.22h2.4v2.4h-2.4zM262.79 204.80h2.4v2.4h-2.4zM263.08 214.23h2.4v2.4h-2.4zM263.37 207.53h2.4v2.4h-2.4zM263.66 205.69h2.4v2.4h-2.4zM263.95 202.46h2.4v2.4h-2.4zM264.24 206.54h2.4v2.4h-2.4zM264.53 206.42h2.4v2.4h-2.4zM264.82 207.77h2.4v2.4h-2.4zM265.11 203.56h2.4v2.4h-2.4zM265.40 207.15h2.4v2.4h-2.4zM265.69 207.68h2.4v2.4h-2.4zM265.98 208.15h2.4v2.4h-2.4zM266.27 204.05h2.4v2.4h-2.4zM266.56 207.55h2.4v2.4h-2.4zM266.85 211.21h2.4v2.4h-2.4zM267.14 203.94h2.4v2.4h-2.4zM267.43 208.17h2.4v2.4h-2.4zM267.72 204.84h2.4v2.4h-2.4zM268.00 204.82h2.4v2.4h-2.4zM268.29 202.22h2.4v2.4h-2.4zM268.58 202.76h2.4v2.4h-2.4zM268.87 207.92h2.4v2.4h-2.4zM269.16 206.65h2.4v2.4h-2.4zM269.45 210.24h2.4v2.4h-2.4zM269.74 200.88h2.4v2.4h-2.4zM270.03 204.82h2.4v2.4h-2.4zM270.32 201.84h2.4v2.4h-2.4zM270.61 207.27h2.4v2.4h-2.4zM270.90 212.76h2.4v2.4h-2.4zM271.19 201.50h2.4v2.4h-2.4zM271.48 206.06h2.4v2.4h-2.4zM271.77 205.96h2.4v2.4h-2.4zM272.06 206.23h2.4v2.4h-2.4zM272.35 204.40h2.4v2.4h-2.4zM272.64 204.78h2.4v2.4h-2.4zM272.93 211.48h2.4v2.4h-2.4zM273.22 203.09h2.4v2.4h-2.4zM273.51 208.19h2.4v2.4h-2.4zM273.79 208.02h2.4v2.4h-2.4zM274.08 201.16h2.4v2.4h-2.4zM274.37 203.72h2.4v2.4h-2.4zM274.66 207.68h2.4v2.4h-2.4zM274.95 212.46h2.4v2.4h-2.4zM275.24 206.16h2.4v2.4h-2.4zM275.53 205.01h2.4v2.4h-2.4zM275.82 206.97h2.4v2.4h-2.4zM276.11 210.63h2.4v2.4h-2.4zM276.40 209.23h2.4v2.4h-2.4zM276.69 210.70h2.4v2.4h-2.4zM276.98 206.13h2.4v2.4h-2.4zM277.27 204.27h2.4v2.4h-2.4zM277.56 203.65h2.4v2.4h-2.4zM277.85 209.14h2.4v2.4h-2.4zM278.14 206.15h2.4v2.4h-2.4zM278.43 205.18h2.4v2.4h-2.4zM278.72 208.51h2.4v2.4h-2.4zM279.01 207.40h2.4v2.4h-2.4zM279.30 200.36h2.4v2.4h-2.4zM279.58 206.34h2.4v2.4h-2.4zM279.87 204.26h2.4v2.4h-2.4zM280.16 208.37h2.4v2.4h-2.4zM280.45 206.91h2.4v2.4h-2.4zM280.74 212.37h2.4v2.4h-2.4zM281.03 207.15h2.4v2.4h-2.4zM281.32 203.39h2.4v2.4h-2.4zM281.61 200.60h2.4v2.4h-2.4zM281.90 203.42h2.4v2.4h-2.4zM282.19 205.01h2.4v2.4h-2.4zM282.48 206.99h2.4v2.4h-2.4zM282.77 209.03h2.4v2.4h-2.4zM283.06 207.69h2.4v2.4h-2.4zM283.35 205.31h2.4v2.4h-2.4zM283.64 209.65h2.4v2.4h-2.4zM283.93 204.35h2.4v2.4h-2.4zM284.22 210.29h2.4v2.4h-2.4zM284.51 212.76h2.4v2.4h-2.4zM284.80 210.41h2.4v2.4h-2.4zM285.09 212.44h2.4v2.4h-2.4zM285.37 211.55h2.4v2.4h-2.4zM285.66 203.83h2.4v2.4h-2.4zM285.95 207.96h2.4v2.4h-2.4zM286.24 206.68h2.4v2.4h-2.4zM286.53 203.80h2.4v2.4h-2.4zM286.82 203.50h2.4v2.4h-2.4zM287.11 208.95h2.4v2.4h-2.4zM287.40 203.32h2.4v2.4h-2.4zM287.69 206.24h2.4v2.4h-2.4zM287.98 207.43h2.4v2.4h-2.4zM288.27 206.09h2.4v2.4h-2.4zM288.56 211.85h2.4v2.4h-2.4zM288.85 209.89h2.4v2.4h-2.4zM289.14 207.82h2.4v2.4h-2.4zM289.43 205.62h2.4v2.4h-2.4zM289.72 208.65h2.4v2.4h-2.4zM290.01 207.91h2.4v2.4h-2.4zM290.30 204.56h2.4v2.4h-2.4zM290.59 203.21h2.4v2.4h-2.4zM290.88 205.20h2.4v2.4h-2.4zM291.16 203.67h2.4v2.4h-2.4zM291.45 208.82h2.4v2.4h-2.4zM291.74 208.53h2.4v2.4h-2.4zM292.03 206.62h2.4v2.4h-2.4zM292.32 208.53h2.4v2.4h-2.4zM292.61 209.18h2.4v2.4h-2.4zM292.90 202.57h2.4v2.4h-2.4zM293.19 208.26h2.4v2.4h-2.4zM293.48 210.61h2.4v2.4h-2.4zM293.77 206.17h2.4v2.4h-2.4zM294.06 202.05h2.4v2.4h-2.4zM294.35 207.43h2.4v2.4h-2.4zM294.64 203.92h2.4v2.4h-2.4zM294.93 209.04h2.4v2.4h-2.4zM295.22 209.21h2.4v2.4h-2.4zM295.51 209.83h2.4v2.4h-2.4zM295.80 208.17h2.4v2.4h-2.4zM296.09 202.12h2.4v2.4h-2.4zM296.38 211.28h2.4v2.4h-2.4zM296.67 202.75h2.4v2.4h-2.4zM296.95 210.84h2.4v2.4h-2.4zM297.24 208.49h2.4v2.4h-2.4zM297.53 205.23h2.4v2.4h-2.4zM297.82 205.86h2.4v2.4h-2.4zM298.11 206.94h2.4v2.4h-2.4zM298.40 212.84h2.4v2.4h-2.4zM298.69 206.71h2.4v2.4h-2.4zM298.98 210.94h2.4v2.4h-2.4zM299.27 199.99h2.4v2.4h-2.4zM299.56 208.49h2.4v2.4h-2.4zM299.85 207.27h2.4v2.4h-2.4zM300.14 211.35h2.4v2.4h-2.4zM300.43 209.32h2.4v2.4h-2.4zM300.72 211.80h2.4v2.4h-2.4zM301.01 204.88h2.4v2.4h-2.4zM301.30 208.68h2.4v2.4h-2.4zM301.59 206.17h2.4v2.4h-2.4zM301.88 209.98h2.4v2.4h-2.4zM302.17 209.43h2.4v2.4h-2.4zM302.46 203.99h2.4v2.4h-2.4zM302.74 210.87h2.4v2.4h-2.4zM303.03 213.41h2.4v2.4h-2.4zM303.32 206.69h2.4v2.4h-2.4zM303.61 211.41h2.4v2.4h-2.4zM303.90 209.28h2.4v2.4h-2.4zM304.19 205.17h2.4v2.4h-2.4zM304.48 210.45h2.4v2.4h-2.4zM304.77 205.29h2.4v2.4h-2.4zM305.06 210.04h2.4v2.4h-2.4zM305.35 203.44h2.4v2.4h-2.4zM305.64 203.95h2.4v2.4h-2.4zM305.93 209.42h2.4v2.4h-2.4zM306.22 208.64h2.4v2.4h-2.4zM306.51 210.53h2.4v2.4h-2.4zM306.80 207.39h2.4v2.4h-2.4zM307.09 204.52h2.4v2.4h-2.4zM307.38 212.41h2.4v2.4h-2.4zM307.67 205.23h2.4v2.4h-2.4zM307.96 212.05h2.4v2.4h-2.4zM308.25 210.64h2.4v2.4h-2.4zM308.53 213.47h2.4v2.4h-2.4zM308.82 201.65h2.4v2.4h-2.4zM309.11 207.87h2.4v2.4h-2.4zM309.40 207.31h2.4v2.4h-2.4zM309.69 210.11h2.4v2.4h-2.4zM309.98 204.82h2.4v2.4h-2.4zM310.27 214.45h2.4v2.4h-2.4zM310.56 207.99h2.4v2.4h-2.4zM310.85 201.38h2.4v2.4h-2.4zM311.14 209.24h2.4v2.4h-2.4zM311.43 208.04h2.4v2.4h-2.4zM311.72 206.05h2.4v2.4h-2.4zM312.01 210.56h2.4v2.4h-2.4zM312.30 208.03h2.4v2.4h-2.4zM312.59 205.19h2.4v2.4h-2.4zM312.88 207.52h2.4v2.4h-2.4zM313.17 206.99h2.4v2.4h-2.4zM313.46 209.18h2.4v2.4h-2.4zM313.75 207.17h2.4v2.4h-2.4zM314.04 207.96h2.4v2.4h-2.4zM314.32 203.72h2.4v2.4h-2.4zM314.61 205.94h2.4v2.4h-2.4zM314.90 208.88h2.4v2.4h-2.4zM315.19 215.56h2.4v2.4h-2.4zM315.48 205.98h2.4v2.4h-2.4zM315.77 205.87h2.4v2.4h-2.4zM316.06 210.94h2.4v2.4h-2.4zM316.35 214.22h2.4v2.4h-2.4zM316.64 211.63h2.4v2.4h-2.4zM316.93 205.37h2.4v2.4h-2.4zM317.22 211.40h2.4v2.4h-2.4zM317.51 209.57h2.4v2.4h-2.4zM317.80 207.52h2.4v2.4h-2.4zM318.09 204.48h2.4v2.4h-2.4zM318.38 208.25h2.4v2.4h-2.4zM318.67 208.50h2.4v2.4h-2.4zM318.96 209.86h2.4v2.4h-2.4zM319.25 203.27h2.4v2.4h-2.4zM319.54 204.99h2.4v2.4h-2.4zM319.83 208.50h2.4v2.4h-2.4zM320.11 212.44h2.4v2.4h-2.4zM320.40 210.61h2.4v2.4h-2.4zM320.69 206.47h2.4v2.4h-2.4zM320.98 210.41h2.4v2.4h-2.4zM321.27 205.54h2.4v2.4h-2.4zM321.56 207.14h2.4v2.4h-2.4zM321.85 207.36h2.4v2.4h-2.4zM322.14 206.27h2.4v2.4h-2.4zM322.43 206.74h2.4v2.4h-2.4zM322.72 210.84h2.4v2.4h-2.4zM323.01 209.24h2.4v2.4h-2.4zM323.30 201.19h2.4v2.4h-2.4zM323.59 211.91h2.4v2.4h-2.4zM323.88 209.70h2.4v2.4h-2.4zM324.17 205.05h2.4v2.4h-2.4zM324.46 208.75h2.4v2.4h-2.4zM324.75 210.73h2.4v2.4h-2.4zM325.04 212.28h2.4v2.4h-2.4zM325.33 206.67h2.4v2.4h-2.4zM325.62 205.21h2.4v2.4h-2.4zM325.90 204.06h2.4v2.4h-2.4zM326.19 208.13h2.4v2.4h-2.4zM326.48 205.14h2.4v2.4h-2.4zM326.77 211.42h2.4v2.4h-2.4zM327.06 207.80h2.4v2.4h-2.4zM327.35 210.35h2.4v2.4h-2.4zM327.64 207.79h2.4v2.4h-2.4zM327.93 206.05h2.4v2.4h-2.4zM328.22 205.09h2.4v2.4h-2.4zM328.51 211.31h2.4v2.4h-2.4zM328.80 204.50h2.4v2.4h-2.4z"/>
<path d="M40.5 2V240.5M39.75 236H330.5V240.5" stroke="#1c1c1c" stroke-width="1.5" fill="none"/><path d="M36.0 231.5H40.5M38.0 210.8H40.5M36.0 190.1H40.5M38.0 169.4H40.5M36.0 148.6H40.5M38.0 127.9H40.5M36.0 107.2H40.5M38.0 86.5H40.5M36.0 65.8H40.5M38.0 45.1H40.5M36.0 24.3H40.5M38.0 3.6H40.5M40.5 236V240.5M76.7 236V238.5M112.9 236V240.5M149.1 236V238.5M185.2 236V240.5M221.4 236V238.5M257.6 236V240.5M293.8 236V238.5M330.0 236V240.5" stroke="#1c1c1c" stroke-width="1.5" fill="none"/>
<g fill="#111"><text x="33.2" y="234.5" text-anchor="end" font-size="10">0</text><text x="33.2" y="193.1" text-anchor="end" font-size="10">100</text><text x="33.2" y="151.6" text-anchor="end" font-size="10">200</text><text x="33.2" y="110.2" text-anchor="end" font-size="10">300</text><text x="33.2" y="68.8" text-anchor="end" font-size="10">400</text><text x="33.2" y="27.3" text-anchor="end" font-size="10">500</text><text x="40.5" y="251.8" text-anchor="middle" font-size="10.3">30</text><text x="112.9" y="251.8" text-anchor="middle" font-size="10.3">35</text><text x="185.2" y="251.8" text-anchor="middle" font-size="10.3">40</text><text x="257.6" y="251.8" text-anchor="middle" font-size="10.3">45</text><text x="330.0" y="251.8" text-anchor="middle" font-size="10.3">50</text>
<text x="185" y="270.5" text-anchor="middle" font-size="12">2 Theta</text>
<text transform="translate(11.7 117.6) rotate(-90)" text-anchor="middle" font-size="12.2">Intensity (cps)</text>
<text x="94" y="90" font-size="13.8">Mo</text><text x="112.6" y="93.5" font-size="13.8">3</text><text x="121" y="90" font-size="13.8" letter-spacing="0.45">Si (210)</text>
<text x="255.6" y="132.6" font-size="12" letter-spacing="0.75">amorphous</text>
</g>
<g stroke="#161616" stroke-width="1.5" stroke-dasharray="4.5 3" fill="none">
<path d="M256.2 134.6L196.5 146.1"/><path d="M256.2 135L196 177.4"/>
</g>
<g fill="#111"><path d="M191.2 147.2L195.7 143.4L196.8 148.8Z"/><path d="M191.6 180.6L194.1 175.3L197.5 179.8Z"/></g>
<rect x="231.8" y="9.8" width="107.2" height="61" fill="#fff" stroke="#6a6a6a" stroke-width="1"/>
<g stroke-width="1">
<path d="M233.5 18.3H260" stroke="#ffb0b0"/><path d="M233.5 33.3H260" stroke="#90f090"/><path d="M233.5 48.2H260" stroke="#2a6060"/><path d="M233.5 63H260" stroke="#70d4ff"/>
</g>
<g><rect x="245.5" y="17.3" width="2" height="2" fill="#ff1010"/><rect x="245.5" y="32.3" width="2" height="2" fill="#10e010"/><rect x="245.5" y="47.2" width="2" height="2" fill="#064040"/><rect x="245.5" y="62" width="2" height="2" fill="#30b8f0"/></g>
<g fill="#111" font-size="11.7">
<text x="264.2" y="22.9">10.3 nm run 1</text>
<text x="266.8" y="37.9">7 nm run 9</text>
<text x="265" y="52.8">8.9 nm run 3</text>
<text x="265" y="67.5">4.5 nm run 3</text>
</g>
</svg>
</body></html>
